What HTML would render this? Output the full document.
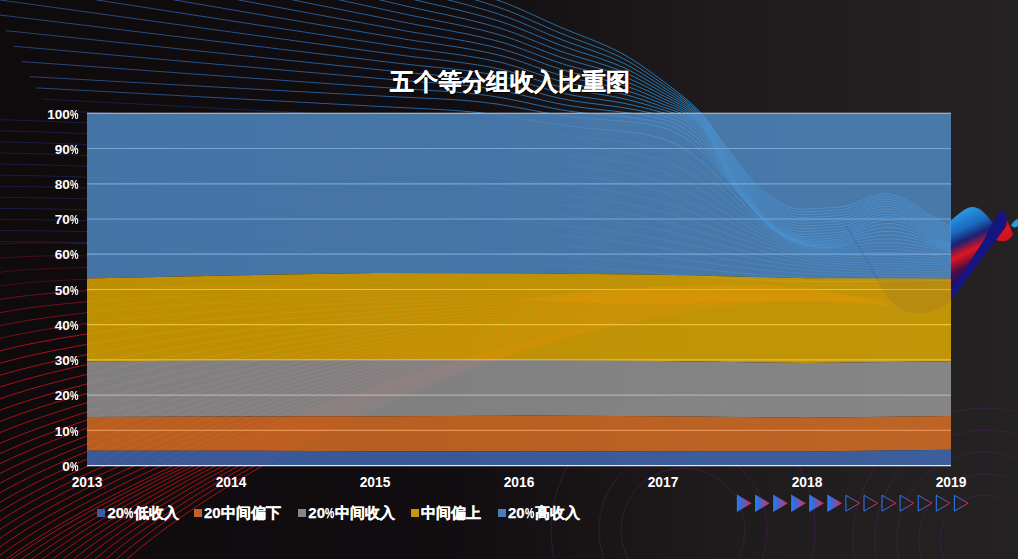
<!DOCTYPE html>
<html><head><meta charset="utf-8"><style>
html,body{margin:0;padding:0;}
body{width:1018px;height:559px;overflow:hidden;position:relative;background:#110c0f;font-family:"Liberation Sans",sans-serif;color:#fff;}
.t{position:absolute;white-space:nowrap;font-weight:bold;}
.title{left:1px;width:1018px;text-align:center;top:65px;font-size:23.7px;line-height:34px;text-shadow:1px 1px 1px #000;-webkit-text-stroke:0.15px #fff;}
.yl{position:absolute;right:939.5px;font-size:13.6px;line-height:16px;font-weight:bold;text-align:right;}
.xl{position:absolute;width:60px;margin-left:-30px;text-align:center;font-size:13.8px;line-height:16px;font-weight:bold;}
.pc{display:inline-block;transform:scaleX(0.7);transform-origin:left center;margin-right:-3.5px;}
.lg{position:absolute;top:503px;font-size:15px;line-height:20px;font-weight:bold;-webkit-text-stroke:0.25px #fff;}
.sq{position:absolute;width:8px;height:8px;top:509px;}
</style></head><body>
<svg width="1018" height="559" viewBox="0 0 1018 559" style="position:absolute;left:0;top:0">
<defs>
<linearGradient id="bg" gradientUnits="userSpaceOnUse" x1="0" y1="0" x2="1018" y2="0">
<stop offset="0" stop-color="#0f0a0c"/><stop offset="0.45" stop-color="#120d10"/><stop offset="0.7" stop-color="#1f1b1c"/><stop offset="1" stop-color="#252223"/></linearGradient>
<linearGradient id="bluegrad" gradientUnits="userSpaceOnUse" x1="0" y1="0" x2="700" y2="0"><stop offset="0" stop-color="#2d4f8c"/><stop offset="0.45" stop-color="#2b6cb0"/><stop offset="1" stop-color="#2a90d8"/></linearGradient>
<linearGradient id="tri" x1="0" y1="0" x2="1" y2="0">
<stop offset="0" stop-color="#2a7cf2"/><stop offset="0.3" stop-color="#3a6ad8"/><stop offset="0.65" stop-color="#904c98"/><stop offset="1" stop-color="#f41c30"/></linearGradient>
<linearGradient id="rib" x1="0" y1="0" x2="1" y2="1">
<stop offset="0" stop-color="#1a90e0"/><stop offset="0.4" stop-color="#101a70"/><stop offset="0.6" stop-color="#e01828"/><stop offset="1" stop-color="#1a0a60"/></linearGradient>
</defs>
<rect width="1018" height="559" fill="url(#bg)"/>
<circle cx="683" cy="530" r="62" fill="none" stroke="#4a1f5a" stroke-width="1" opacity="0.55"/>
<circle cx="683" cy="530" r="84" fill="none" stroke="#4a1f5a" stroke-width="1" opacity="0.55"/>
<circle cx="683" cy="530" r="132" fill="none" stroke="#4a1f5a" stroke-width="1" opacity="0.55"/>
<circle cx="985" cy="540" r="45" fill="none" stroke="#4a1f5a" stroke-width="1" opacity="0.55"/>
<circle cx="985" cy="540" r="66" fill="none" stroke="#4a1f5a" stroke-width="1" opacity="0.55"/>
<circle cx="985" cy="540" r="88" fill="none" stroke="#4a1f5a" stroke-width="1" opacity="0.55"/>
<circle cx="985" cy="540" r="110" fill="none" stroke="#4a1f5a" stroke-width="1" opacity="0.55"/>
<circle cx="985" cy="540" r="132" fill="none" stroke="#4a1f5a" stroke-width="1" opacity="0.55"/>
<g id="bglines">
<defs><linearGradient id="bdim" gradientUnits="userSpaceOnUse" x1="87" y1="0" x2="951" y2="0"><stop offset="0" stop-color="#666"/><stop offset="0.5" stop-color="#777"/><stop offset="0.7" stop-color="#fff"/><stop offset="1" stop-color="#fff"/></linearGradient><mask id="bmask" maskUnits="userSpaceOnUse" x="0" y="0" width="1018" height="559"><rect width="1018" height="559" fill="#fff"/><rect x="87" y="113" width="864" height="353" fill="url(#bdim)"/></mask></defs>
<g mask="url(#bmask)">
<defs><linearGradient id="navygrad" gradientUnits="userSpaceOnUse" x1="0" y1="0" x2="951" y2="0"><stop offset="0" stop-color="#1e2a6a"/><stop offset="0.5" stop-color="#24408a"/><stop offset="1" stop-color="#3a8ad8"/></linearGradient></defs>
<path d="M-20.0,-156.1 L-18.0,-155.5 L-16.0,-154.9 L-14.0,-154.3 L-12.0,-153.7 L-10.0,-153.0 L-8.0,-152.4 L-6.0,-151.8 L-4.0,-151.2 L-2.0,-150.6 L0.0,-150.0 L2.0,-149.4 L4.0,-148.8 L6.0,-148.2 L8.0,-147.6 L10.0,-147.0 L12.0,-146.3 L14.0,-145.7 L16.0,-145.1 L18.0,-144.5 L20.0,-143.9 L22.0,-143.3 L24.0,-142.7 L26.0,-142.1 L28.0,-141.5 L30.0,-140.9 L32.0,-140.3 L34.0,-139.7 L36.0,-139.0 L38.0,-138.4 L40.0,-137.8 L42.0,-137.2 L44.0,-136.6 L46.0,-136.0 L48.0,-135.4 L50.0,-134.8 L52.0,-134.2 L54.0,-133.6 L56.0,-133.0 L58.0,-132.4 L60.0,-131.8 L62.0,-131.1 L64.0,-130.5 L66.0,-129.9 L68.0,-129.3 L70.0,-128.7 L72.0,-128.1 L74.0,-127.5 L76.0,-126.9 L78.0,-126.3 L80.0,-125.7 L82.0,-125.1 L84.0,-124.5 L86.0,-123.9 L88.0,-123.2 L90.0,-122.6 L92.0,-122.0 L94.0,-121.4 L96.0,-120.8 L98.0,-120.2 L100.0,-119.6 L102.0,-119.0 L104.0,-118.4 L106.0,-117.8 L108.0,-117.2 L110.0,-116.6 L112.0,-116.0 L114.0,-115.3 L116.0,-114.7 L118.0,-114.1 L120.0,-113.5 L122.0,-112.9 L124.0,-112.3 L126.0,-111.7 L128.0,-111.1 L130.0,-110.5 L132.0,-109.9 L134.0,-109.3 L136.0,-108.7 L138.0,-108.0 L140.0,-107.4 L142.0,-106.8 L144.0,-106.2 L146.0,-105.6 L148.0,-105.0 L150.0,-104.4 L152.0,-103.8 L154.0,-103.2 L156.0,-102.6 L158.0,-102.0 L160.0,-101.4 L162.0,-100.7 L164.0,-100.1 L166.0,-99.5 L168.0,-98.9 L170.0,-98.3 L172.0,-97.7 L174.0,-97.1 L176.0,-96.5 L178.0,-95.9 L180.0,-95.3 L182.0,-94.7 L184.0,-94.1 L186.0,-93.5 L188.0,-92.8 L190.0,-92.2 L192.0,-91.6 L194.0,-91.0 L196.0,-90.4 L198.0,-89.8 L200.0,-89.2 L202.0,-88.6 L204.0,-88.0 L206.0,-87.4 L208.0,-86.8 L210.0,-86.2 L212.0,-85.6 L214.0,-84.9 L216.0,-84.3 L218.0,-83.7 L220.0,-83.1 L222.0,-82.5 L224.0,-81.9 L226.0,-81.3 L228.0,-80.7 L230.0,-80.1 L232.0,-79.5 L234.0,-78.9 L236.0,-78.3 L238.0,-77.6 L240.0,-77.0 L242.0,-76.4 L244.0,-75.8 L246.0,-75.2 L248.0,-74.6 L250.0,-74.0 L252.0,-73.4 L254.0,-72.8 L256.0,-72.2 L258.0,-71.6 L260.0,-70.9 L262.0,-70.3 L264.0,-69.7 L266.0,-69.1 L268.0,-68.5 L270.0,-67.9 L272.0,-67.3 L274.0,-66.7 L276.0,-66.1 L278.0,-65.5 L280.0,-64.9 L282.0,-64.3 L284.0,-63.7 L286.0,-63.1 L288.0,-62.5 L290.0,-61.8 L292.0,-61.2 L294.0,-60.6 L296.0,-60.0 L298.0,-59.4 L300.0,-58.8 L302.0,-58.2 L304.0,-57.6 L306.0,-57.0 L308.0,-56.4 L310.0,-55.8 L312.0,-55.2 L314.0,-54.6 L316.0,-54.0 L318.0,-53.4 L320.0,-52.8 L322.0,-52.2 L324.0,-51.6 L326.0,-51.0 L328.0,-50.4 L330.0,-49.8 L332.0,-49.2 L334.0,-48.6 L336.0,-48.0 L338.0,-47.4 L340.0,-46.8 L342.0,-46.2 L344.0,-45.6 L346.0,-45.0 L348.0,-44.4 L350.0,-43.9 L352.0,-43.3 L354.0,-42.7 L356.0,-42.1 L358.0,-41.5 L360.0,-40.9 L362.0,-40.3 L364.0,-39.7 L366.0,-39.1 L368.0,-38.5 L370.0,-37.9 L372.0,-37.3 L374.0,-36.7 L376.0,-36.1 L378.0,-35.5 L380.0,-35.0 L382.0,-34.4 L384.0,-33.8 L386.0,-33.2 L388.0,-32.6 L390.0,-32.0 L392.0,-31.4 L394.0,-30.8 L396.0,-30.2 L398.0,-29.6 L400.0,-29.0 L402.0,-28.4 L404.0,-27.8 L406.0,-27.2 L408.0,-26.6 L410.0,-26.1 L412.0,-25.5 L414.0,-24.9 L416.0,-24.3 L418.0,-23.8 L420.0,-23.2 L422.0,-22.6 L424.0,-22.1 L426.0,-21.5 L428.0,-21.0 L430.0,-20.4 L432.0,-19.8 L434.0,-19.3 L436.0,-18.7 L438.0,-18.2 L440.0,-17.6 L442.0,-17.0 L444.0,-16.5 L446.0,-15.9 L448.0,-15.3 L450.0,-14.8 L452.0,-14.2 L454.0,-13.6 L456.0,-13.0 L458.0,-12.5 L460.0,-11.9 L462.0,-11.3 L464.0,-10.7 L466.0,-10.1 L468.0,-9.5 L470.0,-8.9 L472.0,-8.3 L474.0,-7.7 L476.0,-7.0 L478.0,-6.4 L480.0,-5.8 L482.0,-5.1 L484.0,-4.5 L486.0,-3.8 L488.0,-3.2 L490.0,-2.5 L492.0,-1.8 L494.0,-1.1 L496.0,-0.4 L498.0,0.3 L500.0,1.0 L502.0,1.7 L504.0,2.5 L506.0,3.2 L508.0,4.0 L510.0,4.8 L512.0,5.6 L514.0,6.5 L516.0,7.3 L518.0,8.2 L520.0,9.0 L522.0,9.9 L524.0,10.8 L526.0,11.7 L528.0,12.6 L530.0,13.5 L532.0,14.4 L534.0,15.3 L536.0,16.2 L538.0,17.1 L540.0,18.0 L542.0,19.0 L544.0,19.9 L546.0,20.8 L548.0,21.7 L550.0,22.6 L552.0,23.5 L554.0,24.4 L556.0,25.3 L558.0,26.1 L560.0,27.0 L562.0,27.9 L564.0,28.7 L566.0,29.5 L568.0,30.3 L570.0,31.1 L572.0,31.9 L574.0,32.7 L576.0,33.5 L578.0,34.3 L580.0,35.1 L582.0,35.9 L584.0,36.7 L586.0,37.5 L588.0,38.3 L590.0,39.0 L592.0,39.8 L594.0,40.7 L596.0,41.5 L598.0,42.3 L600.0,43.1 L602.0,44.0 L604.0,44.9 L606.0,45.7 L608.0,46.6 L610.0,47.6 L612.0,48.5 L614.0,49.5 L616.0,50.4 L618.0,51.4 L620.0,52.5 L622.0,53.5 L624.0,54.6 L626.0,55.8 L628.0,56.9 L630.0,58.2 L632.0,59.4 L634.0,60.7 L636.0,62.0 L638.0,63.3 L640.0,64.6 L642.0,66.0 L644.0,67.4 L646.0,68.8 L648.0,70.2 L650.0,71.7 L652.0,73.1 L654.0,74.6 L656.0,76.1 L658.0,77.5 L660.0,79.0 L662.0,80.5 L664.0,81.9 L666.0,83.4 L668.0,84.9 L670.0,86.4 L672.0,87.9 L674.0,89.4 L676.0,90.9 L678.0,92.5 L680.0,94.0 L682.0,95.6 L684.0,97.3 L686.0,99.0 L688.0,100.7 L690.0,102.4 L692.0,104.2 L694.0,106.1 L696.0,108.0 L698.0,110.0 L700.0,112.0 L702.0,114.2 L704.0,116.5 L706.0,118.9 L708.0,121.5 L710.0,124.2 L712.0,127.0 L714.0,129.8 L716.0,132.7 L718.0,135.6 L720.0,138.5 L722.0,141.3 L724.0,144.1 L726.0,146.8 L728.0,149.5 L730.0,152.0 L732.0,154.5 L734.0,157.0 L736.0,159.6 L738.0,162.2 L740.0,164.8 L742.0,167.4 L744.0,170.0 L746.0,172.6 L748.0,175.1 L750.0,177.5 L752.0,179.9 L754.0,182.2 L756.0,184.4 L758.0,186.5 L760.0,188.4 L762.0,190.2 L764.0,191.9 L766.0,193.3 L768.0,194.6 L770.0,195.9 L772.0,197.2 L774.0,198.5 L776.0,199.8 L778.0,201.0 L780.0,202.2 L782.0,203.4 L784.0,204.4 L786.0,205.4 L788.0,206.3 L790.0,207.1 L792.0,207.7 L794.0,208.3 L796.0,208.7 L798.0,208.9 L800.0,209.0 L802.0,209.0 L804.0,209.0 L806.0,208.9 L808.0,208.9 L810.0,208.8 L812.0,208.8 L814.0,208.7 L816.0,208.6 L818.0,208.5 L820.0,208.4 L822.0,208.3 L824.0,208.2 L826.0,208.1 L828.0,207.9 L830.0,207.8 L832.0,207.6 L834.0,207.5 L836.0,207.3 L838.0,207.2 L840.0,207.0 L842.0,206.8 L844.0,206.4 L846.0,206.0 L848.0,205.5 L850.0,204.9 L852.0,204.2 L854.0,203.4 L856.0,202.7 L858.0,201.9 L860.0,201.1 L862.0,200.2 L864.0,199.4 L866.0,198.6 L868.0,197.8 L870.0,197.1 L872.0,196.4 L874.0,195.8 L876.0,195.2 L878.0,194.8 L880.0,194.4 L882.0,194.1 L884.0,194.0 L886.0,194.0 L888.0,194.1 L890.0,194.4 L892.0,194.8 L894.0,195.2 L896.0,195.8 L898.0,196.5 L900.0,197.3 L902.0,198.1 L904.0,199.0 L906.0,200.0 L908.0,201.1 L910.0,202.2 L912.0,203.4 L914.0,204.6 L916.0,205.8 L918.0,207.1 L920.0,208.4 L922.0,209.7 L924.0,211.0 L926.0,212.3 L928.0,213.6 L930.0,214.9 L932.0,216.2 L934.0,217.4 L936.0,218.6 L938.0,219.8 L940.0,220.9 L942.0,222.0 L944.0,223.0 L946.0,224.0 L948.0,224.8 L950.0,225.6" fill="none" stroke="url(#bluegrad)" stroke-width="0.9" opacity="0.90"/>
<path d="M-20.0,-140.8 L-18.0,-140.2 L-16.0,-139.6 L-14.0,-139.0 L-12.0,-138.5 L-10.0,-137.9 L-8.0,-137.3 L-6.0,-136.7 L-4.0,-136.2 L-2.0,-135.6 L0.0,-135.0 L2.0,-134.4 L4.0,-133.8 L6.0,-133.3 L8.0,-132.7 L10.0,-132.1 L12.0,-131.5 L14.0,-131.0 L16.0,-130.4 L18.0,-129.8 L20.0,-129.2 L22.0,-128.7 L24.0,-128.1 L26.0,-127.5 L28.0,-126.9 L30.0,-126.4 L32.0,-125.8 L34.0,-125.2 L36.0,-124.6 L38.0,-124.1 L40.0,-123.5 L42.0,-122.9 L44.0,-122.3 L46.0,-121.8 L48.0,-121.2 L50.0,-120.6 L52.0,-120.0 L54.0,-119.5 L56.0,-118.9 L58.0,-118.3 L60.0,-117.8 L62.0,-117.2 L64.0,-116.6 L66.0,-116.0 L68.0,-115.5 L70.0,-114.9 L72.0,-114.3 L74.0,-113.7 L76.0,-113.2 L78.0,-112.6 L80.0,-112.0 L82.0,-111.4 L84.0,-110.9 L86.0,-110.3 L88.0,-109.7 L90.0,-109.1 L92.0,-108.6 L94.0,-108.0 L96.0,-107.4 L98.0,-106.8 L100.0,-106.3 L102.0,-105.7 L104.0,-105.1 L106.0,-104.5 L108.0,-104.0 L110.0,-103.4 L112.0,-102.8 L114.0,-102.2 L116.0,-101.7 L118.0,-101.1 L120.0,-100.5 L122.0,-99.9 L124.0,-99.4 L126.0,-98.8 L128.0,-98.2 L130.0,-97.6 L132.0,-97.1 L134.0,-96.5 L136.0,-95.9 L138.0,-95.3 L140.0,-94.8 L142.0,-94.2 L144.0,-93.6 L146.0,-93.0 L148.0,-92.5 L150.0,-91.9 L152.0,-91.3 L154.0,-90.7 L156.0,-90.2 L158.0,-89.6 L160.0,-89.0 L162.0,-88.4 L164.0,-87.9 L166.0,-87.3 L168.0,-86.7 L170.0,-86.1 L172.0,-85.6 L174.0,-85.0 L176.0,-84.4 L178.0,-83.8 L180.0,-83.3 L182.0,-82.7 L184.0,-82.1 L186.0,-81.5 L188.0,-81.0 L190.0,-80.4 L192.0,-79.8 L194.0,-79.2 L196.0,-78.7 L198.0,-78.1 L200.0,-77.5 L202.0,-76.9 L204.0,-76.4 L206.0,-75.8 L208.0,-75.2 L210.0,-74.6 L212.0,-74.1 L214.0,-73.5 L216.0,-72.9 L218.0,-72.3 L220.0,-71.8 L222.0,-71.2 L224.0,-70.6 L226.0,-70.0 L228.0,-69.5 L230.0,-68.9 L232.0,-68.3 L234.0,-67.7 L236.0,-67.2 L238.0,-66.6 L240.0,-66.0 L242.0,-65.4 L244.0,-64.9 L246.0,-64.3 L248.0,-63.7 L250.0,-63.1 L252.0,-62.6 L254.0,-62.0 L256.0,-61.4 L258.0,-60.8 L260.0,-60.3 L262.0,-59.7 L264.0,-59.1 L266.0,-58.5 L268.0,-58.0 L270.0,-57.4 L272.0,-56.8 L274.0,-56.2 L276.0,-55.7 L278.0,-55.1 L280.0,-54.5 L282.0,-53.9 L284.0,-53.4 L286.0,-52.8 L288.0,-52.2 L290.0,-51.7 L292.0,-51.1 L294.0,-50.5 L296.0,-49.9 L298.0,-49.4 L300.0,-48.8 L302.0,-48.2 L304.0,-47.7 L306.0,-47.1 L308.0,-46.5 L310.0,-45.9 L312.0,-45.4 L314.0,-44.8 L316.0,-44.2 L318.0,-43.7 L320.0,-43.1 L322.0,-42.5 L324.0,-42.0 L326.0,-41.4 L328.0,-40.8 L330.0,-40.3 L332.0,-39.7 L334.0,-39.1 L336.0,-38.6 L338.0,-38.0 L340.0,-37.4 L342.0,-36.9 L344.0,-36.3 L346.0,-35.8 L348.0,-35.2 L350.0,-34.6 L352.0,-34.1 L354.0,-33.5 L356.0,-33.0 L358.0,-32.4 L360.0,-31.8 L362.0,-31.3 L364.0,-30.7 L366.0,-30.1 L368.0,-29.6 L370.0,-29.0 L372.0,-28.5 L374.0,-27.9 L376.0,-27.3 L378.0,-26.8 L380.0,-26.2 L382.0,-25.7 L384.0,-25.1 L386.0,-24.5 L388.0,-24.0 L390.0,-23.4 L392.0,-22.8 L394.0,-22.3 L396.0,-21.7 L398.0,-21.2 L400.0,-20.6 L402.0,-20.0 L404.0,-19.5 L406.0,-18.9 L408.0,-18.4 L410.0,-17.8 L412.0,-17.3 L414.0,-16.7 L416.0,-16.2 L418.0,-15.7 L420.0,-15.1 L422.0,-14.6 L424.0,-14.1 L426.0,-13.5 L428.0,-13.0 L430.0,-12.5 L432.0,-12.0 L434.0,-11.4 L436.0,-10.9 L438.0,-10.4 L440.0,-9.8 L442.0,-9.3 L444.0,-8.8 L446.0,-8.3 L448.0,-7.7 L450.0,-7.2 L452.0,-6.6 L454.0,-6.1 L456.0,-5.6 L458.0,-5.0 L460.0,-4.5 L462.0,-3.9 L464.0,-3.3 L466.0,-2.8 L468.0,-2.2 L470.0,-1.6 L472.0,-1.1 L474.0,-0.5 L476.0,0.1 L478.0,0.7 L480.0,1.3 L482.0,1.9 L484.0,2.6 L486.0,3.2 L488.0,3.8 L490.0,4.5 L492.0,5.1 L494.0,5.8 L496.0,6.4 L498.0,7.1 L500.0,7.8 L502.0,8.5 L504.0,9.2 L506.0,10.0 L508.0,10.7 L510.0,11.5 L512.0,12.3 L514.0,13.1 L516.0,13.9 L518.0,14.7 L520.0,15.6 L522.0,16.4 L524.0,17.3 L526.0,18.1 L528.0,19.0 L530.0,19.9 L532.0,20.8 L534.0,21.7 L536.0,22.6 L538.0,23.4 L540.0,24.3 L542.0,25.2 L544.0,26.1 L546.0,27.0 L548.0,27.9 L550.0,28.7 L552.0,29.6 L554.0,30.5 L556.0,31.3 L558.0,32.2 L560.0,33.0 L562.0,33.8 L564.0,34.6 L566.0,35.4 L568.0,36.2 L570.0,37.0 L572.0,37.7 L574.0,38.5 L576.0,39.2 L578.0,40.0 L580.0,40.7 L582.0,41.4 L584.0,42.2 L586.0,42.9 L588.0,43.7 L590.0,44.4 L592.0,45.2 L594.0,45.9 L596.0,46.7 L598.0,47.5 L600.0,48.2 L602.0,49.0 L604.0,49.9 L606.0,50.7 L608.0,51.5 L610.0,52.4 L612.0,53.3 L614.0,54.2 L616.0,55.1 L618.0,56.0 L620.0,57.0 L622.0,58.0 L624.0,59.0 L626.0,60.1 L628.0,61.2 L630.0,62.3 L632.0,63.5 L634.0,64.7 L636.0,65.9 L638.0,67.2 L640.0,68.4 L642.0,69.7 L644.0,71.1 L646.0,72.4 L648.0,73.7 L650.0,75.1 L652.0,76.4 L654.0,77.8 L656.0,79.2 L658.0,80.6 L660.0,82.0 L662.0,83.4 L664.0,84.8 L666.0,86.2 L668.0,87.5 L670.0,88.9 L672.0,90.3 L674.0,91.7 L676.0,93.2 L678.0,94.6 L680.0,96.1 L682.0,97.6 L684.0,99.2 L686.0,100.8 L688.0,102.4 L690.0,104.1 L692.0,105.8 L694.0,107.7 L696.0,109.5 L698.0,111.5 L700.0,113.5 L702.0,115.7 L704.0,118.0 L706.0,120.5 L708.0,123.1 L710.0,125.9 L712.0,128.7 L714.0,131.6 L716.0,134.5 L718.0,137.5 L720.0,140.4 L722.0,143.3 L724.0,146.2 L726.0,149.0 L728.0,151.6 L730.0,154.2 L732.0,156.7 L734.0,159.3 L736.0,161.9 L738.0,164.5 L740.0,167.2 L742.0,169.8 L744.0,172.4 L746.0,175.0 L748.0,177.5 L750.0,180.0 L752.0,182.4 L754.0,184.7 L756.0,186.9 L758.0,189.0 L760.0,191.0 L762.0,192.8 L764.0,194.4 L766.0,195.9 L768.0,197.3 L770.0,198.6 L772.0,199.9 L774.0,201.2 L776.0,202.5 L778.0,203.7 L780.0,204.9 L782.0,206.1 L784.0,207.1 L786.0,208.1 L788.0,209.0 L790.0,209.8 L792.0,210.5 L794.0,211.1 L796.0,211.5 L798.0,211.7 L800.0,211.8 L802.0,211.8 L804.0,211.8 L806.0,211.7 L808.0,211.7 L810.0,211.6 L812.0,211.6 L814.0,211.5 L816.0,211.4 L818.0,211.3 L820.0,211.2 L822.0,211.1 L824.0,211.0 L826.0,210.9 L828.0,210.7 L830.0,210.6 L832.0,210.4 L834.0,210.3 L836.0,210.1 L838.0,210.0 L840.0,209.8 L842.0,209.6 L844.0,209.2 L846.0,208.8 L848.0,208.2 L850.0,207.6 L852.0,206.9 L854.0,206.2 L856.0,205.4 L858.0,204.6 L860.0,203.8 L862.0,202.9 L864.0,202.1 L866.0,201.3 L868.0,200.5 L870.0,199.7 L872.0,199.0 L874.0,198.4 L876.0,197.8 L878.0,197.3 L880.0,196.9 L882.0,196.7 L884.0,196.5 L886.0,196.5 L888.0,196.6 L890.0,196.9 L892.0,197.2 L894.0,197.7 L896.0,198.2 L898.0,198.9 L900.0,199.6 L902.0,200.5 L904.0,201.4 L906.0,202.4 L908.0,203.4 L910.0,204.5 L912.0,205.6 L914.0,206.8 L916.0,208.0 L918.0,209.3 L920.0,210.5 L922.0,211.8 L924.0,213.1 L926.0,214.4 L928.0,215.7 L930.0,217.0 L932.0,218.2 L934.0,219.5 L936.0,220.7 L938.0,221.8 L940.0,222.9 L942.0,224.0 L944.0,225.0 L946.0,226.0 L948.0,226.8 L950.0,227.6" fill="none" stroke="url(#bluegrad)" stroke-width="0.9" opacity="0.90"/>
<path d="M-20.0,-125.4 L-18.0,-124.9 L-16.0,-124.3 L-14.0,-123.8 L-12.0,-123.3 L-10.0,-122.7 L-8.0,-122.2 L-6.0,-121.6 L-4.0,-121.1 L-2.0,-120.5 L0.0,-120.0 L2.0,-119.5 L4.0,-118.9 L6.0,-118.4 L8.0,-117.8 L10.0,-117.3 L12.0,-116.7 L14.0,-116.2 L16.0,-115.7 L18.0,-115.1 L20.0,-114.6 L22.0,-114.0 L24.0,-113.5 L26.0,-112.9 L28.0,-112.4 L30.0,-111.9 L32.0,-111.3 L34.0,-110.8 L36.0,-110.2 L38.0,-109.7 L40.0,-109.2 L42.0,-108.6 L44.0,-108.1 L46.0,-107.5 L48.0,-107.0 L50.0,-106.5 L52.0,-105.9 L54.0,-105.4 L56.0,-104.8 L58.0,-104.3 L60.0,-103.7 L62.0,-103.2 L64.0,-102.7 L66.0,-102.1 L68.0,-101.6 L70.0,-101.0 L72.0,-100.5 L74.0,-100.0 L76.0,-99.4 L78.0,-98.9 L80.0,-98.3 L82.0,-97.8 L84.0,-97.3 L86.0,-96.7 L88.0,-96.2 L90.0,-95.6 L92.0,-95.1 L94.0,-94.5 L96.0,-94.0 L98.0,-93.5 L100.0,-92.9 L102.0,-92.4 L104.0,-91.8 L106.0,-91.3 L108.0,-90.8 L110.0,-90.2 L112.0,-89.7 L114.0,-89.1 L116.0,-88.6 L118.0,-88.0 L120.0,-87.5 L122.0,-87.0 L124.0,-86.4 L126.0,-85.9 L128.0,-85.3 L130.0,-84.8 L132.0,-84.2 L134.0,-83.7 L136.0,-83.2 L138.0,-82.6 L140.0,-82.1 L142.0,-81.5 L144.0,-81.0 L146.0,-80.5 L148.0,-79.9 L150.0,-79.4 L152.0,-78.8 L154.0,-78.3 L156.0,-77.7 L158.0,-77.2 L160.0,-76.7 L162.0,-76.1 L164.0,-75.6 L166.0,-75.0 L168.0,-74.5 L170.0,-73.9 L172.0,-73.4 L174.0,-72.9 L176.0,-72.3 L178.0,-71.8 L180.0,-71.2 L182.0,-70.7 L184.0,-70.2 L186.0,-69.6 L188.0,-69.1 L190.0,-68.5 L192.0,-68.0 L194.0,-67.4 L196.0,-66.9 L198.0,-66.4 L200.0,-65.8 L202.0,-65.3 L204.0,-64.7 L206.0,-64.2 L208.0,-63.7 L210.0,-63.1 L212.0,-62.6 L214.0,-62.0 L216.0,-61.5 L218.0,-60.9 L220.0,-60.4 L222.0,-59.9 L224.0,-59.3 L226.0,-58.8 L228.0,-58.2 L230.0,-57.7 L232.0,-57.2 L234.0,-56.6 L236.0,-56.1 L238.0,-55.5 L240.0,-55.0 L242.0,-54.4 L244.0,-53.9 L246.0,-53.4 L248.0,-52.8 L250.0,-52.3 L252.0,-51.7 L254.0,-51.2 L256.0,-50.6 L258.0,-50.1 L260.0,-49.6 L262.0,-49.0 L264.0,-48.5 L266.0,-47.9 L268.0,-47.4 L270.0,-46.9 L272.0,-46.3 L274.0,-45.8 L276.0,-45.2 L278.0,-44.7 L280.0,-44.2 L282.0,-43.6 L284.0,-43.1 L286.0,-42.5 L288.0,-42.0 L290.0,-41.5 L292.0,-40.9 L294.0,-40.4 L296.0,-39.8 L298.0,-39.3 L300.0,-38.8 L302.0,-38.2 L304.0,-37.7 L306.0,-37.2 L308.0,-36.6 L310.0,-36.1 L312.0,-35.5 L314.0,-35.0 L316.0,-34.5 L318.0,-33.9 L320.0,-33.4 L322.0,-32.9 L324.0,-32.3 L326.0,-31.8 L328.0,-31.3 L330.0,-30.7 L332.0,-30.2 L334.0,-29.7 L336.0,-29.1 L338.0,-28.6 L340.0,-28.1 L342.0,-27.5 L344.0,-27.0 L346.0,-26.5 L348.0,-26.0 L350.0,-25.4 L352.0,-24.9 L354.0,-24.4 L356.0,-23.8 L358.0,-23.3 L360.0,-22.8 L362.0,-22.3 L364.0,-21.7 L366.0,-21.2 L368.0,-20.7 L370.0,-20.1 L372.0,-19.6 L374.0,-19.1 L376.0,-18.5 L378.0,-18.0 L380.0,-17.5 L382.0,-17.0 L384.0,-16.4 L386.0,-15.9 L388.0,-15.4 L390.0,-14.8 L392.0,-14.3 L394.0,-13.8 L396.0,-13.2 L398.0,-12.7 L400.0,-12.2 L402.0,-11.6 L404.0,-11.1 L406.0,-10.6 L408.0,-10.1 L410.0,-9.6 L412.0,-9.1 L414.0,-8.6 L416.0,-8.0 L418.0,-7.5 L420.0,-7.0 L422.0,-6.5 L424.0,-6.0 L426.0,-5.6 L428.0,-5.1 L430.0,-4.6 L432.0,-4.1 L434.0,-3.6 L436.0,-3.1 L438.0,-2.6 L440.0,-2.1 L442.0,-1.6 L444.0,-1.1 L446.0,-0.6 L448.0,-0.1 L450.0,0.4 L452.0,0.9 L454.0,1.4 L456.0,1.9 L458.0,2.4 L460.0,3.0 L462.0,3.5 L464.0,4.0 L466.0,4.5 L468.0,5.1 L470.0,5.6 L472.0,6.2 L474.0,6.7 L476.0,7.3 L478.0,7.9 L480.0,8.4 L482.0,9.0 L484.0,9.6 L486.0,10.2 L488.0,10.8 L490.0,11.4 L492.0,12.0 L494.0,12.7 L496.0,13.3 L498.0,13.9 L500.0,14.6 L502.0,15.3 L504.0,16.0 L506.0,16.7 L508.0,17.4 L510.0,18.2 L512.0,18.9 L514.0,19.7 L516.0,20.5 L518.0,21.3 L520.0,22.1 L522.0,22.9 L524.0,23.8 L526.0,24.6 L528.0,25.5 L530.0,26.3 L532.0,27.2 L534.0,28.0 L536.0,28.9 L538.0,29.8 L540.0,30.6 L542.0,31.5 L544.0,32.4 L546.0,33.2 L548.0,34.1 L550.0,34.9 L552.0,35.7 L554.0,36.6 L556.0,37.4 L558.0,38.2 L560.0,39.0 L562.0,39.8 L564.0,40.5 L566.0,41.3 L568.0,42.0 L570.0,42.8 L572.0,43.5 L574.0,44.2 L576.0,44.9 L578.0,45.6 L580.0,46.3 L582.0,47.0 L584.0,47.7 L586.0,48.4 L588.0,49.1 L590.0,49.8 L592.0,50.5 L594.0,51.2 L596.0,51.9 L598.0,52.6 L600.0,53.4 L602.0,54.1 L604.0,54.9 L606.0,55.6 L608.0,56.4 L610.0,57.2 L612.0,58.0 L614.0,58.9 L616.0,59.7 L618.0,60.6 L620.0,61.5 L622.0,62.5 L624.0,63.4 L626.0,64.4 L628.0,65.5 L630.0,66.5 L632.0,67.6 L634.0,68.8 L636.0,69.9 L638.0,71.1 L640.0,72.3 L642.0,73.5 L644.0,74.7 L646.0,75.9 L648.0,77.2 L650.0,78.5 L652.0,79.8 L654.0,81.1 L656.0,82.4 L658.0,83.7 L660.0,85.0 L662.0,86.3 L664.0,87.6 L666.0,88.9 L668.0,90.2 L670.0,91.5 L672.0,92.8 L674.0,94.1 L676.0,95.4 L678.0,96.8 L680.0,98.2 L682.0,99.6 L684.0,101.0 L686.0,102.6 L688.0,104.1 L690.0,105.8 L692.0,107.4 L694.0,109.2 L696.0,111.1 L698.0,113.0 L700.0,115.0 L702.0,117.2 L704.0,119.5 L706.0,122.1 L708.0,124.7 L710.0,127.5 L712.0,130.4 L714.0,133.3 L716.0,136.3 L718.0,139.4 L720.0,142.4 L722.0,145.3 L724.0,148.2 L726.0,151.1 L728.0,153.8 L730.0,156.4 L732.0,158.9 L734.0,161.5 L736.0,164.2 L738.0,166.8 L740.0,169.5 L742.0,172.2 L744.0,174.8 L746.0,177.4 L748.0,179.9 L750.0,182.4 L752.0,184.9 L754.0,187.2 L756.0,189.4 L758.0,191.5 L760.0,193.5 L762.0,195.3 L764.0,197.0 L766.0,198.5 L768.0,199.9 L770.0,201.2 L772.0,202.5 L774.0,203.8 L776.0,205.2 L778.0,206.4 L780.0,207.6 L782.0,208.8 L784.0,209.9 L786.0,210.9 L788.0,211.8 L790.0,212.6 L792.0,213.3 L794.0,213.8 L796.0,214.3 L798.0,214.5 L800.0,214.6 L802.0,214.6 L804.0,214.6 L806.0,214.5 L808.0,214.5 L810.0,214.4 L812.0,214.4 L814.0,214.3 L816.0,214.2 L818.0,214.1 L820.0,214.0 L822.0,213.9 L824.0,213.8 L826.0,213.7 L828.0,213.5 L830.0,213.4 L832.0,213.2 L834.0,213.1 L836.0,212.9 L838.0,212.8 L840.0,212.6 L842.0,212.4 L844.0,212.0 L846.0,211.6 L848.0,211.0 L850.0,210.4 L852.0,209.7 L854.0,209.0 L856.0,208.2 L858.0,207.3 L860.0,206.5 L862.0,205.6 L864.0,204.8 L866.0,203.9 L868.0,203.1 L870.0,202.3 L872.0,201.6 L874.0,201.0 L876.0,200.4 L878.0,199.9 L880.0,199.5 L882.0,199.2 L884.0,199.0 L886.0,199.0 L888.0,199.1 L890.0,199.3 L892.0,199.7 L894.0,200.1 L896.0,200.6 L898.0,201.3 L900.0,202.0 L902.0,202.8 L904.0,203.7 L906.0,204.7 L908.0,205.7 L910.0,206.7 L912.0,207.9 L914.0,209.0 L916.0,210.2 L918.0,211.5 L920.0,212.7 L922.0,214.0 L924.0,215.2 L926.0,216.5 L928.0,217.8 L930.0,219.1 L932.0,220.3 L934.0,221.5 L936.0,222.7 L938.0,223.9 L940.0,225.0 L942.0,226.0 L944.0,227.0 L946.0,228.0 L948.0,228.8 L950.0,229.6" fill="none" stroke="url(#bluegrad)" stroke-width="0.9" opacity="0.90"/>
<path d="M-20.0,-110.1 L-18.0,-109.6 L-16.0,-109.1 L-14.0,-108.6 L-12.0,-108.1 L-10.0,-107.6 L-8.0,-107.0 L-6.0,-106.5 L-4.0,-106.0 L-2.0,-105.5 L0.0,-105.0 L2.0,-104.5 L4.0,-104.0 L6.0,-103.5 L8.0,-103.0 L10.0,-102.5 L12.0,-101.9 L14.0,-101.4 L16.0,-100.9 L18.0,-100.4 L20.0,-99.9 L22.0,-99.4 L24.0,-98.9 L26.0,-98.4 L28.0,-97.9 L30.0,-97.4 L32.0,-96.9 L34.0,-96.3 L36.0,-95.8 L38.0,-95.3 L40.0,-94.8 L42.0,-94.3 L44.0,-93.8 L46.0,-93.3 L48.0,-92.8 L50.0,-92.3 L52.0,-91.8 L54.0,-91.3 L56.0,-90.8 L58.0,-90.3 L60.0,-89.7 L62.0,-89.2 L64.0,-88.7 L66.0,-88.2 L68.0,-87.7 L70.0,-87.2 L72.0,-86.7 L74.0,-86.2 L76.0,-85.7 L78.0,-85.2 L80.0,-84.7 L82.0,-84.2 L84.0,-83.6 L86.0,-83.1 L88.0,-82.6 L90.0,-82.1 L92.0,-81.6 L94.0,-81.1 L96.0,-80.6 L98.0,-80.1 L100.0,-79.6 L102.0,-79.1 L104.0,-78.6 L106.0,-78.1 L108.0,-77.5 L110.0,-77.0 L112.0,-76.5 L114.0,-76.0 L116.0,-75.5 L118.0,-75.0 L120.0,-74.5 L122.0,-74.0 L124.0,-73.5 L126.0,-73.0 L128.0,-72.5 L130.0,-71.9 L132.0,-71.4 L134.0,-70.9 L136.0,-70.4 L138.0,-69.9 L140.0,-69.4 L142.0,-68.9 L144.0,-68.4 L146.0,-67.9 L148.0,-67.4 L150.0,-66.9 L152.0,-66.3 L154.0,-65.8 L156.0,-65.3 L158.0,-64.8 L160.0,-64.3 L162.0,-63.8 L164.0,-63.3 L166.0,-62.8 L168.0,-62.3 L170.0,-61.8 L172.0,-61.3 L174.0,-60.7 L176.0,-60.2 L178.0,-59.7 L180.0,-59.2 L182.0,-58.7 L184.0,-58.2 L186.0,-57.7 L188.0,-57.2 L190.0,-56.7 L192.0,-56.2 L194.0,-55.7 L196.0,-55.1 L198.0,-54.6 L200.0,-54.1 L202.0,-53.6 L204.0,-53.1 L206.0,-52.6 L208.0,-52.1 L210.0,-51.6 L212.0,-51.1 L214.0,-50.6 L216.0,-50.1 L218.0,-49.6 L220.0,-49.0 L222.0,-48.5 L224.0,-48.0 L226.0,-47.5 L228.0,-47.0 L230.0,-46.5 L232.0,-46.0 L234.0,-45.5 L236.0,-45.0 L238.0,-44.5 L240.0,-44.0 L242.0,-43.4 L244.0,-42.9 L246.0,-42.4 L248.0,-41.9 L250.0,-41.4 L252.0,-40.9 L254.0,-40.4 L256.0,-39.9 L258.0,-39.4 L260.0,-38.9 L262.0,-38.4 L264.0,-37.9 L266.0,-37.3 L268.0,-36.8 L270.0,-36.3 L272.0,-35.8 L274.0,-35.3 L276.0,-34.8 L278.0,-34.3 L280.0,-33.8 L282.0,-33.3 L284.0,-32.8 L286.0,-32.3 L288.0,-31.8 L290.0,-31.3 L292.0,-30.8 L294.0,-30.3 L296.0,-29.7 L298.0,-29.2 L300.0,-28.7 L302.0,-28.2 L304.0,-27.7 L306.0,-27.2 L308.0,-26.7 L310.0,-26.2 L312.0,-25.7 L314.0,-25.2 L316.0,-24.7 L318.0,-24.2 L320.0,-23.7 L322.0,-23.2 L324.0,-22.7 L326.0,-22.2 L328.0,-21.7 L330.0,-21.2 L332.0,-20.7 L334.0,-20.2 L336.0,-19.7 L338.0,-19.2 L340.0,-18.7 L342.0,-18.2 L344.0,-17.7 L346.0,-17.2 L348.0,-16.7 L350.0,-16.2 L352.0,-15.7 L354.0,-15.2 L356.0,-14.7 L358.0,-14.2 L360.0,-13.7 L362.0,-13.2 L364.0,-12.7 L366.0,-12.2 L368.0,-11.7 L370.0,-11.2 L372.0,-10.7 L374.0,-10.3 L376.0,-9.8 L378.0,-9.3 L380.0,-8.8 L382.0,-8.3 L384.0,-7.8 L386.0,-7.3 L388.0,-6.8 L390.0,-6.3 L392.0,-5.8 L394.0,-5.3 L396.0,-4.8 L398.0,-4.3 L400.0,-3.8 L402.0,-3.3 L404.0,-2.8 L406.0,-2.3 L408.0,-1.8 L410.0,-1.3 L412.0,-0.8 L414.0,-0.4 L416.0,0.1 L418.0,0.6 L420.0,1.0 L422.0,1.5 L424.0,2.0 L426.0,2.4 L428.0,2.9 L430.0,3.4 L432.0,3.8 L434.0,4.3 L436.0,4.7 L438.0,5.2 L440.0,5.7 L442.0,6.1 L444.0,6.6 L446.0,7.0 L448.0,7.5 L450.0,8.0 L452.0,8.5 L454.0,8.9 L456.0,9.4 L458.0,9.9 L460.0,10.4 L462.0,10.9 L464.0,11.4 L466.0,11.9 L468.0,12.4 L470.0,12.9 L472.0,13.4 L474.0,13.9 L476.0,14.5 L478.0,15.0 L480.0,15.5 L482.0,16.1 L484.0,16.6 L486.0,17.2 L488.0,17.8 L490.0,18.4 L492.0,18.9 L494.0,19.5 L496.0,20.2 L498.0,20.8 L500.0,21.4 L502.0,22.0 L504.0,22.7 L506.0,23.4 L508.0,24.1 L510.0,24.8 L512.0,25.6 L514.0,26.3 L516.0,27.1 L518.0,27.9 L520.0,28.7 L522.0,29.5 L524.0,30.3 L526.0,31.1 L528.0,31.9 L530.0,32.7 L532.0,33.6 L534.0,34.4 L536.0,35.3 L538.0,36.1 L540.0,36.9 L542.0,37.8 L544.0,38.6 L546.0,39.4 L548.0,40.3 L550.0,41.1 L552.0,41.9 L554.0,42.7 L556.0,43.5 L558.0,44.2 L560.0,45.0 L562.0,45.7 L564.0,46.5 L566.0,47.2 L568.0,47.9 L570.0,48.6 L572.0,49.3 L574.0,49.9 L576.0,50.6 L578.0,51.3 L580.0,51.9 L582.0,52.6 L584.0,53.2 L586.0,53.8 L588.0,54.5 L590.0,55.1 L592.0,55.8 L594.0,56.4 L596.0,57.1 L598.0,57.8 L600.0,58.5 L602.0,59.1 L604.0,59.8 L606.0,60.6 L608.0,61.3 L610.0,62.0 L612.0,62.8 L614.0,63.6 L616.0,64.4 L618.0,65.2 L620.0,66.1 L622.0,66.9 L624.0,67.8 L626.0,68.8 L628.0,69.7 L630.0,70.7 L632.0,71.8 L634.0,72.8 L636.0,73.9 L638.0,75.0 L640.0,76.1 L642.0,77.2 L644.0,78.3 L646.0,79.5 L648.0,80.7 L650.0,81.9 L652.0,83.1 L654.0,84.3 L656.0,85.5 L658.0,86.8 L660.0,88.0 L662.0,89.2 L664.0,90.4 L666.0,91.6 L668.0,92.8 L670.0,94.0 L672.0,95.2 L674.0,96.4 L676.0,97.7 L678.0,98.9 L680.0,100.2 L682.0,101.5 L684.0,102.9 L686.0,104.4 L688.0,105.9 L690.0,107.4 L692.0,109.1 L694.0,110.8 L696.0,112.6 L698.0,114.5 L700.0,116.5 L702.0,118.7 L704.0,121.1 L706.0,123.6 L708.0,126.3 L710.0,129.2 L712.0,132.1 L714.0,135.1 L716.0,138.2 L718.0,141.2 L720.0,144.3 L722.0,147.3 L724.0,150.3 L726.0,153.2 L728.0,156.0 L730.0,158.6 L732.0,161.2 L734.0,163.8 L736.0,166.5 L738.0,169.1 L740.0,171.8 L742.0,174.5 L744.0,177.2 L746.0,179.8 L748.0,182.4 L750.0,184.9 L752.0,187.3 L754.0,189.7 L756.0,191.9 L758.0,194.0 L760.0,196.0 L762.0,197.9 L764.0,199.6 L766.0,201.1 L768.0,202.5 L770.0,203.8 L772.0,205.2 L774.0,206.5 L776.0,207.8 L778.0,209.1 L780.0,210.3 L782.0,211.5 L784.0,212.6 L786.0,213.6 L788.0,214.6 L790.0,215.4 L792.0,216.1 L794.0,216.6 L796.0,217.1 L798.0,217.3 L800.0,217.4 L802.0,217.4 L804.0,217.4 L806.0,217.3 L808.0,217.3 L810.0,217.2 L812.0,217.2 L814.0,217.1 L816.0,217.0 L818.0,216.9 L820.0,216.8 L822.0,216.7 L824.0,216.6 L826.0,216.5 L828.0,216.3 L830.0,216.2 L832.0,216.0 L834.0,215.9 L836.0,215.7 L838.0,215.6 L840.0,215.4 L842.0,215.2 L844.0,214.8 L846.0,214.4 L848.0,213.8 L850.0,213.2 L852.0,212.5 L854.0,211.7 L856.0,210.9 L858.0,210.1 L860.0,209.2 L862.0,208.3 L864.0,207.4 L866.0,206.6 L868.0,205.8 L870.0,205.0 L872.0,204.2 L874.0,203.5 L876.0,202.9 L878.0,202.4 L880.0,202.0 L882.0,201.7 L884.0,201.5 L886.0,201.5 L888.0,201.6 L890.0,201.8 L892.0,202.1 L894.0,202.5 L896.0,203.1 L898.0,203.7 L900.0,204.4 L902.0,205.2 L904.0,206.0 L906.0,207.0 L908.0,208.0 L910.0,209.0 L912.0,210.1 L914.0,211.3 L916.0,212.4 L918.0,213.6 L920.0,214.9 L922.0,216.1 L924.0,217.4 L926.0,218.6 L928.0,219.9 L930.0,221.1 L932.0,222.4 L934.0,223.6 L936.0,224.8 L938.0,225.9 L940.0,227.0 L942.0,228.0 L944.0,229.0 L946.0,230.0 L948.0,230.8 L950.0,231.6" fill="none" stroke="url(#bluegrad)" stroke-width="0.9" opacity="0.90"/>
<path d="M-20.0,-94.8 L-18.0,-94.3 L-16.0,-93.8 L-14.0,-93.3 L-12.0,-92.9 L-10.0,-92.4 L-8.0,-91.9 L-6.0,-91.4 L-4.0,-91.0 L-2.0,-90.5 L0.0,-90.0 L2.0,-89.5 L4.0,-89.0 L6.0,-88.6 L8.0,-88.1 L10.0,-87.6 L12.0,-87.1 L14.0,-86.7 L16.0,-86.2 L18.0,-85.7 L20.0,-85.2 L22.0,-84.8 L24.0,-84.3 L26.0,-83.8 L28.0,-83.3 L30.0,-82.9 L32.0,-82.4 L34.0,-81.9 L36.0,-81.4 L38.0,-81.0 L40.0,-80.5 L42.0,-80.0 L44.0,-79.5 L46.0,-79.1 L48.0,-78.6 L50.0,-78.1 L52.0,-77.6 L54.0,-77.2 L56.0,-76.7 L58.0,-76.2 L60.0,-75.7 L62.0,-75.3 L64.0,-74.8 L66.0,-74.3 L68.0,-73.8 L70.0,-73.4 L72.0,-72.9 L74.0,-72.4 L76.0,-71.9 L78.0,-71.5 L80.0,-71.0 L82.0,-70.5 L84.0,-70.0 L86.0,-69.6 L88.0,-69.1 L90.0,-68.6 L92.0,-68.1 L94.0,-67.7 L96.0,-67.2 L98.0,-66.7 L100.0,-66.2 L102.0,-65.8 L104.0,-65.3 L106.0,-64.8 L108.0,-64.3 L110.0,-63.9 L112.0,-63.4 L114.0,-62.9 L116.0,-62.4 L118.0,-62.0 L120.0,-61.5 L122.0,-61.0 L124.0,-60.5 L126.0,-60.1 L128.0,-59.6 L130.0,-59.1 L132.0,-58.6 L134.0,-58.1 L136.0,-57.7 L138.0,-57.2 L140.0,-56.7 L142.0,-56.2 L144.0,-55.8 L146.0,-55.3 L148.0,-54.8 L150.0,-54.3 L152.0,-53.9 L154.0,-53.4 L156.0,-52.9 L158.0,-52.4 L160.0,-52.0 L162.0,-51.5 L164.0,-51.0 L166.0,-50.5 L168.0,-50.1 L170.0,-49.6 L172.0,-49.1 L174.0,-48.6 L176.0,-48.1 L178.0,-47.7 L180.0,-47.2 L182.0,-46.7 L184.0,-46.2 L186.0,-45.8 L188.0,-45.3 L190.0,-44.8 L192.0,-44.3 L194.0,-43.9 L196.0,-43.4 L198.0,-42.9 L200.0,-42.4 L202.0,-42.0 L204.0,-41.5 L206.0,-41.0 L208.0,-40.5 L210.0,-40.1 L212.0,-39.6 L214.0,-39.1 L216.0,-38.6 L218.0,-38.2 L220.0,-37.7 L222.0,-37.2 L224.0,-36.7 L226.0,-36.3 L228.0,-35.8 L230.0,-35.3 L232.0,-34.8 L234.0,-34.4 L236.0,-33.9 L238.0,-33.4 L240.0,-32.9 L242.0,-32.5 L244.0,-32.0 L246.0,-31.5 L248.0,-31.0 L250.0,-30.6 L252.0,-30.1 L254.0,-29.6 L256.0,-29.1 L258.0,-28.7 L260.0,-28.2 L262.0,-27.7 L264.0,-27.2 L266.0,-26.8 L268.0,-26.3 L270.0,-25.8 L272.0,-25.3 L274.0,-24.9 L276.0,-24.4 L278.0,-23.9 L280.0,-23.4 L282.0,-23.0 L284.0,-22.5 L286.0,-22.0 L288.0,-21.5 L290.0,-21.1 L292.0,-20.6 L294.0,-20.1 L296.0,-19.7 L298.0,-19.2 L300.0,-18.7 L302.0,-18.2 L304.0,-17.8 L306.0,-17.3 L308.0,-16.8 L310.0,-16.4 L312.0,-15.9 L314.0,-15.4 L316.0,-14.9 L318.0,-14.5 L320.0,-14.0 L322.0,-13.5 L324.0,-13.1 L326.0,-12.6 L328.0,-12.1 L330.0,-11.7 L332.0,-11.2 L334.0,-10.7 L336.0,-10.3 L338.0,-9.8 L340.0,-9.3 L342.0,-8.9 L344.0,-8.4 L346.0,-7.9 L348.0,-7.5 L350.0,-7.0 L352.0,-6.5 L354.0,-6.1 L356.0,-5.6 L358.0,-5.1 L360.0,-4.7 L362.0,-4.2 L364.0,-3.7 L366.0,-3.3 L368.0,-2.8 L370.0,-2.4 L372.0,-1.9 L374.0,-1.4 L376.0,-1.0 L378.0,-0.5 L380.0,-0.0 L382.0,0.4 L384.0,0.9 L386.0,1.4 L388.0,1.8 L390.0,2.3 L392.0,2.8 L394.0,3.2 L396.0,3.7 L398.0,4.2 L400.0,4.6 L402.0,5.1 L404.0,5.6 L406.0,6.0 L408.0,6.5 L410.0,6.9 L412.0,7.4 L414.0,7.8 L416.0,8.3 L418.0,8.7 L420.0,9.1 L422.0,9.6 L424.0,10.0 L426.0,10.4 L428.0,10.8 L430.0,11.3 L432.0,11.7 L434.0,12.1 L436.0,12.6 L438.0,13.0 L440.0,13.4 L442.0,13.8 L444.0,14.3 L446.0,14.7 L448.0,15.1 L450.0,15.6 L452.0,16.0 L454.0,16.5 L456.0,16.9 L458.0,17.4 L460.0,17.8 L462.0,18.3 L464.0,18.7 L466.0,19.2 L468.0,19.7 L470.0,20.1 L472.0,20.6 L474.0,21.1 L476.0,21.6 L478.0,22.1 L480.0,22.6 L482.0,23.2 L484.0,23.7 L486.0,24.2 L488.0,24.8 L490.0,25.3 L492.0,25.9 L494.0,26.4 L496.0,27.0 L498.0,27.6 L500.0,28.2 L502.0,28.8 L504.0,29.5 L506.0,30.1 L508.0,30.8 L510.0,31.5 L512.0,32.2 L514.0,32.9 L516.0,33.7 L518.0,34.4 L520.0,35.2 L522.0,36.0 L524.0,36.8 L526.0,37.6 L528.0,38.4 L530.0,39.2 L532.0,40.0 L534.0,40.8 L536.0,41.6 L538.0,42.4 L540.0,43.2 L542.0,44.0 L544.0,44.8 L546.0,45.6 L548.0,46.4 L550.0,47.2 L552.0,48.0 L554.0,48.8 L556.0,49.5 L558.0,50.3 L560.0,51.0 L562.0,51.7 L564.0,52.4 L566.0,53.1 L568.0,53.7 L570.0,54.4 L572.0,55.0 L574.0,55.7 L576.0,56.3 L578.0,56.9 L580.0,57.5 L582.0,58.1 L584.0,58.7 L586.0,59.3 L588.0,59.9 L590.0,60.5 L592.0,61.1 L594.0,61.7 L596.0,62.3 L598.0,62.9 L600.0,63.6 L602.0,64.2 L604.0,64.8 L606.0,65.5 L608.0,66.2 L610.0,66.9 L612.0,67.6 L614.0,68.3 L616.0,69.0 L618.0,69.8 L620.0,70.6 L622.0,71.4 L624.0,72.3 L626.0,73.1 L628.0,74.0 L630.0,74.9 L632.0,75.9 L634.0,76.8 L636.0,77.8 L638.0,78.8 L640.0,79.9 L642.0,80.9 L644.0,82.0 L646.0,83.1 L648.0,84.2 L650.0,85.3 L652.0,86.4 L654.0,87.5 L656.0,88.7 L658.0,89.8 L660.0,91.0 L662.0,92.2 L664.0,93.3 L666.0,94.4 L668.0,95.5 L670.0,96.6 L672.0,97.7 L674.0,98.8 L676.0,99.9 L678.0,101.1 L680.0,102.3 L682.0,103.5 L684.0,104.8 L686.0,106.2 L688.0,107.6 L690.0,109.1 L692.0,110.7 L694.0,112.3 L696.0,114.1 L698.0,116.0 L700.0,118.0 L702.0,120.2 L704.0,122.6 L706.0,125.2 L708.0,127.9 L710.0,130.8 L712.0,133.8 L714.0,136.9 L716.0,140.0 L718.0,143.1 L720.0,146.3 L722.0,149.4 L724.0,152.4 L726.0,155.3 L728.0,158.1 L730.0,160.8 L732.0,163.4 L734.0,166.1 L736.0,168.7 L738.0,171.5 L740.0,174.2 L742.0,176.9 L744.0,179.6 L746.0,182.2 L748.0,184.8 L750.0,187.3 L752.0,189.8 L754.0,192.2 L756.0,194.4 L758.0,196.6 L760.0,198.6 L762.0,200.5 L764.0,202.2 L766.0,203.7 L768.0,205.1 L770.0,206.4 L772.0,207.8 L774.0,209.2 L776.0,210.5 L778.0,211.8 L780.0,213.0 L782.0,214.2 L784.0,215.4 L786.0,216.4 L788.0,217.3 L790.0,218.2 L792.0,218.9 L794.0,219.4 L796.0,219.8 L798.0,220.1 L800.0,220.2 L802.0,220.2 L804.0,220.2 L806.0,220.1 L808.0,220.1 L810.0,220.0 L812.0,220.0 L814.0,219.9 L816.0,219.8 L818.0,219.7 L820.0,219.6 L822.0,219.5 L824.0,219.4 L826.0,219.3 L828.0,219.1 L830.0,219.0 L832.0,218.8 L834.0,218.7 L836.0,218.5 L838.0,218.4 L840.0,218.2 L842.0,218.0 L844.0,217.6 L846.0,217.2 L848.0,216.6 L850.0,215.9 L852.0,215.2 L854.0,214.5 L856.0,213.6 L858.0,212.8 L860.0,211.9 L862.0,211.0 L864.0,210.1 L866.0,209.2 L868.0,208.4 L870.0,207.6 L872.0,206.8 L874.0,206.1 L876.0,205.5 L878.0,205.0 L880.0,204.6 L882.0,204.2 L884.0,204.0 L886.0,204.0 L888.0,204.1 L890.0,204.2 L892.0,204.5 L894.0,205.0 L896.0,205.5 L898.0,206.1 L900.0,206.8 L902.0,207.5 L904.0,208.4 L906.0,209.3 L908.0,210.3 L910.0,211.3 L912.0,212.4 L914.0,213.5 L916.0,214.7 L918.0,215.8 L920.0,217.0 L922.0,218.3 L924.0,219.5 L926.0,220.8 L928.0,222.0 L930.0,223.2 L932.0,224.4 L934.0,225.6 L936.0,226.8 L938.0,227.9 L940.0,229.0 L942.0,230.1 L944.0,231.1 L946.0,232.0 L948.0,232.8 L950.0,233.6" fill="none" stroke="url(#bluegrad)" stroke-width="0.9" opacity="0.90"/>
<path d="M-20.0,-79.4 L-18.0,-79.0 L-16.0,-78.6 L-14.0,-78.1 L-12.0,-77.7 L-10.0,-77.2 L-8.0,-76.8 L-6.0,-76.3 L-4.0,-75.9 L-2.0,-75.4 L0.0,-75.0 L2.0,-74.6 L4.0,-74.1 L6.0,-73.7 L8.0,-73.2 L10.0,-72.8 L12.0,-72.3 L14.0,-71.9 L16.0,-71.5 L18.0,-71.0 L20.0,-70.6 L22.0,-70.1 L24.0,-69.7 L26.0,-69.2 L28.0,-68.8 L30.0,-68.4 L32.0,-67.9 L34.0,-67.5 L36.0,-67.0 L38.0,-66.6 L40.0,-66.2 L42.0,-65.7 L44.0,-65.3 L46.0,-64.8 L48.0,-64.4 L50.0,-63.9 L52.0,-63.5 L54.0,-63.1 L56.0,-62.6 L58.0,-62.2 L60.0,-61.7 L62.0,-61.3 L64.0,-60.9 L66.0,-60.4 L68.0,-60.0 L70.0,-59.5 L72.0,-59.1 L74.0,-58.6 L76.0,-58.2 L78.0,-57.8 L80.0,-57.3 L82.0,-56.9 L84.0,-56.4 L86.0,-56.0 L88.0,-55.6 L90.0,-55.1 L92.0,-54.7 L94.0,-54.2 L96.0,-53.8 L98.0,-53.3 L100.0,-52.9 L102.0,-52.5 L104.0,-52.0 L106.0,-51.6 L108.0,-51.1 L110.0,-50.7 L112.0,-50.2 L114.0,-49.8 L116.0,-49.4 L118.0,-48.9 L120.0,-48.5 L122.0,-48.0 L124.0,-47.6 L126.0,-47.1 L128.0,-46.7 L130.0,-46.3 L132.0,-45.8 L134.0,-45.4 L136.0,-44.9 L138.0,-44.5 L140.0,-44.0 L142.0,-43.6 L144.0,-43.2 L146.0,-42.7 L148.0,-42.3 L150.0,-41.8 L152.0,-41.4 L154.0,-40.9 L156.0,-40.5 L158.0,-40.0 L160.0,-39.6 L162.0,-39.2 L164.0,-38.7 L166.0,-38.3 L168.0,-37.8 L170.0,-37.4 L172.0,-36.9 L174.0,-36.5 L176.0,-36.1 L178.0,-35.6 L180.0,-35.2 L182.0,-34.7 L184.0,-34.3 L186.0,-33.8 L188.0,-33.4 L190.0,-33.0 L192.0,-32.5 L194.0,-32.1 L196.0,-31.6 L198.0,-31.2 L200.0,-30.8 L202.0,-30.3 L204.0,-29.9 L206.0,-29.4 L208.0,-29.0 L210.0,-28.5 L212.0,-28.1 L214.0,-27.7 L216.0,-27.2 L218.0,-26.8 L220.0,-26.3 L222.0,-25.9 L224.0,-25.4 L226.0,-25.0 L228.0,-24.6 L230.0,-24.1 L232.0,-23.7 L234.0,-23.2 L236.0,-22.8 L238.0,-22.3 L240.0,-21.9 L242.0,-21.5 L244.0,-21.0 L246.0,-20.6 L248.0,-20.1 L250.0,-19.7 L252.0,-19.3 L254.0,-18.8 L256.0,-18.4 L258.0,-17.9 L260.0,-17.5 L262.0,-17.0 L264.0,-16.6 L266.0,-16.2 L268.0,-15.7 L270.0,-15.3 L272.0,-14.8 L274.0,-14.4 L276.0,-14.0 L278.0,-13.5 L280.0,-13.1 L282.0,-12.6 L284.0,-12.2 L286.0,-11.8 L288.0,-11.3 L290.0,-10.9 L292.0,-10.4 L294.0,-10.0 L296.0,-9.6 L298.0,-9.1 L300.0,-8.7 L302.0,-8.2 L304.0,-7.8 L306.0,-7.4 L308.0,-6.9 L310.0,-6.5 L312.0,-6.0 L314.0,-5.6 L316.0,-5.2 L318.0,-4.7 L320.0,-4.3 L322.0,-3.9 L324.0,-3.4 L326.0,-3.0 L328.0,-2.6 L330.0,-2.1 L332.0,-1.7 L334.0,-1.3 L336.0,-0.8 L338.0,-0.4 L340.0,0.1 L342.0,0.5 L344.0,0.9 L346.0,1.4 L348.0,1.8 L350.0,2.2 L352.0,2.6 L354.0,3.1 L356.0,3.5 L358.0,3.9 L360.0,4.4 L362.0,4.8 L364.0,5.2 L366.0,5.7 L368.0,6.1 L370.0,6.5 L372.0,7.0 L374.0,7.4 L376.0,7.8 L378.0,8.3 L380.0,8.7 L382.0,9.1 L384.0,9.6 L386.0,10.0 L388.0,10.4 L390.0,10.9 L392.0,11.3 L394.0,11.7 L396.0,12.2 L398.0,12.6 L400.0,13.0 L402.0,13.5 L404.0,13.9 L406.0,14.3 L408.0,14.8 L410.0,15.2 L412.0,15.6 L414.0,16.0 L416.0,16.4 L418.0,16.8 L420.0,17.2 L422.0,17.6 L424.0,18.0 L426.0,18.4 L428.0,18.8 L430.0,19.2 L432.0,19.6 L434.0,20.0 L436.0,20.4 L438.0,20.8 L440.0,21.2 L442.0,21.6 L444.0,22.0 L446.0,22.4 L448.0,22.8 L450.0,23.2 L452.0,23.6 L454.0,24.0 L456.0,24.4 L458.0,24.8 L460.0,25.2 L462.0,25.7 L464.0,26.1 L466.0,26.5 L468.0,27.0 L470.0,27.4 L472.0,27.9 L474.0,28.3 L476.0,28.8 L478.0,29.3 L480.0,29.7 L482.0,30.2 L484.0,30.7 L486.0,31.2 L488.0,31.7 L490.0,32.3 L492.0,32.8 L494.0,33.3 L496.0,33.9 L498.0,34.4 L500.0,35.0 L502.0,35.6 L504.0,36.2 L506.0,36.8 L508.0,37.5 L510.0,38.2 L512.0,38.8 L514.0,39.5 L516.0,40.3 L518.0,41.0 L520.0,41.7 L522.0,42.5 L524.0,43.3 L526.0,44.0 L528.0,44.8 L530.0,45.6 L532.0,46.4 L534.0,47.2 L536.0,47.9 L538.0,48.7 L540.0,49.5 L542.0,50.3 L544.0,51.1 L546.0,51.9 L548.0,52.6 L550.0,53.4 L552.0,54.1 L554.0,54.9 L556.0,55.6 L558.0,56.3 L560.0,57.0 L562.0,57.7 L564.0,58.3 L566.0,59.0 L568.0,59.6 L570.0,60.2 L572.0,60.8 L574.0,61.4 L576.0,62.0 L578.0,62.5 L580.0,63.1 L582.0,63.7 L584.0,64.2 L586.0,64.8 L588.0,65.3 L590.0,65.9 L592.0,66.4 L594.0,67.0 L596.0,67.5 L598.0,68.1 L600.0,68.7 L602.0,69.2 L604.0,69.8 L606.0,70.4 L608.0,71.1 L610.0,71.7 L612.0,72.3 L614.0,73.0 L616.0,73.7 L618.0,74.4 L620.0,75.1 L622.0,75.9 L624.0,76.7 L626.0,77.5 L628.0,78.3 L630.0,79.1 L632.0,80.0 L634.0,80.9 L636.0,81.8 L638.0,82.7 L640.0,83.7 L642.0,84.6 L644.0,85.6 L646.0,86.6 L648.0,87.6 L650.0,88.7 L652.0,89.7 L654.0,90.8 L656.0,91.8 L658.0,92.9 L660.0,94.0 L662.0,95.1 L664.0,96.1 L666.0,97.1 L668.0,98.1 L670.0,99.1 L672.0,100.1 L674.0,101.1 L676.0,102.2 L678.0,103.2 L680.0,104.3 L682.0,105.5 L684.0,106.7 L686.0,108.0 L688.0,109.3 L690.0,110.7 L692.0,112.3 L694.0,113.9 L696.0,115.6 L698.0,117.5 L700.0,119.5 L702.0,121.7 L704.0,124.1 L706.0,126.7 L708.0,129.5 L710.0,132.5 L712.0,135.5 L714.0,138.6 L716.0,141.8 L718.0,145.0 L720.0,148.2 L722.0,151.4 L724.0,154.5 L726.0,157.4 L728.0,160.3 L730.0,163.0 L732.0,165.6 L734.0,168.3 L736.0,171.0 L738.0,173.8 L740.0,176.5 L742.0,179.2 L744.0,181.9 L746.0,184.6 L748.0,187.2 L750.0,189.8 L752.0,192.3 L754.0,194.7 L756.0,196.9 L758.0,199.1 L760.0,201.1 L762.0,203.0 L764.0,204.7 L766.0,206.3 L768.0,207.7 L770.0,209.1 L772.0,210.4 L774.0,211.8 L776.0,213.2 L778.0,214.5 L780.0,215.8 L782.0,217.0 L784.0,218.1 L786.0,219.1 L788.0,220.1 L790.0,220.9 L792.0,221.6 L794.0,222.2 L796.0,222.6 L798.0,222.9 L800.0,223.0 L802.0,223.0 L804.0,223.0 L806.0,222.9 L808.0,222.9 L810.0,222.8 L812.0,222.8 L814.0,222.7 L816.0,222.6 L818.0,222.5 L820.0,222.4 L822.0,222.3 L824.0,222.2 L826.0,222.1 L828.0,221.9 L830.0,221.8 L832.0,221.6 L834.0,221.5 L836.0,221.3 L838.0,221.2 L840.0,221.0 L842.0,220.8 L844.0,220.4 L846.0,219.9 L848.0,219.4 L850.0,218.7 L852.0,218.0 L854.0,217.2 L856.0,216.4 L858.0,215.5 L860.0,214.6 L862.0,213.7 L864.0,212.8 L866.0,211.9 L868.0,211.0 L870.0,210.2 L872.0,209.4 L874.0,208.7 L876.0,208.1 L878.0,207.5 L880.0,207.1 L882.0,206.8 L884.0,206.6 L886.0,206.5 L888.0,206.5 L890.0,206.7 L892.0,207.0 L894.0,207.4 L896.0,207.9 L898.0,208.5 L900.0,209.1 L902.0,209.9 L904.0,210.7 L906.0,211.6 L908.0,212.6 L910.0,213.6 L912.0,214.6 L914.0,215.7 L916.0,216.9 L918.0,218.0 L920.0,219.2 L922.0,220.4 L924.0,221.7 L926.0,222.9 L928.0,224.1 L930.0,225.3 L932.0,226.5 L934.0,227.7 L936.0,228.8 L938.0,230.0 L940.0,231.0 L942.0,232.1 L944.0,233.1 L946.0,234.0 L948.0,234.8 L950.0,235.6" fill="none" stroke="url(#bluegrad)" stroke-width="0.9" opacity="0.90"/>
<path d="M-20.0,-64.1 L-18.0,-63.7 L-16.0,-63.3 L-14.0,-62.9 L-12.0,-62.5 L-10.0,-62.1 L-8.0,-61.6 L-6.0,-61.2 L-4.0,-60.8 L-2.0,-60.4 L0.0,-60.0 L2.0,-59.6 L4.0,-59.2 L6.0,-58.8 L8.0,-58.4 L10.0,-57.9 L12.0,-57.5 L14.0,-57.1 L16.0,-56.7 L18.0,-56.3 L20.0,-55.9 L22.0,-55.5 L24.0,-55.1 L26.0,-54.7 L28.0,-54.3 L30.0,-53.9 L32.0,-53.4 L34.0,-53.0 L36.0,-52.6 L38.0,-52.2 L40.0,-51.8 L42.0,-51.4 L44.0,-51.0 L46.0,-50.6 L48.0,-50.2 L50.0,-49.8 L52.0,-49.4 L54.0,-49.0 L56.0,-48.5 L58.0,-48.1 L60.0,-47.7 L62.0,-47.3 L64.0,-46.9 L66.0,-46.5 L68.0,-46.1 L70.0,-45.7 L72.0,-45.3 L74.0,-44.9 L76.0,-44.5 L78.0,-44.1 L80.0,-43.6 L82.0,-43.2 L84.0,-42.8 L86.0,-42.4 L88.0,-42.0 L90.0,-41.6 L92.0,-41.2 L94.0,-40.8 L96.0,-40.4 L98.0,-40.0 L100.0,-39.6 L102.0,-39.2 L104.0,-38.7 L106.0,-38.3 L108.0,-37.9 L110.0,-37.5 L112.0,-37.1 L114.0,-36.7 L116.0,-36.3 L118.0,-35.9 L120.0,-35.5 L122.0,-35.1 L124.0,-34.6 L126.0,-34.2 L128.0,-33.8 L130.0,-33.4 L132.0,-33.0 L134.0,-32.6 L136.0,-32.2 L138.0,-31.8 L140.0,-31.4 L142.0,-30.9 L144.0,-30.5 L146.0,-30.1 L148.0,-29.7 L150.0,-29.3 L152.0,-28.9 L154.0,-28.5 L156.0,-28.1 L158.0,-27.7 L160.0,-27.3 L162.0,-26.8 L164.0,-26.4 L166.0,-26.0 L168.0,-25.6 L170.0,-25.2 L172.0,-24.8 L174.0,-24.4 L176.0,-24.0 L178.0,-23.6 L180.0,-23.2 L182.0,-22.7 L184.0,-22.3 L186.0,-21.9 L188.0,-21.5 L190.0,-21.1 L192.0,-20.7 L194.0,-20.3 L196.0,-19.9 L198.0,-19.5 L200.0,-19.1 L202.0,-18.7 L204.0,-18.2 L206.0,-17.8 L208.0,-17.4 L210.0,-17.0 L212.0,-16.6 L214.0,-16.2 L216.0,-15.8 L218.0,-15.4 L220.0,-15.0 L222.0,-14.6 L224.0,-14.2 L226.0,-13.7 L228.0,-13.3 L230.0,-12.9 L232.0,-12.5 L234.0,-12.1 L236.0,-11.7 L238.0,-11.3 L240.0,-10.9 L242.0,-10.5 L244.0,-10.1 L246.0,-9.7 L248.0,-9.2 L250.0,-8.8 L252.0,-8.4 L254.0,-8.0 L256.0,-7.6 L258.0,-7.2 L260.0,-6.8 L262.0,-6.4 L264.0,-6.0 L266.0,-5.6 L268.0,-5.2 L270.0,-4.8 L272.0,-4.3 L274.0,-3.9 L276.0,-3.5 L278.0,-3.1 L280.0,-2.7 L282.0,-2.3 L284.0,-1.9 L286.0,-1.5 L288.0,-1.1 L290.0,-0.7 L292.0,-0.3 L294.0,0.1 L296.0,0.5 L298.0,0.9 L300.0,1.3 L302.0,1.8 L304.0,2.2 L306.0,2.6 L308.0,3.0 L310.0,3.4 L312.0,3.8 L314.0,4.2 L316.0,4.6 L318.0,5.0 L320.0,5.4 L322.0,5.8 L324.0,6.2 L326.0,6.6 L328.0,7.0 L330.0,7.4 L332.0,7.8 L334.0,8.2 L336.0,8.6 L338.0,9.0 L340.0,9.4 L342.0,9.8 L344.0,10.2 L346.0,10.6 L348.0,11.0 L350.0,11.4 L352.0,11.8 L354.0,12.2 L356.0,12.6 L358.0,13.0 L360.0,13.4 L362.0,13.8 L364.0,14.2 L366.0,14.6 L368.0,15.0 L370.0,15.4 L372.0,15.8 L374.0,16.2 L376.0,16.6 L378.0,17.0 L380.0,17.4 L382.0,17.8 L384.0,18.2 L386.0,18.6 L388.0,19.0 L390.0,19.4 L392.0,19.8 L394.0,20.2 L396.0,20.7 L398.0,21.1 L400.0,21.5 L402.0,21.9 L404.0,22.3 L406.0,22.6 L408.0,23.0 L410.0,23.4 L412.0,23.8 L414.0,24.2 L416.0,24.5 L418.0,24.9 L420.0,25.3 L422.0,25.7 L424.0,26.0 L426.0,26.4 L428.0,26.7 L430.0,27.1 L432.0,27.5 L434.0,27.8 L436.0,28.2 L438.0,28.5 L440.0,28.9 L442.0,29.3 L444.0,29.6 L446.0,30.0 L448.0,30.4 L450.0,30.7 L452.0,31.1 L454.0,31.5 L456.0,31.9 L458.0,32.3 L460.0,32.6 L462.0,33.0 L464.0,33.4 L466.0,33.8 L468.0,34.2 L470.0,34.7 L472.0,35.1 L474.0,35.5 L476.0,35.9 L478.0,36.4 L480.0,36.8 L482.0,37.3 L484.0,37.8 L486.0,38.2 L488.0,38.7 L490.0,39.2 L492.0,39.7 L494.0,40.2 L496.0,40.7 L498.0,41.3 L500.0,41.8 L502.0,42.4 L504.0,42.9 L506.0,43.5 L508.0,44.2 L510.0,44.8 L512.0,45.5 L514.0,46.2 L516.0,46.8 L518.0,47.6 L520.0,48.3 L522.0,49.0 L524.0,49.7 L526.0,50.5 L528.0,51.2 L530.0,52.0 L532.0,52.8 L534.0,53.5 L536.0,54.3 L538.0,55.1 L540.0,55.8 L542.0,56.6 L544.0,57.3 L546.0,58.1 L548.0,58.8 L550.0,59.5 L552.0,60.3 L554.0,61.0 L556.0,61.7 L558.0,62.3 L560.0,63.0 L562.0,63.6 L564.0,64.3 L566.0,64.9 L568.0,65.5 L570.0,66.0 L572.0,66.6 L574.0,67.1 L576.0,67.7 L578.0,68.2 L580.0,68.7 L582.0,69.2 L584.0,69.7 L586.0,70.2 L588.0,70.7 L590.0,71.2 L592.0,71.7 L594.0,72.2 L596.0,72.7 L598.0,73.2 L600.0,73.8 L602.0,74.3 L604.0,74.8 L606.0,75.4 L608.0,75.9 L610.0,76.5 L612.0,77.1 L614.0,77.7 L616.0,78.3 L618.0,79.0 L620.0,79.7 L622.0,80.3 L624.0,81.1 L626.0,81.8 L628.0,82.6 L630.0,83.3 L632.0,84.1 L634.0,84.9 L636.0,85.8 L638.0,86.6 L640.0,87.5 L642.0,88.4 L644.0,89.3 L646.0,90.2 L648.0,91.1 L650.0,92.1 L652.0,93.0 L654.0,94.0 L656.0,95.0 L658.0,96.0 L660.0,97.0 L662.0,98.0 L664.0,99.0 L666.0,99.9 L668.0,100.8 L670.0,101.7 L672.0,102.6 L674.0,103.5 L676.0,104.4 L678.0,105.4 L680.0,106.4 L682.0,107.4 L684.0,108.6 L686.0,109.8 L688.0,111.0 L690.0,112.4 L692.0,113.9 L694.0,115.5 L696.0,117.2 L698.0,119.0 L700.0,121.0 L702.0,123.2 L704.0,125.6 L706.0,128.3 L708.0,131.1 L710.0,134.1 L712.0,137.2 L714.0,140.4 L716.0,143.6 L718.0,146.9 L720.0,150.2 L722.0,153.4 L724.0,156.5 L726.0,159.6 L728.0,162.5 L730.0,165.2 L732.0,167.9 L734.0,170.6 L736.0,173.3 L738.0,176.1 L740.0,178.8 L742.0,181.6 L744.0,184.3 L746.0,187.0 L748.0,189.7 L750.0,192.2 L752.0,194.7 L754.0,197.1 L756.0,199.4 L758.0,201.6 L760.0,203.7 L762.0,205.6 L764.0,207.3 L766.0,208.9 L768.0,210.3 L770.0,211.7 L772.0,213.1 L774.0,214.5 L776.0,215.8 L778.0,217.2 L780.0,218.5 L782.0,219.7 L784.0,220.8 L786.0,221.9 L788.0,222.8 L790.0,223.7 L792.0,224.4 L794.0,225.0 L796.0,225.4 L798.0,225.7 L800.0,225.8 L802.0,225.8 L804.0,225.8 L806.0,225.7 L808.0,225.7 L810.0,225.6 L812.0,225.6 L814.0,225.5 L816.0,225.4 L818.0,225.3 L820.0,225.2 L822.0,225.1 L824.0,225.0 L826.0,224.9 L828.0,224.7 L830.0,224.6 L832.0,224.4 L834.0,224.3 L836.0,224.1 L838.0,224.0 L840.0,223.8 L842.0,223.6 L844.0,223.2 L846.0,222.7 L848.0,222.2 L850.0,221.5 L852.0,220.8 L854.0,220.0 L856.0,219.1 L858.0,218.2 L860.0,217.3 L862.0,216.4 L864.0,215.5 L866.0,214.6 L868.0,213.7 L870.0,212.8 L872.0,212.0 L874.0,211.3 L876.0,210.7 L878.0,210.1 L880.0,209.6 L882.0,209.3 L884.0,209.1 L886.0,209.0 L888.0,209.0 L890.0,209.2 L892.0,209.4 L894.0,209.8 L896.0,210.3 L898.0,210.8 L900.0,211.5 L902.0,212.2 L904.0,213.0 L906.0,213.9 L908.0,214.8 L910.0,215.8 L912.0,216.9 L914.0,218.0 L916.0,219.1 L918.0,220.2 L920.0,221.4 L922.0,222.6 L924.0,223.8 L926.0,225.0 L928.0,226.2 L930.0,227.4 L932.0,228.6 L934.0,229.8 L936.0,230.9 L938.0,232.0 L940.0,233.1 L942.0,234.1 L944.0,235.1 L946.0,236.0 L948.0,236.8 L950.0,237.6" fill="none" stroke="url(#bluegrad)" stroke-width="0.9" opacity="0.90"/>
<path d="M-20.0,-48.8 L-18.0,-48.4 L-16.0,-48.0 L-14.0,-47.6 L-12.0,-47.3 L-10.0,-46.9 L-8.0,-46.5 L-6.0,-46.1 L-4.0,-45.8 L-2.0,-45.4 L0.0,-45.0 L2.0,-44.6 L4.0,-44.2 L6.0,-43.9 L8.0,-43.5 L10.0,-43.1 L12.0,-42.7 L14.0,-42.4 L16.0,-42.0 L18.0,-41.6 L20.0,-41.2 L22.0,-40.9 L24.0,-40.5 L26.0,-40.1 L28.0,-39.7 L30.0,-39.4 L32.0,-39.0 L34.0,-38.6 L36.0,-38.2 L38.0,-37.9 L40.0,-37.5 L42.0,-37.1 L44.0,-36.7 L46.0,-36.4 L48.0,-36.0 L50.0,-35.6 L52.0,-35.2 L54.0,-34.9 L56.0,-34.5 L58.0,-34.1 L60.0,-33.7 L62.0,-33.4 L64.0,-33.0 L66.0,-32.6 L68.0,-32.2 L70.0,-31.9 L72.0,-31.5 L74.0,-31.1 L76.0,-30.7 L78.0,-30.4 L80.0,-30.0 L82.0,-29.6 L84.0,-29.2 L86.0,-28.9 L88.0,-28.5 L90.0,-28.1 L92.0,-27.7 L94.0,-27.3 L96.0,-27.0 L98.0,-26.6 L100.0,-26.2 L102.0,-25.8 L104.0,-25.5 L106.0,-25.1 L108.0,-24.7 L110.0,-24.3 L112.0,-24.0 L114.0,-23.6 L116.0,-23.2 L118.0,-22.8 L120.0,-22.5 L122.0,-22.1 L124.0,-21.7 L126.0,-21.3 L128.0,-20.9 L130.0,-20.6 L132.0,-20.2 L134.0,-19.8 L136.0,-19.4 L138.0,-19.1 L140.0,-18.7 L142.0,-18.3 L144.0,-17.9 L146.0,-17.5 L148.0,-17.2 L150.0,-16.8 L152.0,-16.4 L154.0,-16.0 L156.0,-15.7 L158.0,-15.3 L160.0,-14.9 L162.0,-14.5 L164.0,-14.1 L166.0,-13.8 L168.0,-13.4 L170.0,-13.0 L172.0,-12.6 L174.0,-12.3 L176.0,-11.9 L178.0,-11.5 L180.0,-11.1 L182.0,-10.8 L184.0,-10.4 L186.0,-10.0 L188.0,-9.6 L190.0,-9.3 L192.0,-8.9 L194.0,-8.5 L196.0,-8.1 L198.0,-7.7 L200.0,-7.4 L202.0,-7.0 L204.0,-6.6 L206.0,-6.2 L208.0,-5.9 L210.0,-5.5 L212.0,-5.1 L214.0,-4.7 L216.0,-4.4 L218.0,-4.0 L220.0,-3.6 L222.0,-3.2 L224.0,-2.9 L226.0,-2.5 L228.0,-2.1 L230.0,-1.7 L232.0,-1.4 L234.0,-1.0 L236.0,-0.6 L238.0,-0.2 L240.0,0.1 L242.0,0.5 L244.0,0.9 L246.0,1.3 L248.0,1.6 L250.0,2.0 L252.0,2.4 L254.0,2.8 L256.0,3.1 L258.0,3.5 L260.0,3.9 L262.0,4.3 L264.0,4.6 L266.0,5.0 L268.0,5.4 L270.0,5.8 L272.0,6.1 L274.0,6.5 L276.0,6.9 L278.0,7.3 L280.0,7.6 L282.0,8.0 L284.0,8.4 L286.0,8.8 L288.0,9.1 L290.0,9.5 L292.0,9.9 L294.0,10.3 L296.0,10.6 L298.0,11.0 L300.0,11.4 L302.0,11.7 L304.0,12.1 L306.0,12.5 L308.0,12.9 L310.0,13.2 L312.0,13.6 L314.0,14.0 L316.0,14.4 L318.0,14.7 L320.0,15.1 L322.0,15.5 L324.0,15.8 L326.0,16.2 L328.0,16.6 L330.0,17.0 L332.0,17.3 L334.0,17.7 L336.0,18.1 L338.0,18.4 L340.0,18.8 L342.0,19.2 L344.0,19.5 L346.0,19.9 L348.0,20.3 L350.0,20.6 L352.0,21.0 L354.0,21.4 L356.0,21.7 L358.0,22.1 L360.0,22.5 L362.0,22.9 L364.0,23.2 L366.0,23.6 L368.0,24.0 L370.0,24.3 L372.0,24.7 L374.0,25.1 L376.0,25.4 L378.0,25.8 L380.0,26.2 L382.0,26.5 L384.0,26.9 L386.0,27.3 L388.0,27.6 L390.0,28.0 L392.0,28.4 L394.0,28.8 L396.0,29.1 L398.0,29.5 L400.0,29.9 L402.0,30.2 L404.0,30.6 L406.0,31.0 L408.0,31.3 L410.0,31.7 L412.0,32.0 L414.0,32.4 L416.0,32.7 L418.0,33.0 L420.0,33.4 L422.0,33.7 L424.0,34.0 L426.0,34.4 L428.0,34.7 L430.0,35.0 L432.0,35.3 L434.0,35.7 L436.0,36.0 L438.0,36.3 L440.0,36.7 L442.0,37.0 L444.0,37.3 L446.0,37.7 L448.0,38.0 L450.0,38.3 L452.0,38.7 L454.0,39.0 L456.0,39.4 L458.0,39.7 L460.0,40.1 L462.0,40.4 L464.0,40.8 L466.0,41.2 L468.0,41.5 L470.0,41.9 L472.0,42.3 L474.0,42.7 L476.0,43.1 L478.0,43.5 L480.0,43.9 L482.0,44.4 L484.0,44.8 L486.0,45.2 L488.0,45.7 L490.0,46.1 L492.0,46.6 L494.0,47.1 L496.0,47.6 L498.0,48.1 L500.0,48.6 L502.0,49.1 L504.0,49.7 L506.0,50.3 L508.0,50.9 L510.0,51.5 L512.0,52.1 L514.0,52.8 L516.0,53.4 L518.0,54.1 L520.0,54.8 L522.0,55.5 L524.0,56.2 L526.0,57.0 L528.0,57.7 L530.0,58.4 L532.0,59.2 L534.0,59.9 L536.0,60.6 L538.0,61.4 L540.0,62.1 L542.0,62.8 L544.0,63.6 L546.0,64.3 L548.0,65.0 L550.0,65.7 L552.0,66.4 L554.0,67.1 L556.0,67.7 L558.0,68.4 L560.0,69.0 L562.0,69.6 L564.0,70.2 L566.0,70.8 L568.0,71.3 L570.0,71.8 L572.0,72.4 L574.0,72.9 L576.0,73.4 L578.0,73.8 L580.0,74.3 L582.0,74.8 L584.0,75.2 L586.0,75.7 L588.0,76.1 L590.0,76.6 L592.0,77.0 L594.0,77.5 L596.0,77.9 L598.0,78.4 L600.0,78.9 L602.0,79.3 L604.0,79.8 L606.0,80.3 L608.0,80.8 L610.0,81.3 L612.0,81.9 L614.0,82.4 L616.0,83.0 L618.0,83.6 L620.0,84.2 L622.0,84.8 L624.0,85.5 L626.0,86.1 L628.0,86.8 L630.0,87.5 L632.0,88.2 L634.0,89.0 L636.0,89.7 L638.0,90.5 L640.0,91.3 L642.0,92.1 L644.0,92.9 L646.0,93.7 L648.0,94.6 L650.0,95.5 L652.0,96.3 L654.0,97.2 L656.0,98.1 L658.0,99.1 L660.0,100.0 L662.0,100.9 L664.0,101.8 L666.0,102.6 L668.0,103.4 L670.0,104.2 L672.0,105.0 L674.0,105.8 L676.0,106.7 L678.0,107.5 L680.0,108.5 L682.0,109.4 L684.0,110.5 L686.0,111.6 L688.0,112.8 L690.0,114.1 L692.0,115.5 L694.0,117.0 L696.0,118.7 L698.0,120.5 L700.0,122.5 L702.0,124.7 L704.0,127.2 L706.0,129.8 L708.0,132.7 L710.0,135.8 L712.0,138.9 L714.0,142.2 L716.0,145.5 L718.0,148.8 L720.0,152.1 L722.0,155.4 L724.0,158.6 L726.0,161.7 L728.0,164.6 L730.0,167.4 L732.0,170.1 L734.0,172.8 L736.0,175.6 L738.0,178.4 L740.0,181.2 L742.0,184.0 L744.0,186.7 L746.0,189.4 L748.0,192.1 L750.0,194.7 L752.0,197.2 L754.0,199.6 L756.0,202.0 L758.0,204.2 L760.0,206.2 L762.0,208.1 L764.0,209.9 L766.0,211.5 L768.0,212.9 L770.0,214.3 L772.0,215.7 L774.0,217.1 L776.0,218.5 L778.0,219.9 L780.0,221.2 L782.0,222.4 L784.0,223.6 L786.0,224.6 L788.0,225.6 L790.0,226.5 L792.0,227.2 L794.0,227.8 L796.0,228.2 L798.0,228.5 L800.0,228.6 L802.0,228.6 L804.0,228.6 L806.0,228.5 L808.0,228.5 L810.0,228.4 L812.0,228.4 L814.0,228.3 L816.0,228.2 L818.0,228.1 L820.0,228.0 L822.0,227.9 L824.0,227.8 L826.0,227.7 L828.0,227.5 L830.0,227.4 L832.0,227.2 L834.0,227.1 L836.0,226.9 L838.0,226.8 L840.0,226.6 L842.0,226.4 L844.0,226.0 L846.0,225.5 L848.0,224.9 L850.0,224.3 L852.0,223.5 L854.0,222.7 L856.0,221.9 L858.0,221.0 L860.0,220.0 L862.0,219.1 L864.0,218.2 L866.0,217.2 L868.0,216.3 L870.0,215.5 L872.0,214.7 L874.0,213.9 L876.0,213.2 L878.0,212.7 L880.0,212.2 L882.0,211.8 L884.0,211.6 L886.0,211.5 L888.0,211.5 L890.0,211.6 L892.0,211.9 L894.0,212.2 L896.0,212.7 L898.0,213.2 L900.0,213.9 L902.0,214.6 L904.0,215.4 L906.0,216.2 L908.0,217.1 L910.0,218.1 L912.0,219.1 L914.0,220.2 L916.0,221.3 L918.0,222.4 L920.0,223.6 L922.0,224.7 L924.0,225.9 L926.0,227.1 L928.0,228.3 L930.0,229.5 L932.0,230.7 L934.0,231.8 L936.0,232.9 L938.0,234.0 L940.0,235.1 L942.0,236.1 L944.0,237.1 L946.0,238.0 L948.0,238.9 L950.0,239.6" fill="none" stroke="url(#bluegrad)" stroke-width="0.9" opacity="0.90"/>
<path d="M-20.0,-33.5 L-18.0,-33.1 L-16.0,-32.8 L-14.0,-32.4 L-12.0,-32.1 L-10.0,-31.7 L-8.0,-31.4 L-6.0,-31.0 L-4.0,-30.7 L-2.0,-30.3 L0.0,-30.0 L2.0,-29.7 L4.0,-29.3 L6.0,-29.0 L8.0,-28.6 L10.0,-28.3 L12.0,-27.9 L14.0,-27.6 L16.0,-27.3 L18.0,-26.9 L20.0,-26.6 L22.0,-26.2 L24.0,-25.9 L26.0,-25.5 L28.0,-25.2 L30.0,-24.9 L32.0,-24.5 L34.0,-24.2 L36.0,-23.8 L38.0,-23.5 L40.0,-23.1 L42.0,-22.8 L44.0,-22.5 L46.0,-22.1 L48.0,-21.8 L50.0,-21.4 L52.0,-21.1 L54.0,-20.7 L56.0,-20.4 L58.0,-20.1 L60.0,-19.7 L62.0,-19.4 L64.0,-19.0 L66.0,-18.7 L68.0,-18.4 L70.0,-18.0 L72.0,-17.7 L74.0,-17.3 L76.0,-17.0 L78.0,-16.6 L80.0,-16.3 L82.0,-16.0 L84.0,-15.6 L86.0,-15.3 L88.0,-14.9 L90.0,-14.6 L92.0,-14.3 L94.0,-13.9 L96.0,-13.6 L98.0,-13.2 L100.0,-12.9 L102.0,-12.5 L104.0,-12.2 L106.0,-11.8 L108.0,-11.5 L110.0,-11.2 L112.0,-10.8 L114.0,-10.5 L116.0,-10.1 L118.0,-9.8 L120.0,-9.4 L122.0,-9.1 L124.0,-8.8 L126.0,-8.4 L128.0,-8.1 L130.0,-7.7 L132.0,-7.4 L134.0,-7.0 L136.0,-6.7 L138.0,-6.3 L140.0,-6.0 L142.0,-5.7 L144.0,-5.3 L146.0,-5.0 L148.0,-4.6 L150.0,-4.3 L152.0,-3.9 L154.0,-3.6 L156.0,-3.2 L158.0,-2.9 L160.0,-2.6 L162.0,-2.2 L164.0,-1.9 L166.0,-1.5 L168.0,-1.2 L170.0,-0.8 L172.0,-0.5 L174.0,-0.1 L176.0,0.2 L178.0,0.5 L180.0,0.9 L182.0,1.2 L184.0,1.6 L186.0,1.9 L188.0,2.3 L190.0,2.6 L192.0,2.9 L194.0,3.3 L196.0,3.6 L198.0,4.0 L200.0,4.3 L202.0,4.7 L204.0,5.0 L206.0,5.3 L208.0,5.7 L210.0,6.0 L212.0,6.4 L214.0,6.7 L216.0,7.1 L218.0,7.4 L220.0,7.7 L222.0,8.1 L224.0,8.4 L226.0,8.8 L228.0,9.1 L230.0,9.5 L232.0,9.8 L234.0,10.1 L236.0,10.5 L238.0,10.8 L240.0,11.2 L242.0,11.5 L244.0,11.9 L246.0,12.2 L248.0,12.5 L250.0,12.9 L252.0,13.2 L254.0,13.6 L256.0,13.9 L258.0,14.2 L260.0,14.6 L262.0,14.9 L264.0,15.3 L266.0,15.6 L268.0,16.0 L270.0,16.3 L272.0,16.6 L274.0,17.0 L276.0,17.3 L278.0,17.7 L280.0,18.0 L282.0,18.3 L284.0,18.7 L286.0,19.0 L288.0,19.4 L290.0,19.7 L292.0,20.0 L294.0,20.4 L296.0,20.7 L298.0,21.1 L300.0,21.4 L302.0,21.7 L304.0,22.1 L306.0,22.4 L308.0,22.8 L310.0,23.1 L312.0,23.4 L314.0,23.8 L316.0,24.1 L318.0,24.5 L320.0,24.8 L322.0,25.1 L324.0,25.5 L326.0,25.8 L328.0,26.2 L330.0,26.5 L332.0,26.8 L334.0,27.2 L336.0,27.5 L338.0,27.8 L340.0,28.2 L342.0,28.5 L344.0,28.8 L346.0,29.2 L348.0,29.5 L350.0,29.9 L352.0,30.2 L354.0,30.5 L356.0,30.9 L358.0,31.2 L360.0,31.5 L362.0,31.9 L364.0,32.2 L366.0,32.5 L368.0,32.9 L370.0,33.2 L372.0,33.6 L374.0,33.9 L376.0,34.2 L378.0,34.6 L380.0,34.9 L382.0,35.2 L384.0,35.6 L386.0,35.9 L388.0,36.2 L390.0,36.6 L392.0,36.9 L394.0,37.3 L396.0,37.6 L398.0,37.9 L400.0,38.3 L402.0,38.6 L404.0,38.9 L406.0,39.3 L408.0,39.6 L410.0,39.9 L412.0,40.2 L414.0,40.5 L416.0,40.8 L418.0,41.2 L420.0,41.5 L422.0,41.8 L424.0,42.0 L426.0,42.3 L428.0,42.6 L430.0,42.9 L432.0,43.2 L434.0,43.5 L436.0,43.8 L438.0,44.1 L440.0,44.4 L442.0,44.7 L444.0,45.0 L446.0,45.3 L448.0,45.6 L450.0,45.9 L452.0,46.2 L454.0,46.5 L456.0,46.8 L458.0,47.2 L460.0,47.5 L462.0,47.8 L464.0,48.1 L466.0,48.5 L468.0,48.8 L470.0,49.2 L472.0,49.5 L474.0,49.9 L476.0,50.3 L478.0,50.7 L480.0,51.0 L482.0,51.4 L484.0,51.8 L486.0,52.2 L488.0,52.7 L490.0,53.1 L492.0,53.5 L494.0,54.0 L496.0,54.4 L498.0,54.9 L500.0,55.4 L502.0,55.9 L504.0,56.4 L506.0,57.0 L508.0,57.6 L510.0,58.1 L512.0,58.8 L514.0,59.4 L516.0,60.0 L518.0,60.7 L520.0,61.4 L522.0,62.0 L524.0,62.7 L526.0,63.4 L528.0,64.1 L530.0,64.8 L532.0,65.6 L534.0,66.3 L536.0,67.0 L538.0,67.7 L540.0,68.4 L542.0,69.1 L544.0,69.8 L546.0,70.5 L548.0,71.2 L550.0,71.9 L552.0,72.5 L554.0,73.2 L556.0,73.8 L558.0,74.4 L560.0,75.0 L562.0,75.6 L564.0,76.1 L566.0,76.7 L568.0,77.2 L570.0,77.7 L572.0,78.1 L574.0,78.6 L576.0,79.0 L578.0,79.5 L580.0,79.9 L582.0,80.3 L584.0,80.7 L586.0,81.1 L588.0,81.6 L590.0,82.0 L592.0,82.4 L594.0,82.8 L596.0,83.2 L598.0,83.6 L600.0,84.0 L602.0,84.4 L604.0,84.8 L606.0,85.3 L608.0,85.7 L610.0,86.2 L612.0,86.6 L614.0,87.1 L616.0,87.6 L618.0,88.2 L620.0,88.7 L622.0,89.3 L624.0,89.9 L626.0,90.5 L628.0,91.1 L630.0,91.7 L632.0,92.4 L634.0,93.0 L636.0,93.7 L638.0,94.4 L640.0,95.1 L642.0,95.8 L644.0,96.6 L646.0,97.3 L648.0,98.1 L650.0,98.9 L652.0,99.7 L654.0,100.5 L656.0,101.3 L658.0,102.1 L660.0,103.0 L662.0,103.8 L664.0,104.6 L666.0,105.4 L668.0,106.1 L670.0,106.8 L672.0,107.5 L674.0,108.2 L676.0,108.9 L678.0,109.7 L680.0,110.5 L682.0,111.4 L684.0,112.3 L686.0,113.4 L688.0,114.5 L690.0,115.7 L692.0,117.1 L694.0,118.6 L696.0,120.2 L698.0,122.0 L700.0,124.0 L702.0,126.2 L704.0,128.7 L706.0,131.4 L708.0,134.3 L710.0,137.4 L712.0,140.6 L714.0,143.9 L716.0,147.3 L718.0,150.7 L720.0,154.1 L722.0,157.4 L724.0,160.7 L726.0,163.8 L728.0,166.8 L730.0,169.6 L732.0,172.3 L734.0,175.1 L736.0,177.9 L738.0,180.7 L740.0,183.5 L742.0,186.3 L744.0,189.1 L746.0,191.8 L748.0,194.5 L750.0,197.1 L752.0,199.7 L754.0,202.1 L756.0,204.5 L758.0,206.7 L760.0,208.8 L762.0,210.7 L764.0,212.5 L766.0,214.1 L768.0,215.5 L770.0,216.9 L772.0,218.4 L774.0,219.8 L776.0,221.2 L778.0,222.6 L780.0,223.9 L782.0,225.1 L784.0,226.3 L786.0,227.4 L788.0,228.4 L790.0,229.2 L792.0,230.0 L794.0,230.6 L796.0,231.0 L798.0,231.3 L800.0,231.4 L802.0,231.4 L804.0,231.4 L806.0,231.3 L808.0,231.3 L810.0,231.2 L812.0,231.2 L814.0,231.1 L816.0,231.0 L818.0,230.9 L820.0,230.8 L822.0,230.7 L824.0,230.6 L826.0,230.5 L828.0,230.3 L830.0,230.2 L832.0,230.0 L834.0,229.9 L836.0,229.7 L838.0,229.6 L840.0,229.4 L842.0,229.2 L844.0,228.8 L846.0,228.3 L848.0,227.7 L850.0,227.0 L852.0,226.3 L854.0,225.5 L856.0,224.6 L858.0,223.7 L860.0,222.7 L862.0,221.8 L864.0,220.8 L866.0,219.9 L868.0,219.0 L870.0,218.1 L872.0,217.3 L874.0,216.5 L876.0,215.8 L878.0,215.2 L880.0,214.7 L882.0,214.3 L884.0,214.1 L886.0,214.0 L888.0,214.0 L890.0,214.1 L892.0,214.3 L894.0,214.7 L896.0,215.1 L898.0,215.6 L900.0,216.2 L902.0,216.9 L904.0,217.7 L906.0,218.5 L908.0,219.4 L910.0,220.4 L912.0,221.4 L914.0,222.4 L916.0,223.5 L918.0,224.6 L920.0,225.7 L922.0,226.9 L924.0,228.1 L926.0,229.2 L928.0,230.4 L930.0,231.6 L932.0,232.7 L934.0,233.9 L936.0,235.0 L938.0,236.1 L940.0,237.1 L942.0,238.1 L944.0,239.1 L946.0,240.0 L948.0,240.9 L950.0,241.6" fill="none" stroke="url(#bluegrad)" stroke-width="0.9" opacity="0.90"/>
<path d="M-20.0,-17.9 L-18.0,-17.7 L-16.0,-17.4 L-14.0,-17.2 L-12.0,-16.9 L-10.0,-16.6 L-8.0,-16.2 L-6.0,-15.9 L-4.0,-15.6 L-2.0,-15.3 L0.0,-15.0 L2.0,-14.7 L4.0,-14.4 L6.0,-14.1 L8.0,-13.8 L10.0,-13.4 L12.0,-13.1 L14.0,-12.8 L16.0,-12.5 L18.0,-12.2 L20.0,-11.9 L22.0,-11.6 L24.0,-11.3 L26.0,-11.0 L28.0,-10.7 L30.0,-10.3 L32.0,-10.0 L34.0,-9.7 L36.0,-9.4 L38.0,-9.1 L40.0,-8.8 L42.0,-8.5 L44.0,-8.2 L46.0,-7.9 L48.0,-7.6 L50.0,-7.3 L52.0,-7.0 L54.0,-6.6 L56.0,-6.3 L58.0,-6.0 L60.0,-5.7 L62.0,-5.4 L64.0,-5.1 L66.0,-4.8 L68.0,-4.5 L70.0,-4.2 L72.0,-3.9 L74.0,-3.6 L76.0,-3.3 L78.0,-2.9 L80.0,-2.6 L82.0,-2.3 L84.0,-2.0 L86.0,-1.7 L88.0,-1.4 L90.0,-1.1 L92.0,-0.8 L94.0,-0.5 L96.0,-0.2 L98.0,0.2 L100.0,0.5 L102.0,0.8 L104.0,1.1 L106.0,1.4 L108.0,1.7 L110.0,2.0 L112.0,2.3 L114.0,2.6 L116.0,2.9 L118.0,3.3 L120.0,3.6 L122.0,3.9 L124.0,4.2 L126.0,4.5 L128.0,4.8 L130.0,5.1 L132.0,5.4 L134.0,5.7 L136.0,6.1 L138.0,6.4 L140.0,6.7 L142.0,7.0 L144.0,7.3 L146.0,7.6 L148.0,7.9 L150.0,8.2 L152.0,8.5 L154.0,8.9 L156.0,9.2 L158.0,9.5 L160.0,9.8 L162.0,10.1 L164.0,10.4 L166.0,10.7 L168.0,11.0 L170.0,11.4 L172.0,11.7 L174.0,12.0 L176.0,12.3 L178.0,12.6 L180.0,12.9 L182.0,13.2 L184.0,13.5 L186.0,13.8 L188.0,14.1 L190.0,14.5 L192.0,14.8 L194.0,15.1 L196.0,15.4 L198.0,15.7 L200.0,16.0 L202.0,16.3 L204.0,16.6 L206.0,16.9 L208.0,17.2 L210.0,17.6 L212.0,17.9 L214.0,18.2 L216.0,18.5 L218.0,18.8 L220.0,19.1 L222.0,19.4 L224.0,19.7 L226.0,20.0 L228.0,20.3 L230.0,20.6 L232.0,21.0 L234.0,21.3 L236.0,21.6 L238.0,21.9 L240.0,22.2 L242.0,22.5 L244.0,22.8 L246.0,23.1 L248.0,23.4 L250.0,23.7 L252.0,24.0 L254.0,24.4 L256.0,24.7 L258.0,25.0 L260.0,25.3 L262.0,25.6 L264.0,25.9 L266.0,26.2 L268.0,26.5 L270.0,26.8 L272.0,27.1 L274.0,27.4 L276.0,27.7 L278.0,28.1 L280.0,28.4 L282.0,28.7 L284.0,29.0 L286.0,29.3 L288.0,29.6 L290.0,29.9 L292.0,30.2 L294.0,30.5 L296.0,30.8 L298.0,31.1 L300.0,31.4 L302.0,31.7 L304.0,32.0 L306.0,32.4 L308.0,32.7 L310.0,33.0 L312.0,33.3 L314.0,33.6 L316.0,33.9 L318.0,34.2 L320.0,34.5 L322.0,34.8 L324.0,35.1 L326.0,35.4 L328.0,35.7 L330.0,36.0 L332.0,36.3 L334.0,36.6 L336.0,36.9 L338.0,37.2 L340.0,37.6 L342.0,37.9 L344.0,38.2 L346.0,38.5 L348.0,38.8 L350.0,39.1 L352.0,39.4 L354.0,39.7 L356.0,40.0 L358.0,40.3 L360.0,40.6 L362.0,40.9 L364.0,41.2 L366.0,41.5 L368.0,41.8 L370.0,42.1 L372.0,42.4 L374.0,42.7 L376.0,43.0 L378.0,43.3 L380.0,43.6 L382.0,43.9 L384.0,44.2 L386.0,44.5 L388.0,44.9 L390.0,45.2 L392.0,45.5 L394.0,45.8 L396.0,46.1 L398.0,46.4 L400.0,46.7 L402.0,47.0 L404.0,47.3 L406.0,47.6 L408.0,47.9 L410.0,48.2 L412.0,48.4 L414.0,48.7 L416.0,49.0 L418.0,49.3 L420.0,49.5 L422.0,49.8 L424.0,50.1 L426.0,50.3 L428.0,50.6 L430.0,50.9 L432.0,51.1 L434.0,51.4 L436.0,51.6 L438.0,51.9 L440.0,52.2 L442.0,52.4 L444.0,52.7 L446.0,53.0 L448.0,53.2 L450.0,53.5 L452.0,53.8 L454.0,54.1 L456.0,54.3 L458.0,54.6 L460.0,54.9 L462.0,55.2 L464.0,55.5 L466.0,55.8 L468.0,56.1 L470.0,56.5 L472.0,56.8 L474.0,57.1 L476.0,57.5 L478.0,57.8 L480.0,58.2 L482.0,58.5 L484.0,58.9 L486.0,59.3 L488.0,59.7 L490.0,60.1 L492.0,60.5 L494.0,60.9 L496.0,61.3 L498.0,61.8 L500.0,62.2 L502.0,62.7 L504.0,63.2 L506.0,63.7 L508.0,64.3 L510.0,64.9 L512.0,65.4 L514.0,66.0 L516.0,66.7 L518.0,67.3 L520.0,67.9 L522.0,68.6 L524.0,69.2 L526.0,69.9 L528.0,70.6 L530.0,71.3 L532.0,72.0 L534.0,72.6 L536.0,73.3 L538.0,74.0 L540.0,74.7 L542.0,75.4 L544.0,76.0 L546.0,76.7 L548.0,77.4 L550.0,78.0 L552.0,78.6 L554.0,79.2 L556.0,79.8 L558.0,80.4 L560.0,80.9 L562.0,81.5 L564.0,82.0 L566.0,82.5 L568.0,83.0 L570.0,83.4 L572.0,83.9 L574.0,84.3 L576.0,84.7 L578.0,85.1 L580.0,85.5 L582.0,85.9 L584.0,86.2 L586.0,86.6 L588.0,87.0 L590.0,87.3 L592.0,87.7 L594.0,88.0 L596.0,88.4 L598.0,88.7 L600.0,89.1 L602.0,89.5 L604.0,89.8 L606.0,90.2 L608.0,90.6 L610.0,91.0 L612.0,91.4 L614.0,91.9 L616.0,92.3 L618.0,92.8 L620.0,93.3 L622.0,93.8 L624.0,94.3 L626.0,94.8 L628.0,95.4 L630.0,95.9 L632.0,96.5 L634.0,97.1 L636.0,97.7 L638.0,98.3 L640.0,98.9 L642.0,99.6 L644.0,100.2 L646.0,100.9 L648.0,101.6 L650.0,102.3 L652.0,103.0 L654.0,103.7 L656.0,104.5 L658.0,105.2 L660.0,106.0 L662.0,106.7 L664.0,107.4 L666.0,108.0 L668.0,108.7 L670.0,109.3 L672.0,110.0 L674.0,110.6 L676.0,111.3 L678.0,112.0 L680.0,112.7 L682.0,113.5 L684.0,114.4 L686.0,115.4 L688.0,116.5 L690.0,117.7 L692.0,119.1 L694.0,120.5 L696.0,122.2 L698.0,124.0 L700.0,126.1 L702.0,128.3 L704.0,130.8 L706.0,133.5 L708.0,136.3 L710.0,139.4 L712.0,142.6 L714.0,145.8 L716.0,149.2 L718.0,152.6 L720.0,155.9 L722.0,159.2 L724.0,162.5 L726.0,165.6 L728.0,168.7 L730.0,171.6 L732.0,174.5 L734.0,177.4 L736.0,180.2 L738.0,183.0 L740.0,185.8 L742.0,188.6 L744.0,191.4 L746.0,194.1 L748.0,196.8 L750.0,199.4 L752.0,201.9 L754.0,204.3 L756.0,206.7 L758.0,208.9 L760.0,211.0 L762.0,212.9 L764.0,214.7 L766.0,216.4 L768.0,218.0 L770.0,219.5 L772.0,221.0 L774.0,222.4 L776.0,223.8 L778.0,225.1 L780.0,226.4 L782.0,227.7 L784.0,228.8 L786.0,229.9 L788.0,230.9 L790.0,231.7 L792.0,232.4 L794.0,233.0 L796.0,233.5 L798.0,233.8 L800.0,234.0 L802.0,234.1 L804.0,234.1 L806.0,234.1 L808.0,234.1 L810.0,234.0 L812.0,234.0 L814.0,233.9 L816.0,233.8 L818.0,233.7 L820.0,233.6 L822.0,233.5 L824.0,233.4 L826.0,233.2 L828.0,233.1 L830.0,233.0 L832.0,232.8 L834.0,232.7 L836.0,232.5 L838.0,232.3 L840.0,232.0 L842.0,231.7 L844.0,231.3 L846.0,230.9 L848.0,230.3 L850.0,229.6 L852.0,228.9 L854.0,228.1 L856.0,227.2 L858.0,226.3 L860.0,225.4 L862.0,224.5 L864.0,223.5 L866.0,222.6 L868.0,221.7 L870.0,220.8 L872.0,220.0 L874.0,219.3 L876.0,218.6 L878.0,218.0 L880.0,217.5 L882.0,217.1 L884.0,216.9 L886.0,216.7 L888.0,216.7 L890.0,216.8 L892.0,217.0 L894.0,217.3 L896.0,217.7 L898.0,218.2 L900.0,218.8 L902.0,219.5 L904.0,220.2 L906.0,221.0 L908.0,221.9 L910.0,222.8 L912.0,223.7 L914.0,224.7 L916.0,225.8 L918.0,226.9 L920.0,228.0 L922.0,229.1 L924.0,230.2 L926.0,231.4 L928.0,232.5 L930.0,233.6 L932.0,234.8 L934.0,235.9 L936.0,237.0 L938.0,238.0 L940.0,239.1 L942.0,240.0 L944.0,240.9 L946.0,241.7 L948.0,242.4 L950.0,242.9" fill="none" stroke="url(#bluegrad)" stroke-width="0.9" opacity="0.90"/>
<path d="M-20.0,-2.3 L-18.0,-2.2 L-16.0,-2.0 L-14.0,-1.8 L-12.0,-1.6 L-10.0,-1.3 L-8.0,-1.1 L-6.0,-0.8 L-4.0,-0.5 L-2.0,-0.3 L0.0,0.0 L2.0,0.3 L4.0,0.6 L6.0,0.8 L8.0,1.1 L10.0,1.4 L12.0,1.7 L14.0,1.9 L16.0,2.2 L18.0,2.5 L20.0,2.8 L22.0,3.0 L24.0,3.3 L26.0,3.6 L28.0,3.9 L30.0,4.2 L32.0,4.4 L34.0,4.7 L36.0,5.0 L38.0,5.3 L40.0,5.5 L42.0,5.8 L44.0,6.1 L46.0,6.4 L48.0,6.6 L50.0,6.9 L52.0,7.2 L54.0,7.5 L56.0,7.7 L58.0,8.0 L60.0,8.3 L62.0,8.6 L64.0,8.8 L66.0,9.1 L68.0,9.4 L70.0,9.7 L72.0,9.9 L74.0,10.2 L76.0,10.5 L78.0,10.8 L80.0,11.0 L82.0,11.3 L84.0,11.6 L86.0,11.9 L88.0,12.1 L90.0,12.4 L92.0,12.7 L94.0,13.0 L96.0,13.2 L98.0,13.5 L100.0,13.8 L102.0,14.1 L104.0,14.4 L106.0,14.6 L108.0,14.9 L110.0,15.2 L112.0,15.5 L114.0,15.7 L116.0,16.0 L118.0,16.3 L120.0,16.6 L122.0,16.9 L124.0,17.1 L126.0,17.4 L128.0,17.7 L130.0,18.0 L132.0,18.2 L134.0,18.5 L136.0,18.8 L138.0,19.1 L140.0,19.4 L142.0,19.6 L144.0,19.9 L146.0,20.2 L148.0,20.5 L150.0,20.8 L152.0,21.0 L154.0,21.3 L156.0,21.6 L158.0,21.9 L160.0,22.1 L162.0,22.4 L164.0,22.7 L166.0,23.0 L168.0,23.3 L170.0,23.5 L172.0,23.8 L174.0,24.1 L176.0,24.4 L178.0,24.6 L180.0,24.9 L182.0,25.2 L184.0,25.5 L186.0,25.8 L188.0,26.0 L190.0,26.3 L192.0,26.6 L194.0,26.9 L196.0,27.1 L198.0,27.4 L200.0,27.7 L202.0,28.0 L204.0,28.3 L206.0,28.5 L208.0,28.8 L210.0,29.1 L212.0,29.4 L214.0,29.6 L216.0,29.9 L218.0,30.2 L220.0,30.5 L222.0,30.7 L224.0,31.0 L226.0,31.3 L228.0,31.6 L230.0,31.8 L232.0,32.1 L234.0,32.4 L236.0,32.7 L238.0,32.9 L240.0,33.2 L242.0,33.5 L244.0,33.8 L246.0,34.0 L248.0,34.3 L250.0,34.6 L252.0,34.9 L254.0,35.1 L256.0,35.4 L258.0,35.7 L260.0,36.0 L262.0,36.2 L264.0,36.5 L266.0,36.8 L268.0,37.1 L270.0,37.3 L272.0,37.6 L274.0,37.9 L276.0,38.2 L278.0,38.4 L280.0,38.7 L282.0,39.0 L284.0,39.3 L286.0,39.5 L288.0,39.8 L290.0,40.1 L292.0,40.4 L294.0,40.6 L296.0,40.9 L298.0,41.2 L300.0,41.5 L302.0,41.7 L304.0,42.0 L306.0,42.3 L308.0,42.6 L310.0,42.8 L312.0,43.1 L314.0,43.4 L316.0,43.7 L318.0,43.9 L320.0,44.2 L322.0,44.5 L324.0,44.7 L326.0,45.0 L328.0,45.3 L330.0,45.6 L332.0,45.8 L334.0,46.1 L336.0,46.4 L338.0,46.7 L340.0,46.9 L342.0,47.2 L344.0,47.5 L346.0,47.7 L348.0,48.0 L350.0,48.3 L352.0,48.6 L354.0,48.8 L356.0,49.1 L358.0,49.4 L360.0,49.6 L362.0,49.9 L364.0,50.2 L366.0,50.5 L368.0,50.7 L370.0,51.0 L372.0,51.3 L374.0,51.5 L376.0,51.8 L378.0,52.1 L380.0,52.4 L382.0,52.6 L384.0,52.9 L386.0,53.2 L388.0,53.5 L390.0,53.7 L392.0,54.0 L394.0,54.3 L396.0,54.5 L398.0,54.8 L400.0,55.1 L402.0,55.3 L404.0,55.6 L406.0,55.9 L408.0,56.1 L410.0,56.4 L412.0,56.6 L414.0,56.9 L416.0,57.1 L418.0,57.4 L420.0,57.6 L422.0,57.8 L424.0,58.1 L426.0,58.3 L428.0,58.5 L430.0,58.8 L432.0,59.0 L434.0,59.2 L436.0,59.5 L438.0,59.7 L440.0,59.9 L442.0,60.2 L444.0,60.4 L446.0,60.6 L448.0,60.9 L450.0,61.1 L452.0,61.4 L454.0,61.6 L456.0,61.9 L458.0,62.1 L460.0,62.4 L462.0,62.6 L464.0,62.9 L466.0,63.2 L468.0,63.5 L470.0,63.8 L472.0,64.1 L474.0,64.4 L476.0,64.7 L478.0,65.0 L480.0,65.3 L482.0,65.7 L484.0,66.0 L486.0,66.4 L488.0,66.7 L490.0,67.1 L492.0,67.5 L494.0,67.9 L496.0,68.3 L498.0,68.7 L500.0,69.2 L502.0,69.6 L504.0,70.1 L506.0,70.6 L508.0,71.1 L510.0,71.7 L512.0,72.2 L514.0,72.8 L516.0,73.3 L518.0,73.9 L520.0,74.5 L522.0,75.2 L524.0,75.8 L526.0,76.4 L528.0,77.1 L530.0,77.7 L532.0,78.4 L534.0,79.0 L536.0,79.7 L538.0,80.3 L540.0,81.0 L542.0,81.6 L544.0,82.2 L546.0,82.8 L548.0,83.4 L550.0,84.0 L552.0,84.6 L554.0,85.2 L556.0,85.7 L558.0,86.3 L560.0,86.8 L562.0,87.3 L564.0,87.8 L566.0,88.2 L568.0,88.7 L570.0,89.1 L572.0,89.5 L574.0,89.9 L576.0,90.3 L578.0,90.7 L580.0,91.0 L582.0,91.4 L584.0,91.7 L586.0,92.0 L588.0,92.3 L590.0,92.7 L592.0,93.0 L594.0,93.3 L596.0,93.6 L598.0,93.9 L600.0,94.2 L602.0,94.6 L604.0,94.9 L606.0,95.2 L608.0,95.6 L610.0,95.9 L612.0,96.3 L614.0,96.7 L616.0,97.1 L618.0,97.5 L620.0,97.9 L622.0,98.4 L624.0,98.8 L626.0,99.3 L628.0,99.7 L630.0,100.2 L632.0,100.7 L634.0,101.2 L636.0,101.8 L638.0,102.3 L640.0,102.8 L642.0,103.4 L644.0,104.0 L646.0,104.6 L648.0,105.2 L650.0,105.8 L652.0,106.4 L654.0,107.0 L656.0,107.6 L658.0,108.2 L660.0,108.9 L662.0,109.5 L664.0,110.1 L666.0,110.7 L668.0,111.3 L670.0,111.9 L672.0,112.5 L674.0,113.1 L676.0,113.8 L678.0,114.5 L680.0,115.3 L682.0,116.1 L684.0,117.0 L686.0,118.1 L688.0,119.2 L690.0,120.4 L692.0,121.8 L694.0,123.4 L696.0,125.1 L698.0,127.0 L700.0,129.1 L702.0,131.3 L704.0,133.7 L706.0,136.3 L708.0,139.1 L710.0,142.0 L712.0,145.0 L714.0,148.1 L716.0,151.2 L718.0,154.5 L720.0,157.7 L722.0,160.9 L724.0,164.1 L726.0,167.2 L728.0,170.3 L730.0,173.4 L732.0,176.4 L734.0,179.3 L736.0,182.2 L738.0,185.1 L740.0,187.9 L742.0,190.7 L744.0,193.4 L746.0,196.1 L748.0,198.7 L750.0,201.3 L752.0,203.7 L754.0,206.1 L756.0,208.4 L758.0,210.6 L760.0,212.7 L762.0,214.6 L764.0,216.5 L766.0,218.3 L768.0,220.0 L770.0,221.6 L772.0,223.2 L774.0,224.6 L776.0,226.0 L778.0,227.4 L780.0,228.6 L782.0,229.8 L784.0,230.9 L786.0,231.9 L788.0,232.8 L790.0,233.6 L792.0,234.3 L794.0,234.9 L796.0,235.4 L798.0,235.8 L800.0,236.1 L802.0,236.4 L804.0,236.5 L806.0,236.6 L808.0,236.6 L810.0,236.7 L812.0,236.6 L814.0,236.6 L816.0,236.5 L818.0,236.4 L820.0,236.3 L822.0,236.2 L824.0,236.1 L826.0,236.0 L828.0,235.8 L830.0,235.7 L832.0,235.5 L834.0,235.3 L836.0,235.0 L838.0,234.7 L840.0,234.4 L842.0,234.0 L844.0,233.6 L846.0,233.1 L848.0,232.5 L850.0,231.9 L852.0,231.2 L854.0,230.5 L856.0,229.7 L858.0,228.9 L860.0,228.0 L862.0,227.2 L864.0,226.3 L866.0,225.4 L868.0,224.6 L870.0,223.8 L872.0,223.1 L874.0,222.4 L876.0,221.8 L878.0,221.2 L880.0,220.8 L882.0,220.4 L884.0,220.2 L886.0,220.0 L888.0,220.0 L890.0,220.0 L892.0,220.2 L894.0,220.4 L896.0,220.8 L898.0,221.2 L900.0,221.7 L902.0,222.3 L904.0,223.0 L906.0,223.7 L908.0,224.5 L910.0,225.4 L912.0,226.3 L914.0,227.2 L916.0,228.2 L918.0,229.2 L920.0,230.3 L922.0,231.3 L924.0,232.4 L926.0,233.5 L928.0,234.6 L930.0,235.6 L932.0,236.7 L934.0,237.8 L936.0,238.8 L938.0,239.7 L940.0,240.6 L942.0,241.5 L944.0,242.3 L946.0,243.0 L948.0,243.6 L950.0,244.1" fill="none" stroke="url(#bluegrad)" stroke-width="0.9" opacity="0.90"/>
<path d="M-20.0,13.2 L-18.0,13.3 L-16.0,13.5 L-14.0,13.6 L-12.0,13.8 L-10.0,14.0 L-8.0,14.2 L-6.0,14.4 L-4.0,14.6 L-2.0,14.8 L0.0,15.0 L2.0,15.3 L4.0,15.5 L6.0,15.7 L8.0,16.0 L10.0,16.2 L12.0,16.5 L14.0,16.7 L16.0,17.0 L18.0,17.2 L20.0,17.4 L22.0,17.7 L24.0,17.9 L26.0,18.2 L28.0,18.4 L30.0,18.7 L32.0,18.9 L34.0,19.1 L36.0,19.4 L38.0,19.6 L40.0,19.9 L42.0,20.1 L44.0,20.4 L46.0,20.6 L48.0,20.8 L50.0,21.1 L52.0,21.3 L54.0,21.6 L56.0,21.8 L58.0,22.0 L60.0,22.3 L62.0,22.5 L64.0,22.8 L66.0,23.0 L68.0,23.3 L70.0,23.5 L72.0,23.7 L74.0,24.0 L76.0,24.2 L78.0,24.5 L80.0,24.7 L82.0,25.0 L84.0,25.2 L86.0,25.4 L88.0,25.7 L90.0,25.9 L92.0,26.2 L94.0,26.4 L96.0,26.7 L98.0,26.9 L100.0,27.1 L102.0,27.4 L104.0,27.6 L106.0,27.9 L108.0,28.1 L110.0,28.4 L112.0,28.6 L114.0,28.9 L116.0,29.1 L118.0,29.3 L120.0,29.6 L122.0,29.8 L124.0,30.1 L126.0,30.3 L128.0,30.6 L130.0,30.8 L132.0,31.1 L134.0,31.3 L136.0,31.5 L138.0,31.8 L140.0,32.0 L142.0,32.3 L144.0,32.5 L146.0,32.8 L148.0,33.0 L150.0,33.3 L152.0,33.5 L154.0,33.8 L156.0,34.0 L158.0,34.2 L160.0,34.5 L162.0,34.7 L164.0,35.0 L166.0,35.2 L168.0,35.5 L170.0,35.7 L172.0,36.0 L174.0,36.2 L176.0,36.5 L178.0,36.7 L180.0,36.9 L182.0,37.2 L184.0,37.4 L186.0,37.7 L188.0,37.9 L190.0,38.2 L192.0,38.4 L194.0,38.7 L196.0,38.9 L198.0,39.1 L200.0,39.4 L202.0,39.6 L204.0,39.9 L206.0,40.1 L208.0,40.4 L210.0,40.6 L212.0,40.8 L214.0,41.1 L216.0,41.3 L218.0,41.6 L220.0,41.8 L222.0,42.1 L224.0,42.3 L226.0,42.5 L228.0,42.8 L230.0,43.0 L232.0,43.3 L234.0,43.5 L236.0,43.8 L238.0,44.0 L240.0,44.2 L242.0,44.5 L244.0,44.7 L246.0,45.0 L248.0,45.2 L250.0,45.5 L252.0,45.7 L254.0,45.9 L256.0,46.2 L258.0,46.4 L260.0,46.7 L262.0,46.9 L264.0,47.1 L266.0,47.4 L268.0,47.6 L270.0,47.9 L272.0,48.1 L274.0,48.4 L276.0,48.6 L278.0,48.8 L280.0,49.1 L282.0,49.3 L284.0,49.6 L286.0,49.8 L288.0,50.0 L290.0,50.3 L292.0,50.5 L294.0,50.8 L296.0,51.0 L298.0,51.2 L300.0,51.5 L302.0,51.7 L304.0,52.0 L306.0,52.2 L308.0,52.5 L310.0,52.7 L312.0,52.9 L314.0,53.2 L316.0,53.4 L318.0,53.7 L320.0,53.9 L322.0,54.1 L324.0,54.4 L326.0,54.6 L328.0,54.9 L330.0,55.1 L332.0,55.3 L334.0,55.6 L336.0,55.8 L338.0,56.1 L340.0,56.3 L342.0,56.5 L344.0,56.8 L346.0,57.0 L348.0,57.3 L350.0,57.5 L352.0,57.7 L354.0,58.0 L356.0,58.2 L358.0,58.5 L360.0,58.7 L362.0,58.9 L364.0,59.2 L366.0,59.4 L368.0,59.7 L370.0,59.9 L372.0,60.1 L374.0,60.4 L376.0,60.6 L378.0,60.9 L380.0,61.1 L382.0,61.3 L384.0,61.6 L386.0,61.8 L388.0,62.1 L390.0,62.3 L392.0,62.5 L394.0,62.8 L396.0,63.0 L398.0,63.2 L400.0,63.5 L402.0,63.7 L404.0,63.9 L406.0,64.1 L408.0,64.4 L410.0,64.6 L412.0,64.8 L414.0,65.0 L416.0,65.2 L418.0,65.4 L420.0,65.7 L422.0,65.9 L424.0,66.1 L426.0,66.3 L428.0,66.5 L430.0,66.7 L432.0,66.9 L434.0,67.1 L436.0,67.3 L438.0,67.5 L440.0,67.7 L442.0,67.9 L444.0,68.1 L446.0,68.3 L448.0,68.5 L450.0,68.7 L452.0,68.9 L454.0,69.2 L456.0,69.4 L458.0,69.6 L460.0,69.9 L462.0,70.1 L464.0,70.3 L466.0,70.6 L468.0,70.8 L470.0,71.1 L472.0,71.4 L474.0,71.7 L476.0,71.9 L478.0,72.2 L480.0,72.5 L482.0,72.8 L484.0,73.2 L486.0,73.5 L488.0,73.8 L490.0,74.2 L492.0,74.6 L494.0,74.9 L496.0,75.3 L498.0,75.7 L500.0,76.2 L502.0,76.6 L504.0,77.1 L506.0,77.5 L508.0,78.0 L510.0,78.5 L512.0,79.0 L514.0,79.6 L516.0,80.1 L518.0,80.7 L520.0,81.2 L522.0,81.8 L524.0,82.4 L526.0,83.0 L528.0,83.6 L530.0,84.2 L532.0,84.8 L534.0,85.4 L536.0,86.0 L538.0,86.6 L540.0,87.2 L542.0,87.8 L544.0,88.3 L546.0,88.9 L548.0,89.5 L550.0,90.0 L552.0,90.6 L554.0,91.1 L556.0,91.6 L558.0,92.1 L560.0,92.6 L562.0,93.0 L564.0,93.5 L566.0,93.9 L568.0,94.3 L570.0,94.7 L572.0,95.1 L574.0,95.5 L576.0,95.8 L578.0,96.1 L580.0,96.5 L582.0,96.8 L584.0,97.1 L586.0,97.4 L588.0,97.7 L590.0,98.0 L592.0,98.3 L594.0,98.5 L596.0,98.8 L598.0,99.1 L600.0,99.4 L602.0,99.7 L604.0,100.0 L606.0,100.3 L608.0,100.6 L610.0,100.9 L612.0,101.2 L614.0,101.5 L616.0,101.9 L618.0,102.2 L620.0,102.6 L622.0,102.9 L624.0,103.3 L626.0,103.7 L628.0,104.1 L630.0,104.5 L632.0,105.0 L634.0,105.4 L636.0,105.8 L638.0,106.3 L640.0,106.8 L642.0,107.2 L644.0,107.7 L646.0,108.2 L648.0,108.7 L650.0,109.2 L652.0,109.8 L654.0,110.3 L656.0,110.8 L658.0,111.3 L660.0,111.9 L662.0,112.4 L664.0,112.9 L666.0,113.5 L668.0,114.1 L670.0,114.7 L672.0,115.3 L674.0,116.0 L676.0,116.7 L678.0,117.5 L680.0,118.3 L682.0,119.2 L684.0,120.2 L686.0,121.3 L688.0,122.6 L690.0,123.9 L692.0,125.4 L694.0,127.0 L696.0,128.7 L698.0,130.6 L700.0,132.7 L702.0,134.9 L704.0,137.2 L706.0,139.7 L708.0,142.3 L710.0,145.0 L712.0,147.8 L714.0,150.7 L716.0,153.7 L718.0,156.7 L720.0,159.7 L722.0,162.8 L724.0,165.9 L726.0,168.9 L728.0,172.0 L730.0,175.0 L732.0,178.0 L734.0,181.0 L736.0,183.9 L738.0,186.8 L740.0,189.6 L742.0,192.4 L744.0,195.1 L746.0,197.7 L748.0,200.3 L750.0,202.8 L752.0,205.2 L754.0,207.5 L756.0,209.8 L758.0,212.0 L760.0,214.1 L762.0,216.1 L764.0,218.0 L766.0,219.8 L768.0,221.6 L770.0,223.3 L772.0,224.8 L774.0,226.3 L776.0,227.7 L778.0,229.1 L780.0,230.3 L782.0,231.5 L784.0,232.5 L786.0,233.5 L788.0,234.4 L790.0,235.2 L792.0,236.0 L794.0,236.6 L796.0,237.1 L798.0,237.6 L800.0,238.0 L802.0,238.3 L804.0,238.6 L806.0,238.8 L808.0,238.9 L810.0,239.0 L812.0,239.0 L814.0,239.1 L816.0,239.0 L818.0,239.0 L820.0,238.9 L822.0,238.8 L824.0,238.7 L826.0,238.5 L828.0,238.4 L830.0,238.1 L832.0,237.9 L834.0,237.6 L836.0,237.3 L838.0,237.0 L840.0,236.6 L842.0,236.2 L844.0,235.7 L846.0,235.2 L848.0,234.7 L850.0,234.1 L852.0,233.4 L854.0,232.8 L856.0,232.1 L858.0,231.3 L860.0,230.6 L862.0,229.8 L864.0,229.1 L866.0,228.4 L868.0,227.7 L870.0,227.0 L872.0,226.3 L874.0,225.8 L876.0,225.2 L878.0,224.8 L880.0,224.4 L882.0,224.1 L884.0,223.8 L886.0,223.7 L888.0,223.6 L890.0,223.6 L892.0,223.7 L894.0,223.9 L896.0,224.2 L898.0,224.6 L900.0,225.0 L902.0,225.6 L904.0,226.1 L906.0,226.8 L908.0,227.5 L910.0,228.3 L912.0,229.1 L914.0,229.9 L916.0,230.8 L918.0,231.7 L920.0,232.7 L922.0,233.7 L924.0,234.6 L926.0,235.6 L928.0,236.6 L930.0,237.6 L932.0,238.5 L934.0,239.4 L936.0,240.3 L938.0,241.2 L940.0,242.0 L942.0,242.7 L944.0,243.4 L946.0,244.1 L948.0,244.7 L950.0,245.2" fill="none" stroke="url(#bluegrad)" stroke-width="0.9" opacity="0.90"/>
<path d="M6.0,30.7 L8.0,30.9 L10.0,31.1 L12.0,31.3 L14.0,31.5 L16.0,31.7 L18.0,31.9 L20.0,32.1 L22.0,32.3 L24.0,32.5 L26.0,32.7 L28.0,32.9 L30.0,33.2 L32.0,33.4 L34.0,33.6 L36.0,33.8 L38.0,34.0 L40.0,34.2 L42.0,34.4 L44.0,34.6 L46.0,34.8 L48.0,35.0 L50.0,35.2 L52.0,35.5 L54.0,35.7 L56.0,35.9 L58.0,36.1 L60.0,36.3 L62.0,36.5 L64.0,36.7 L66.0,36.9 L68.0,37.1 L70.0,37.3 L72.0,37.5 L74.0,37.8 L76.0,38.0 L78.0,38.2 L80.0,38.4 L82.0,38.6 L84.0,38.8 L86.0,39.0 L88.0,39.2 L90.0,39.4 L92.0,39.6 L94.0,39.9 L96.0,40.1 L98.0,40.3 L100.0,40.5 L102.0,40.7 L104.0,40.9 L106.0,41.1 L108.0,41.3 L110.0,41.5 L112.0,41.8 L114.0,42.0 L116.0,42.2 L118.0,42.4 L120.0,42.6 L122.0,42.8 L124.0,43.0 L126.0,43.2 L128.0,43.4 L130.0,43.7 L132.0,43.9 L134.0,44.1 L136.0,44.3 L138.0,44.5 L140.0,44.7 L142.0,44.9 L144.0,45.1 L146.0,45.4 L148.0,45.6 L150.0,45.8 L152.0,46.0 L154.0,46.2 L156.0,46.4 L158.0,46.6 L160.0,46.8 L162.0,47.1 L164.0,47.3 L166.0,47.5 L168.0,47.7 L170.0,47.9 L172.0,48.1 L174.0,48.3 L176.0,48.5 L178.0,48.8 L180.0,49.0 L182.0,49.2 L184.0,49.4 L186.0,49.6 L188.0,49.8 L190.0,50.0 L192.0,50.2 L194.0,50.4 L196.0,50.7 L198.0,50.9 L200.0,51.1 L202.0,51.3 L204.0,51.5 L206.0,51.7 L208.0,51.9 L210.0,52.1 L212.0,52.3 L214.0,52.5 L216.0,52.8 L218.0,53.0 L220.0,53.2 L222.0,53.4 L224.0,53.6 L226.0,53.8 L228.0,54.0 L230.0,54.2 L232.0,54.4 L234.0,54.6 L236.0,54.9 L238.0,55.1 L240.0,55.3 L242.0,55.5 L244.0,55.7 L246.0,55.9 L248.0,56.1 L250.0,56.3 L252.0,56.5 L254.0,56.7 L256.0,56.9 L258.0,57.1 L260.0,57.4 L262.0,57.6 L264.0,57.8 L266.0,58.0 L268.0,58.2 L270.0,58.4 L272.0,58.6 L274.0,58.8 L276.0,59.0 L278.0,59.2 L280.0,59.4 L282.0,59.6 L284.0,59.9 L286.0,60.1 L288.0,60.3 L290.0,60.5 L292.0,60.7 L294.0,60.9 L296.0,61.1 L298.0,61.3 L300.0,61.5 L302.0,61.7 L304.0,61.9 L306.0,62.1 L308.0,62.4 L310.0,62.6 L312.0,62.8 L314.0,63.0 L316.0,63.2 L318.0,63.4 L320.0,63.6 L322.0,63.8 L324.0,64.0 L326.0,64.2 L328.0,64.4 L330.0,64.6 L332.0,64.8 L334.0,65.1 L336.0,65.3 L338.0,65.5 L340.0,65.7 L342.0,65.9 L344.0,66.1 L346.0,66.3 L348.0,66.5 L350.0,66.7 L352.0,66.9 L354.0,67.1 L356.0,67.3 L358.0,67.5 L360.0,67.8 L362.0,68.0 L364.0,68.2 L366.0,68.4 L368.0,68.6 L370.0,68.8 L372.0,69.0 L374.0,69.2 L376.0,69.4 L378.0,69.6 L380.0,69.8 L382.0,70.0 L384.0,70.2 L386.0,70.4 L388.0,70.6 L390.0,70.8 L392.0,71.0 L394.0,71.2 L396.0,71.4 L398.0,71.6 L400.0,71.8 L402.0,72.0 L404.0,72.2 L406.0,72.4 L408.0,72.6 L410.0,72.8 L412.0,73.0 L414.0,73.2 L416.0,73.3 L418.0,73.5 L420.0,73.7 L422.0,73.9 L424.0,74.1 L426.0,74.2 L428.0,74.4 L430.0,74.6 L432.0,74.8 L434.0,74.9 L436.0,75.1 L438.0,75.3 L440.0,75.5 L442.0,75.6 L444.0,75.8 L446.0,76.0 L448.0,76.2 L450.0,76.4 L452.0,76.6 L454.0,76.8 L456.0,77.0 L458.0,77.2 L460.0,77.4 L462.0,77.6 L464.0,77.8 L466.0,78.0 L468.0,78.3 L470.0,78.5 L472.0,78.7 L474.0,79.0 L476.0,79.3 L478.0,79.5 L480.0,79.8 L482.0,80.1 L484.0,80.4 L486.0,80.7 L488.0,81.0 L490.0,81.4 L492.0,81.7 L494.0,82.1 L496.0,82.4 L498.0,82.8 L500.0,83.2 L502.0,83.6 L504.0,84.1 L506.0,84.5 L508.0,85.0 L510.0,85.4 L512.0,85.9 L514.0,86.4 L516.0,86.9 L518.0,87.4 L520.0,87.9 L522.0,88.4 L524.0,89.0 L526.0,89.5 L528.0,90.1 L530.0,90.6 L532.0,91.2 L534.0,91.7 L536.0,92.3 L538.0,92.8 L540.0,93.4 L542.0,93.9 L544.0,94.4 L546.0,94.9 L548.0,95.5 L550.0,96.0 L552.0,96.4 L554.0,96.9 L556.0,97.4 L558.0,97.8 L560.0,98.3 L562.0,98.7 L564.0,99.1 L566.0,99.5 L568.0,99.9 L570.0,100.2 L572.0,100.6 L574.0,100.9 L576.0,101.3 L578.0,101.6 L580.0,101.9 L582.0,102.2 L584.0,102.4 L586.0,102.7 L588.0,103.0 L590.0,103.2 L592.0,103.5 L594.0,103.7 L596.0,104.0 L598.0,104.2 L600.0,104.5 L602.0,104.7 L604.0,105.0 L606.0,105.3 L608.0,105.5 L610.0,105.8 L612.0,106.1 L614.0,106.3 L616.0,106.6 L618.0,106.9 L620.0,107.2 L622.0,107.5 L624.0,107.8 L626.0,108.2 L628.0,108.5 L630.0,108.8 L632.0,109.2 L634.0,109.6 L636.0,109.9 L638.0,110.3 L640.0,110.7 L642.0,111.1 L644.0,111.5 L646.0,111.9 L648.0,112.3 L650.0,112.7 L652.0,113.2 L654.0,113.6 L656.0,114.1 L658.0,114.6 L660.0,115.1 L662.0,115.6 L664.0,116.1 L666.0,116.7 L668.0,117.2 L670.0,117.9 L672.0,118.6 L674.0,119.3 L676.0,120.1 L678.0,120.9 L680.0,121.9 L682.0,122.9 L684.0,124.0 L686.0,125.2 L688.0,126.5 L690.0,127.9 L692.0,129.4 L694.0,131.0 L696.0,132.8 L698.0,134.7 L700.0,136.7 L702.0,138.8 L704.0,141.0 L706.0,143.4 L708.0,145.8 L710.0,148.4 L712.0,151.0 L714.0,153.7 L716.0,156.5 L718.0,159.3 L720.0,162.1 L722.0,165.0 L724.0,168.0 L726.0,170.9 L728.0,173.8 L730.0,176.8 L732.0,179.7 L734.0,182.5 L736.0,185.4 L738.0,188.2 L740.0,191.0 L742.0,193.7 L744.0,196.3 L746.0,198.9 L748.0,201.5 L750.0,204.0 L752.0,206.4 L754.0,208.7 L756.0,210.9 L758.0,213.1 L760.0,215.2 L762.0,217.2 L764.0,219.1 L766.0,221.0 L768.0,222.8 L770.0,224.4 L772.0,226.0 L774.0,227.5 L776.0,229.0 L778.0,230.3 L780.0,231.6 L782.0,232.7 L784.0,233.8 L786.0,234.8 L788.0,235.7 L790.0,236.6 L792.0,237.3 L794.0,238.0 L796.0,238.6 L798.0,239.1 L800.0,239.6 L802.0,240.0 L804.0,240.3 L806.0,240.6 L808.0,240.8 L810.0,241.0 L812.0,241.1 L814.0,241.2 L816.0,241.2 L818.0,241.2 L820.0,241.2 L822.0,241.1 L824.0,241.0 L826.0,240.8 L828.0,240.6 L830.0,240.4 L832.0,240.1 L834.0,239.8 L836.0,239.5 L838.0,239.1 L840.0,238.8 L842.0,238.3 L844.0,237.9 L846.0,237.4 L848.0,236.8 L850.0,236.3 L852.0,235.7 L854.0,235.1 L856.0,234.5 L858.0,233.9 L860.0,233.2 L862.0,232.6 L864.0,232.0 L866.0,231.4 L868.0,230.8 L870.0,230.2 L872.0,229.7 L874.0,229.2 L876.0,228.8 L878.0,228.4 L880.0,228.1 L882.0,227.8 L884.0,227.6 L886.0,227.5 L888.0,227.4 L890.0,227.4 L892.0,227.5 L894.0,227.7 L896.0,227.9 L898.0,228.2 L900.0,228.6 L902.0,229.0 L904.0,229.5 L906.0,230.1 L908.0,230.7 L910.0,231.3 L912.0,232.0 L914.0,232.8 L916.0,233.5 L918.0,234.3 L920.0,235.2 L922.0,236.0 L924.0,236.8 L926.0,237.7 L928.0,238.6 L930.0,239.4 L932.0,240.2 L934.0,241.0 L936.0,241.8 L938.0,242.6 L940.0,243.3 L942.0,244.0 L944.0,244.6 L946.0,245.2 L948.0,245.8 L950.0,246.3" fill="none" stroke="url(#bluegrad)" stroke-width="0.9" opacity="0.90"/>
<path d="M14.0,46.3 L16.0,46.5 L18.0,46.6 L20.0,46.8 L22.0,47.0 L24.0,47.1 L26.0,47.3 L28.0,47.5 L30.0,47.7 L32.0,47.8 L34.0,48.0 L36.0,48.2 L38.0,48.4 L40.0,48.5 L42.0,48.7 L44.0,48.9 L46.0,49.1 L48.0,49.2 L50.0,49.4 L52.0,49.6 L54.0,49.8 L56.0,49.9 L58.0,50.1 L60.0,50.3 L62.0,50.5 L64.0,50.6 L66.0,50.8 L68.0,51.0 L70.0,51.2 L72.0,51.4 L74.0,51.5 L76.0,51.7 L78.0,51.9 L80.0,52.1 L82.0,52.2 L84.0,52.4 L86.0,52.6 L88.0,52.8 L90.0,52.9 L92.0,53.1 L94.0,53.3 L96.0,53.5 L98.0,53.7 L100.0,53.8 L102.0,54.0 L104.0,54.2 L106.0,54.4 L108.0,54.5 L110.0,54.7 L112.0,54.9 L114.0,55.1 L116.0,55.3 L118.0,55.4 L120.0,55.6 L122.0,55.8 L124.0,56.0 L126.0,56.1 L128.0,56.3 L130.0,56.5 L132.0,56.7 L134.0,56.9 L136.0,57.0 L138.0,57.2 L140.0,57.4 L142.0,57.6 L144.0,57.8 L146.0,57.9 L148.0,58.1 L150.0,58.3 L152.0,58.5 L154.0,58.7 L156.0,58.8 L158.0,59.0 L160.0,59.2 L162.0,59.4 L164.0,59.6 L166.0,59.7 L168.0,59.9 L170.0,60.1 L172.0,60.3 L174.0,60.4 L176.0,60.6 L178.0,60.8 L180.0,61.0 L182.0,61.2 L184.0,61.3 L186.0,61.5 L188.0,61.7 L190.0,61.9 L192.0,62.1 L194.0,62.2 L196.0,62.4 L198.0,62.6 L200.0,62.8 L202.0,62.9 L204.0,63.1 L206.0,63.3 L208.0,63.5 L210.0,63.6 L212.0,63.8 L214.0,64.0 L216.0,64.2 L218.0,64.4 L220.0,64.5 L222.0,64.7 L224.0,64.9 L226.0,65.1 L228.0,65.2 L230.0,65.4 L232.0,65.6 L234.0,65.8 L236.0,65.9 L238.0,66.1 L240.0,66.3 L242.0,66.5 L244.0,66.6 L246.0,66.8 L248.0,67.0 L250.0,67.2 L252.0,67.3 L254.0,67.5 L256.0,67.7 L258.0,67.9 L260.0,68.0 L262.0,68.2 L264.0,68.4 L266.0,68.6 L268.0,68.7 L270.0,68.9 L272.0,69.1 L274.0,69.3 L276.0,69.4 L278.0,69.6 L280.0,69.8 L282.0,70.0 L284.0,70.1 L286.0,70.3 L288.0,70.5 L290.0,70.7 L292.0,70.8 L294.0,71.0 L296.0,71.2 L298.0,71.4 L300.0,71.5 L302.0,71.7 L304.0,71.9 L306.0,72.1 L308.0,72.2 L310.0,72.4 L312.0,72.6 L314.0,72.8 L316.0,72.9 L318.0,73.1 L320.0,73.3 L322.0,73.5 L324.0,73.6 L326.0,73.8 L328.0,74.0 L330.0,74.2 L332.0,74.4 L334.0,74.5 L336.0,74.7 L338.0,74.9 L340.0,75.1 L342.0,75.2 L344.0,75.4 L346.0,75.6 L348.0,75.8 L350.0,75.9 L352.0,76.1 L354.0,76.3 L356.0,76.5 L358.0,76.6 L360.0,76.8 L362.0,77.0 L364.0,77.2 L366.0,77.3 L368.0,77.5 L370.0,77.7 L372.0,77.8 L374.0,78.0 L376.0,78.2 L378.0,78.4 L380.0,78.5 L382.0,78.7 L384.0,78.9 L386.0,79.1 L388.0,79.2 L390.0,79.4 L392.0,79.6 L394.0,79.7 L396.0,79.9 L398.0,80.1 L400.0,80.2 L402.0,80.4 L404.0,80.5 L406.0,80.7 L408.0,80.9 L410.0,81.0 L412.0,81.2 L414.0,81.3 L416.0,81.5 L418.0,81.6 L420.0,81.8 L422.0,81.9 L424.0,82.1 L426.0,82.2 L428.0,82.4 L430.0,82.5 L432.0,82.6 L434.0,82.8 L436.0,82.9 L438.0,83.1 L440.0,83.2 L442.0,83.4 L444.0,83.6 L446.0,83.7 L448.0,83.9 L450.0,84.0 L452.0,84.2 L454.0,84.4 L456.0,84.5 L458.0,84.7 L460.0,84.9 L462.0,85.1 L464.0,85.3 L466.0,85.5 L468.0,85.7 L470.0,85.9 L472.0,86.1 L474.0,86.4 L476.0,86.6 L478.0,86.9 L480.0,87.1 L482.0,87.4 L484.0,87.7 L486.0,88.0 L488.0,88.3 L490.0,88.6 L492.0,88.9 L494.0,89.2 L496.0,89.6 L498.0,89.9 L500.0,90.3 L502.0,90.7 L504.0,91.1 L506.0,91.5 L508.0,91.9 L510.0,92.3 L512.0,92.8 L514.0,93.2 L516.0,93.7 L518.0,94.1 L520.0,94.6 L522.0,95.1 L524.0,95.6 L526.0,96.1 L528.0,96.6 L530.0,97.1 L532.0,97.5 L534.0,98.0 L536.0,98.5 L538.0,99.0 L540.0,99.5 L542.0,100.0 L544.0,100.5 L546.0,100.9 L548.0,101.4 L550.0,101.8 L552.0,102.3 L554.0,102.7 L556.0,103.1 L558.0,103.5 L560.0,103.9 L562.0,104.3 L564.0,104.7 L566.0,105.0 L568.0,105.4 L570.0,105.7 L572.0,106.0 L574.0,106.3 L576.0,106.6 L578.0,106.9 L580.0,107.2 L582.0,107.5 L584.0,107.7 L586.0,108.0 L588.0,108.2 L590.0,108.4 L592.0,108.7 L594.0,108.9 L596.0,109.1 L598.0,109.3 L600.0,109.6 L602.0,109.8 L604.0,110.0 L606.0,110.2 L608.0,110.4 L610.0,110.7 L612.0,110.9 L614.0,111.1 L616.0,111.3 L618.0,111.6 L620.0,111.8 L622.0,112.1 L624.0,112.3 L626.0,112.6 L628.0,112.9 L630.0,113.1 L632.0,113.4 L634.0,113.7 L636.0,114.0 L638.0,114.3 L640.0,114.6 L642.0,115.0 L644.0,115.3 L646.0,115.7 L648.0,116.0 L650.0,116.4 L652.0,116.8 L654.0,117.2 L656.0,117.6 L658.0,118.1 L660.0,118.6 L662.0,119.1 L664.0,119.6 L666.0,120.2 L668.0,120.9 L670.0,121.6 L672.0,122.3 L674.0,123.1 L676.0,123.9 L678.0,124.9 L680.0,125.9 L682.0,127.0 L684.0,128.1 L686.0,129.4 L688.0,130.7 L690.0,132.2 L692.0,133.7 L694.0,135.4 L696.0,137.1 L698.0,138.9 L700.0,140.9 L702.0,142.9 L704.0,145.1 L706.0,147.3 L708.0,149.6 L710.0,152.0 L712.0,154.4 L714.0,157.0 L716.0,159.6 L718.0,162.2 L720.0,164.9 L722.0,167.6 L724.0,170.3 L726.0,173.1 L728.0,175.9 L730.0,178.6 L732.0,181.4 L734.0,184.2 L736.0,186.9 L738.0,189.6 L740.0,192.3 L742.0,194.9 L744.0,197.5 L746.0,200.0 L748.0,202.5 L750.0,204.9 L752.0,207.3 L754.0,209.6 L756.0,211.8 L758.0,213.9 L760.0,216.0 L762.0,218.0 L764.0,219.9 L766.0,221.8 L768.0,223.5 L770.0,225.2 L772.0,226.8 L774.0,228.3 L776.0,229.8 L778.0,231.1 L780.0,232.4 L782.0,233.6 L784.0,234.7 L786.0,235.8 L788.0,236.7 L790.0,237.6 L792.0,238.4 L794.0,239.2 L796.0,239.8 L798.0,240.4 L800.0,241.0 L802.0,241.4 L804.0,241.8 L806.0,242.2 L808.0,242.4 L810.0,242.7 L812.0,242.9 L814.0,243.0 L816.0,243.1 L818.0,243.1 L820.0,243.1 L822.0,243.0 L824.0,242.9 L826.0,242.8 L828.0,242.6 L830.0,242.4 L832.0,242.2 L834.0,241.9 L836.0,241.6 L838.0,241.2 L840.0,240.8 L842.0,240.4 L844.0,240.0 L846.0,239.6 L848.0,239.1 L850.0,238.6 L852.0,238.1 L854.0,237.6 L856.0,237.0 L858.0,236.5 L860.0,236.0 L862.0,235.5 L864.0,235.0 L866.0,234.5 L868.0,234.0 L870.0,233.5 L872.0,233.1 L874.0,232.7 L876.0,232.4 L878.0,232.1 L880.0,231.8 L882.0,231.6 L884.0,231.4 L886.0,231.3 L888.0,231.3 L890.0,231.3 L892.0,231.4 L894.0,231.5 L896.0,231.7 L898.0,231.9 L900.0,232.2 L902.0,232.6 L904.0,233.0 L906.0,233.5 L908.0,234.0 L910.0,234.5 L912.0,235.1 L914.0,235.7 L916.0,236.3 L918.0,237.0 L920.0,237.7 L922.0,238.4 L924.0,239.1 L926.0,239.8 L928.0,240.6 L930.0,241.3 L932.0,242.0 L934.0,242.7 L936.0,243.4 L938.0,244.1 L940.0,244.7 L942.0,245.3 L944.0,245.9 L946.0,246.5 L948.0,247.0 L950.0,247.5" fill="none" stroke="url(#bluegrad)" stroke-width="0.9" opacity="0.90"/>
<path d="M22.0,61.6 L24.0,61.8 L26.0,61.9 L28.0,62.0 L30.0,62.2 L32.0,62.3 L34.0,62.5 L36.0,62.6 L38.0,62.7 L40.0,62.9 L42.0,63.0 L44.0,63.2 L46.0,63.3 L48.0,63.4 L50.0,63.6 L52.0,63.7 L54.0,63.9 L56.0,64.0 L58.0,64.2 L60.0,64.3 L62.0,64.4 L64.0,64.6 L66.0,64.7 L68.0,64.9 L70.0,65.0 L72.0,65.2 L74.0,65.3 L76.0,65.4 L78.0,65.6 L80.0,65.7 L82.0,65.9 L84.0,66.0 L86.0,66.2 L88.0,66.3 L90.0,66.5 L92.0,66.6 L94.0,66.7 L96.0,66.9 L98.0,67.0 L100.0,67.2 L102.0,67.3 L104.0,67.5 L106.0,67.6 L108.0,67.8 L110.0,67.9 L112.0,68.0 L114.0,68.2 L116.0,68.3 L118.0,68.5 L120.0,68.6 L122.0,68.8 L124.0,68.9 L126.0,69.1 L128.0,69.2 L130.0,69.4 L132.0,69.5 L134.0,69.6 L136.0,69.8 L138.0,69.9 L140.0,70.1 L142.0,70.2 L144.0,70.4 L146.0,70.5 L148.0,70.7 L150.0,70.8 L152.0,71.0 L154.0,71.1 L156.0,71.3 L158.0,71.4 L160.0,71.5 L162.0,71.7 L164.0,71.8 L166.0,72.0 L168.0,72.1 L170.0,72.3 L172.0,72.4 L174.0,72.6 L176.0,72.7 L178.0,72.9 L180.0,73.0 L182.0,73.1 L184.0,73.3 L186.0,73.4 L188.0,73.6 L190.0,73.7 L192.0,73.9 L194.0,74.0 L196.0,74.2 L198.0,74.3 L200.0,74.4 L202.0,74.6 L204.0,74.7 L206.0,74.9 L208.0,75.0 L210.0,75.2 L212.0,75.3 L214.0,75.5 L216.0,75.6 L218.0,75.7 L220.0,75.9 L222.0,76.0 L224.0,76.2 L226.0,76.3 L228.0,76.5 L230.0,76.6 L232.0,76.7 L234.0,76.9 L236.0,77.0 L238.0,77.2 L240.0,77.3 L242.0,77.5 L244.0,77.6 L246.0,77.7 L248.0,77.9 L250.0,78.0 L252.0,78.2 L254.0,78.3 L256.0,78.5 L258.0,78.6 L260.0,78.7 L262.0,78.9 L264.0,79.0 L266.0,79.2 L268.0,79.3 L270.0,79.4 L272.0,79.6 L274.0,79.7 L276.0,79.9 L278.0,80.0 L280.0,80.2 L282.0,80.3 L284.0,80.4 L286.0,80.6 L288.0,80.7 L290.0,80.9 L292.0,81.0 L294.0,81.2 L296.0,81.3 L298.0,81.4 L300.0,81.6 L302.0,81.7 L304.0,81.9 L306.0,82.0 L308.0,82.1 L310.0,82.3 L312.0,82.4 L314.0,82.6 L316.0,82.7 L318.0,82.9 L320.0,83.0 L322.0,83.1 L324.0,83.3 L326.0,83.4 L328.0,83.6 L330.0,83.7 L332.0,83.9 L334.0,84.0 L336.0,84.1 L338.0,84.3 L340.0,84.4 L342.0,84.6 L344.0,84.7 L346.0,84.9 L348.0,85.0 L350.0,85.1 L352.0,85.3 L354.0,85.4 L356.0,85.6 L358.0,85.7 L360.0,85.9 L362.0,86.0 L364.0,86.1 L366.0,86.3 L368.0,86.4 L370.0,86.6 L372.0,86.7 L374.0,86.8 L376.0,87.0 L378.0,87.1 L380.0,87.3 L382.0,87.4 L384.0,87.5 L386.0,87.7 L388.0,87.8 L390.0,87.9 L392.0,88.1 L394.0,88.2 L396.0,88.3 L398.0,88.5 L400.0,88.6 L402.0,88.7 L404.0,88.8 L406.0,89.0 L408.0,89.1 L410.0,89.2 L412.0,89.3 L414.0,89.5 L416.0,89.6 L418.0,89.7 L420.0,89.8 L422.0,89.9 L424.0,90.1 L426.0,90.2 L428.0,90.3 L430.0,90.4 L432.0,90.6 L434.0,90.7 L436.0,90.8 L438.0,90.9 L440.0,91.0 L442.0,91.2 L444.0,91.3 L446.0,91.4 L448.0,91.6 L450.0,91.7 L452.0,91.9 L454.0,92.0 L456.0,92.2 L458.0,92.3 L460.0,92.5 L462.0,92.7 L464.0,92.8 L466.0,93.0 L468.0,93.2 L470.0,93.4 L472.0,93.6 L474.0,93.8 L476.0,94.0 L478.0,94.3 L480.0,94.5 L482.0,94.8 L484.0,95.0 L486.0,95.3 L488.0,95.6 L490.0,95.8 L492.0,96.1 L494.0,96.4 L496.0,96.8 L498.0,97.1 L500.0,97.4 L502.0,97.8 L504.0,98.1 L506.0,98.5 L508.0,98.9 L510.0,99.3 L512.0,99.7 L514.0,100.1 L516.0,100.5 L518.0,100.9 L520.0,101.3 L522.0,101.7 L524.0,102.2 L526.0,102.6 L528.0,103.0 L530.0,103.5 L532.0,103.9 L534.0,104.4 L536.0,104.8 L538.0,105.2 L540.0,105.6 L542.0,106.1 L544.0,106.5 L546.0,106.9 L548.0,107.3 L550.0,107.7 L552.0,108.1 L554.0,108.5 L556.0,108.9 L558.0,109.2 L560.0,109.6 L562.0,109.9 L564.0,110.2 L566.0,110.6 L568.0,110.9 L570.0,111.2 L572.0,111.4 L574.0,111.7 L576.0,112.0 L578.0,112.2 L580.0,112.5 L582.0,112.7 L584.0,113.0 L586.0,113.2 L588.0,113.4 L590.0,113.6 L592.0,113.8 L594.0,114.0 L596.0,114.2 L598.0,114.4 L600.0,114.6 L602.0,114.7 L604.0,114.9 L606.0,115.1 L608.0,115.3 L610.0,115.5 L612.0,115.6 L614.0,115.8 L616.0,116.0 L618.0,116.2 L620.0,116.4 L622.0,116.6 L624.0,116.8 L626.0,117.0 L628.0,117.2 L630.0,117.4 L632.0,117.7 L634.0,117.9 L636.0,118.2 L638.0,118.4 L640.0,118.7 L642.0,119.0 L644.0,119.3 L646.0,119.6 L648.0,119.9 L650.0,120.3 L652.0,120.7 L654.0,121.1 L656.0,121.5 L658.0,122.0 L660.0,122.5 L662.0,123.0 L664.0,123.6 L666.0,124.3 L668.0,124.9 L670.0,125.7 L672.0,126.5 L674.0,127.3 L676.0,128.2 L678.0,129.2 L680.0,130.3 L682.0,131.4 L684.0,132.6 L686.0,133.9 L688.0,135.3 L690.0,136.7 L692.0,138.2 L694.0,139.9 L696.0,141.6 L698.0,143.4 L700.0,145.2 L702.0,147.2 L704.0,149.2 L706.0,151.3 L708.0,153.5 L710.0,155.8 L712.0,158.1 L714.0,160.4 L716.0,162.8 L718.0,165.3 L720.0,167.8 L722.0,170.4 L724.0,172.9 L726.0,175.5 L728.0,178.1 L730.0,180.7 L732.0,183.3 L734.0,185.9 L736.0,188.5 L738.0,191.1 L740.0,193.6 L742.0,196.1 L744.0,198.6 L746.0,201.0 L748.0,203.4 L750.0,205.7 L752.0,208.0 L754.0,210.3 L756.0,212.4 L758.0,214.5 L760.0,216.6 L762.0,218.5 L764.0,220.5 L766.0,222.3 L768.0,224.0 L770.0,225.7 L772.0,227.3 L774.0,228.9 L776.0,230.3 L778.0,231.7 L780.0,233.0 L782.0,234.2 L784.0,235.4 L786.0,236.4 L788.0,237.5 L790.0,238.4 L792.0,239.2 L794.0,240.0 L796.0,240.8 L798.0,241.4 L800.0,242.0 L802.0,242.5 L804.0,243.0 L806.0,243.4 L808.0,243.7 L810.0,244.0 L812.0,244.2 L814.0,244.4 L816.0,244.6 L818.0,244.6 L820.0,244.7 L822.0,244.7 L824.0,244.6 L826.0,244.5 L828.0,244.4 L830.0,244.2 L832.0,244.0 L834.0,243.8 L836.0,243.5 L838.0,243.2 L840.0,242.9 L842.0,242.6 L844.0,242.2 L846.0,241.8 L848.0,241.4 L850.0,241.0 L852.0,240.6 L854.0,240.1 L856.0,239.7 L858.0,239.3 L860.0,238.8 L862.0,238.4 L864.0,238.0 L866.0,237.6 L868.0,237.2 L870.0,236.9 L872.0,236.5 L874.0,236.2 L876.0,236.0 L878.0,235.7 L880.0,235.5 L882.0,235.4 L884.0,235.2 L886.0,235.2 L888.0,235.1 L890.0,235.1 L892.0,235.2 L894.0,235.3 L896.0,235.5 L898.0,235.7 L900.0,235.9 L902.0,236.2 L904.0,236.5 L906.0,236.9 L908.0,237.3 L910.0,237.7 L912.0,238.2 L914.0,238.7 L916.0,239.2 L918.0,239.8 L920.0,240.3 L922.0,240.9 L924.0,241.5 L926.0,242.1 L928.0,242.7 L930.0,243.3 L932.0,243.9 L934.0,244.5 L936.0,245.1 L938.0,245.7 L940.0,246.2 L942.0,246.8 L944.0,247.3 L946.0,247.8 L948.0,248.3 L950.0,248.8" fill="none" stroke="url(#bluegrad)" stroke-width="0.9" opacity="0.90"/>
<path d="M30.0,76.7 L32.0,76.8 L34.0,76.9 L36.0,77.0 L38.0,77.1 L40.0,77.2 L42.0,77.3 L44.0,77.4 L46.0,77.5 L48.0,77.7 L50.0,77.8 L52.0,77.9 L54.0,78.0 L56.0,78.1 L58.0,78.2 L60.0,78.3 L62.0,78.4 L64.0,78.5 L66.0,78.6 L68.0,78.7 L70.0,78.9 L72.0,79.0 L74.0,79.1 L76.0,79.2 L78.0,79.3 L80.0,79.4 L82.0,79.5 L84.0,79.6 L86.0,79.7 L88.0,79.8 L90.0,80.0 L92.0,80.1 L94.0,80.2 L96.0,80.3 L98.0,80.4 L100.0,80.5 L102.0,80.6 L104.0,80.7 L106.0,80.9 L108.0,81.0 L110.0,81.1 L112.0,81.2 L114.0,81.3 L116.0,81.4 L118.0,81.5 L120.0,81.6 L122.0,81.7 L124.0,81.9 L126.0,82.0 L128.0,82.1 L130.0,82.2 L132.0,82.3 L134.0,82.4 L136.0,82.5 L138.0,82.6 L140.0,82.8 L142.0,82.9 L144.0,83.0 L146.0,83.1 L148.0,83.2 L150.0,83.3 L152.0,83.4 L154.0,83.6 L156.0,83.7 L158.0,83.8 L160.0,83.9 L162.0,84.0 L164.0,84.1 L166.0,84.2 L168.0,84.3 L170.0,84.5 L172.0,84.6 L174.0,84.7 L176.0,84.8 L178.0,84.9 L180.0,85.0 L182.0,85.1 L184.0,85.2 L186.0,85.4 L188.0,85.5 L190.0,85.6 L192.0,85.7 L194.0,85.8 L196.0,85.9 L198.0,86.0 L200.0,86.1 L202.0,86.2 L204.0,86.4 L206.0,86.5 L208.0,86.6 L210.0,86.7 L212.0,86.8 L214.0,86.9 L216.0,87.0 L218.0,87.1 L220.0,87.2 L222.0,87.4 L224.0,87.5 L226.0,87.6 L228.0,87.7 L230.0,87.8 L232.0,87.9 L234.0,88.0 L236.0,88.1 L238.0,88.2 L240.0,88.3 L242.0,88.4 L244.0,88.6 L246.0,88.7 L248.0,88.8 L250.0,88.9 L252.0,89.0 L254.0,89.1 L256.0,89.2 L258.0,89.3 L260.0,89.4 L262.0,89.5 L264.0,89.6 L266.0,89.8 L268.0,89.9 L270.0,90.0 L272.0,90.1 L274.0,90.2 L276.0,90.3 L278.0,90.4 L280.0,90.5 L282.0,90.6 L284.0,90.7 L286.0,90.8 L288.0,91.0 L290.0,91.1 L292.0,91.2 L294.0,91.3 L296.0,91.4 L298.0,91.5 L300.0,91.6 L302.0,91.7 L304.0,91.8 L306.0,91.9 L308.0,92.0 L310.0,92.2 L312.0,92.3 L314.0,92.4 L316.0,92.5 L318.0,92.6 L320.0,92.7 L322.0,92.8 L324.0,92.9 L326.0,93.0 L328.0,93.1 L330.0,93.3 L332.0,93.4 L334.0,93.5 L336.0,93.6 L338.0,93.7 L340.0,93.8 L342.0,93.9 L344.0,94.0 L346.0,94.1 L348.0,94.2 L350.0,94.4 L352.0,94.5 L354.0,94.6 L356.0,94.7 L358.0,94.8 L360.0,94.9 L362.0,95.0 L364.0,95.1 L366.0,95.2 L368.0,95.3 L370.0,95.4 L372.0,95.5 L374.0,95.6 L376.0,95.8 L378.0,95.9 L380.0,96.0 L382.0,96.1 L384.0,96.2 L386.0,96.3 L388.0,96.4 L390.0,96.5 L392.0,96.6 L394.0,96.7 L396.0,96.8 L398.0,96.9 L400.0,97.0 L402.0,97.1 L404.0,97.2 L406.0,97.3 L408.0,97.3 L410.0,97.4 L412.0,97.5 L414.0,97.6 L416.0,97.7 L418.0,97.8 L420.0,97.9 L422.0,98.0 L424.0,98.1 L426.0,98.2 L428.0,98.3 L430.0,98.4 L432.0,98.5 L434.0,98.6 L436.0,98.7 L438.0,98.8 L440.0,98.9 L442.0,99.0 L444.0,99.1 L446.0,99.2 L448.0,99.3 L450.0,99.4 L452.0,99.6 L454.0,99.7 L456.0,99.8 L458.0,100.0 L460.0,100.1 L462.0,100.3 L464.0,100.4 L466.0,100.6 L468.0,100.7 L470.0,100.9 L472.0,101.1 L474.0,101.3 L476.0,101.5 L478.0,101.7 L480.0,101.9 L482.0,102.1 L484.0,102.4 L486.0,102.6 L488.0,102.9 L490.0,103.1 L492.0,103.4 L494.0,103.7 L496.0,103.9 L498.0,104.2 L500.0,104.5 L502.0,104.9 L504.0,105.2 L506.0,105.5 L508.0,105.8 L510.0,106.2 L512.0,106.5 L514.0,106.9 L516.0,107.3 L518.0,107.6 L520.0,108.0 L522.0,108.4 L524.0,108.7 L526.0,109.1 L528.0,109.5 L530.0,109.9 L532.0,110.3 L534.0,110.6 L536.0,111.0 L538.0,111.4 L540.0,111.8 L542.0,112.1 L544.0,112.5 L546.0,112.9 L548.0,113.2 L550.0,113.6 L552.0,113.9 L554.0,114.2 L556.0,114.5 L558.0,114.9 L560.0,115.2 L562.0,115.5 L564.0,115.8 L566.0,116.0 L568.0,116.3 L570.0,116.6 L572.0,116.8 L574.0,117.1 L576.0,117.3 L578.0,117.5 L580.0,117.7 L582.0,117.9 L584.0,118.1 L586.0,118.3 L588.0,118.5 L590.0,118.7 L592.0,118.8 L594.0,119.0 L596.0,119.2 L598.0,119.3 L600.0,119.5 L602.0,119.6 L604.0,119.8 L606.0,119.9 L608.0,120.1 L610.0,120.2 L612.0,120.4 L614.0,120.5 L616.0,120.6 L618.0,120.8 L620.0,120.9 L622.0,121.1 L624.0,121.3 L626.0,121.4 L628.0,121.6 L630.0,121.8 L632.0,122.0 L634.0,122.2 L636.0,122.4 L638.0,122.7 L640.0,122.9 L642.0,123.2 L644.0,123.5 L646.0,123.8 L648.0,124.1 L650.0,124.5 L652.0,124.9 L654.0,125.3 L656.0,125.8 L658.0,126.3 L660.0,126.8 L662.0,127.4 L664.0,128.0 L666.0,128.7 L668.0,129.4 L670.0,130.2 L672.0,131.0 L674.0,131.9 L676.0,132.8 L678.0,133.9 L680.0,134.9 L682.0,136.1 L684.0,137.3 L686.0,138.6 L688.0,140.0 L690.0,141.4 L692.0,142.9 L694.0,144.5 L696.0,146.1 L698.0,147.9 L700.0,149.7 L702.0,151.5 L704.0,153.5 L706.0,155.5 L708.0,157.5 L710.0,159.6 L712.0,161.8 L714.0,164.0 L716.0,166.3 L718.0,168.6 L720.0,170.9 L722.0,173.3 L724.0,175.7 L726.0,178.1 L728.0,180.5 L730.0,182.9 L732.0,185.4 L734.0,187.8 L736.0,190.2 L738.0,192.6 L740.0,195.0 L742.0,197.4 L744.0,199.8 L746.0,202.1 L748.0,204.3 L750.0,206.6 L752.0,208.8 L754.0,210.9 L756.0,213.0 L758.0,215.1 L760.0,217.0 L762.0,219.0 L764.0,220.8 L766.0,222.6 L768.0,224.4 L770.0,226.0 L772.0,227.6 L774.0,229.2 L776.0,230.6 L778.0,232.0 L780.0,233.3 L782.0,234.6 L784.0,235.8 L786.0,236.9 L788.0,237.9 L790.0,238.9 L792.0,239.8 L794.0,240.6 L796.0,241.4 L798.0,242.1 L800.0,242.7 L802.0,243.3 L804.0,243.8 L806.0,244.3 L808.0,244.7 L810.0,245.1 L812.0,245.4 L814.0,245.6 L816.0,245.8 L818.0,245.9 L820.0,246.0 L822.0,246.1 L824.0,246.1 L826.0,246.1 L828.0,246.0 L830.0,245.9 L832.0,245.8 L834.0,245.6 L836.0,245.4 L838.0,245.2 L840.0,244.9 L842.0,244.7 L844.0,244.4 L846.0,244.1 L848.0,243.7 L850.0,243.4 L852.0,243.1 L854.0,242.7 L856.0,242.4 L858.0,242.0 L860.0,241.7 L862.0,241.4 L864.0,241.1 L866.0,240.7 L868.0,240.4 L870.0,240.2 L872.0,239.9 L874.0,239.7 L876.0,239.5 L878.0,239.3 L880.0,239.1 L882.0,239.0 L884.0,238.9 L886.0,238.9 L888.0,238.8 L890.0,238.9 L892.0,238.9 L894.0,239.0 L896.0,239.1 L898.0,239.3 L900.0,239.5 L902.0,239.7 L904.0,240.0 L906.0,240.2 L908.0,240.6 L910.0,240.9 L912.0,241.3 L914.0,241.7 L916.0,242.1 L918.0,242.5 L920.0,243.0 L922.0,243.5 L924.0,244.0 L926.0,244.4 L928.0,244.9 L930.0,245.5 L932.0,246.0 L934.0,246.5 L936.0,247.0 L938.0,247.5 L940.0,247.9 L942.0,248.4 L944.0,248.9 L946.0,249.3 L948.0,249.8 L950.0,250.2" fill="none" stroke="url(#bluegrad)" stroke-width="0.9" opacity="0.90"/>
<path d="M36.0,87.9 L38.0,88.0 L40.0,88.1 L42.0,88.2 L44.0,88.3 L46.0,88.4 L48.0,88.5 L50.0,88.6 L52.0,88.7 L54.0,88.8 L56.0,88.9 L58.0,89.0 L60.0,89.1 L62.0,89.3 L64.0,89.4 L66.0,89.5 L68.0,89.6 L70.0,89.7 L72.0,89.8 L74.0,89.9 L76.0,90.0 L78.0,90.1 L80.0,90.2 L82.0,90.3 L84.0,90.4 L86.0,90.5 L88.0,90.6 L90.0,90.7 L92.0,90.8 L94.0,90.9 L96.0,91.1 L98.0,91.2 L100.0,91.3 L102.0,91.4 L104.0,91.5 L106.0,91.6 L108.0,91.7 L110.0,91.8 L112.0,91.9 L114.0,92.0 L116.0,92.1 L118.0,92.2 L120.0,92.4 L122.0,92.5 L124.0,92.6 L126.0,92.7 L128.0,92.8 L130.0,92.9 L132.0,93.0 L134.0,93.1 L136.0,93.2 L138.0,93.3 L140.0,93.5 L142.0,93.6 L144.0,93.7 L146.0,93.8 L148.0,93.9 L150.0,94.0 L152.0,94.1 L154.0,94.2 L156.0,94.3 L158.0,94.4 L160.0,94.6 L162.0,94.7 L164.0,94.8 L166.0,94.9 L168.0,95.0 L170.0,95.1 L172.0,95.2 L174.0,95.3 L176.0,95.4 L178.0,95.5 L180.0,95.7 L182.0,95.8 L184.0,95.9 L186.0,96.0 L188.0,96.1 L190.0,96.2 L192.0,96.3 L194.0,96.4 L196.0,96.5 L198.0,96.6 L200.0,96.8 L202.0,96.9 L204.0,97.0 L206.0,97.1 L208.0,97.2 L210.0,97.3 L212.0,97.4 L214.0,97.5 L216.0,97.6 L218.0,97.7 L220.0,97.9 L222.0,98.0 L224.0,98.1 L226.0,98.2 L228.0,98.3 L230.0,98.4 L232.0,98.5 L234.0,98.6 L236.0,98.7 L238.0,98.8 L240.0,98.9 L242.0,99.0 L244.0,99.2 L246.0,99.3 L248.0,99.4 L250.0,99.5 L252.0,99.6 L254.0,99.7 L256.0,99.8 L258.0,99.9 L260.0,100.0 L262.0,100.1 L264.0,100.2 L266.0,100.3 L268.0,100.4 L270.0,100.6 L272.0,100.7 L274.0,100.8 L276.0,100.9 L278.0,101.0 L280.0,101.1 L282.0,101.2 L284.0,101.3 L286.0,101.4 L288.0,101.5 L290.0,101.6 L292.0,101.7 L294.0,101.8 L296.0,102.0 L298.0,102.1 L300.0,102.2 L302.0,102.3 L304.0,102.4 L306.0,102.5 L308.0,102.6 L310.0,102.7 L312.0,102.8 L314.0,102.9 L316.0,103.0 L318.0,103.1 L320.0,103.3 L322.0,103.4 L324.0,103.5 L326.0,103.6 L328.0,103.7 L330.0,103.8 L332.0,103.9 L334.0,104.0 L336.0,104.1 L338.0,104.2 L340.0,104.3 L342.0,104.5 L344.0,104.6 L346.0,104.7 L348.0,104.8 L350.0,104.9 L352.0,105.0 L354.0,105.1 L356.0,105.2 L358.0,105.3 L360.0,105.4 L362.0,105.5 L364.0,105.6 L366.0,105.7 L368.0,105.9 L370.0,106.0 L372.0,106.1 L374.0,106.2 L376.0,106.3 L378.0,106.4 L380.0,106.5 L382.0,106.6 L384.0,106.7 L386.0,106.8 L388.0,106.9 L390.0,107.0 L392.0,107.1 L394.0,107.2 L396.0,107.3 L398.0,107.4 L400.0,107.5 L402.0,107.6 L404.0,107.7 L406.0,107.8 L408.0,107.9 L410.0,108.0 L412.0,108.1 L414.0,108.2 L416.0,108.3 L418.0,108.4 L420.0,108.5 L422.0,108.6 L424.0,108.7 L426.0,108.8 L428.0,108.9 L430.0,109.0 L432.0,109.1 L434.0,109.2 L436.0,109.3 L438.0,109.4 L440.0,109.5 L442.0,109.7 L444.0,109.8 L446.0,109.9 L448.0,110.0 L450.0,110.2 L452.0,110.3 L454.0,110.4 L456.0,110.6 L458.0,110.7 L460.0,110.9 L462.0,111.0 L464.0,111.2 L466.0,111.4 L468.0,111.5 L470.0,111.7 L472.0,111.9 L474.0,112.1 L476.0,112.3 L478.0,112.5 L480.0,112.7 L482.0,112.9 L484.0,113.2 L486.0,113.4 L488.0,113.6 L490.0,113.9 L492.0,114.1 L494.0,114.4 L496.0,114.7 L498.0,115.0 L500.0,115.2 L502.0,115.5 L504.0,115.8 L506.0,116.1 L508.0,116.4 L510.0,116.8 L512.0,117.1 L514.0,117.4 L516.0,117.7 L518.0,118.1 L520.0,118.4 L522.0,118.7 L524.0,119.1 L526.0,119.4 L528.0,119.7 L530.0,120.1 L532.0,120.4 L534.0,120.8 L536.0,121.1 L538.0,121.4 L540.0,121.8 L542.0,122.1 L544.0,122.4 L546.0,122.8 L548.0,123.1 L550.0,123.4 L552.0,123.7 L554.0,124.0 L556.0,124.3 L558.0,124.6 L560.0,124.9 L562.0,125.2 L564.0,125.4 L566.0,125.7 L568.0,126.0 L570.0,126.2 L572.0,126.5 L574.0,126.7 L576.0,126.9 L578.0,127.1 L580.0,127.4 L582.0,127.6 L584.0,127.8 L586.0,128.0 L588.0,128.2 L590.0,128.4 L592.0,128.5 L594.0,128.7 L596.0,128.9 L598.0,129.1 L600.0,129.3 L602.0,129.4 L604.0,129.6 L606.0,129.8 L608.0,129.9 L610.0,130.1 L612.0,130.3 L614.0,130.4 L616.0,130.6 L618.0,130.8 L620.0,131.0 L622.0,131.2 L624.0,131.4 L626.0,131.6 L628.0,131.8 L630.0,132.0 L632.0,132.3 L634.0,132.5 L636.0,132.8 L638.0,133.1 L640.0,133.4 L642.0,133.7 L644.0,134.1 L646.0,134.5 L648.0,134.9 L650.0,135.3 L652.0,135.7 L654.0,136.2 L656.0,136.8 L658.0,137.3 L660.0,137.9 L662.0,138.5 L664.0,139.2 L666.0,139.9 L668.0,140.7 L670.0,141.5 L672.0,142.4 L674.0,143.3 L676.0,144.3 L678.0,145.3 L680.0,146.4 L682.0,147.5 L684.0,148.7 L686.0,149.9 L688.0,151.2 L690.0,152.6 L692.0,154.0 L694.0,155.5 L696.0,157.0 L698.0,158.6 L700.0,160.2 L702.0,161.9 L704.0,163.6 L706.0,165.4 L708.0,167.3 L710.0,169.1 L712.0,171.1 L714.0,173.0 L716.0,175.0 L718.0,177.0 L720.0,179.1 L722.0,181.1 L724.0,183.2 L726.0,185.3 L728.0,187.5 L730.0,189.6 L732.0,191.7 L734.0,193.8 L736.0,196.0 L738.0,198.1 L740.0,200.2 L742.0,202.3 L744.0,204.3 L746.0,206.4 L748.0,208.4 L750.0,210.4 L752.0,212.3 L754.0,214.2 L756.0,216.1 L758.0,217.9 L760.0,219.7 L762.0,221.4 L764.0,223.1 L766.0,224.7 L768.0,226.3 L770.0,227.8 L772.0,229.3 L774.0,230.7 L776.0,232.1 L778.0,233.3 L780.0,234.6 L782.0,235.7 L784.0,236.9 L786.0,237.9 L788.0,238.9 L790.0,239.8 L792.0,240.7 L794.0,241.5 L796.0,242.3 L798.0,243.0 L800.0,243.6 L802.0,244.2 L804.0,244.7 L806.0,245.2 L808.0,245.6 L810.0,246.0 L812.0,246.3 L814.0,246.6 L816.0,246.8 L818.0,247.0 L820.0,247.2 L822.0,247.3 L824.0,247.4 L826.0,247.4 L828.0,247.4 L830.0,247.4 L832.0,247.3 L834.0,247.2 L836.0,247.1 L838.0,247.0 L840.0,246.8 L842.0,246.6 L844.0,246.4 L846.0,246.2 L848.0,246.0 L850.0,245.8 L852.0,245.6 L854.0,245.3 L856.0,245.1 L858.0,244.8 L860.0,244.6 L862.0,244.4 L864.0,244.1 L866.0,243.9 L868.0,243.7 L870.0,243.5 L872.0,243.3 L874.0,243.2 L876.0,243.0 L878.0,242.9 L880.0,242.8 L882.0,242.7 L884.0,242.7 L886.0,242.6 L888.0,242.6 L890.0,242.7 L892.0,242.7 L894.0,242.8 L896.0,242.9 L898.0,243.0 L900.0,243.1 L902.0,243.3 L904.0,243.5 L906.0,243.7 L908.0,244.0 L910.0,244.3 L912.0,244.5 L914.0,244.9 L916.0,245.2 L918.0,245.5 L920.0,245.9 L922.0,246.2 L924.0,246.6 L926.0,247.0 L928.0,247.4 L930.0,247.8 L932.0,248.2 L934.0,248.6 L936.0,249.0 L938.0,249.4 L940.0,249.8 L942.0,250.2 L944.0,250.6 L946.0,251.0 L948.0,251.3 L950.0,251.7" fill="none" stroke="url(#bluegrad)" stroke-width="0.9" opacity="0.90"/>
<path d="M42.0,99.1 L44.0,99.2 L46.0,99.3 L48.0,99.4 L50.0,99.5 L52.0,99.6 L54.0,99.7 L56.0,99.8 L58.0,99.9 L60.0,100.0 L62.0,100.1 L64.0,100.2 L66.0,100.3 L68.0,100.4 L70.0,100.5 L72.0,100.6 L74.0,100.7 L76.0,100.8 L78.0,100.9 L80.0,101.0 L82.0,101.1 L84.0,101.2 L86.0,101.3 L88.0,101.4 L90.0,101.5 L92.0,101.6 L94.0,101.7 L96.0,101.8 L98.0,101.9 L100.0,102.0 L102.0,102.1 L104.0,102.2 L106.0,102.3 L108.0,102.4 L110.0,102.6 L112.0,102.7 L114.0,102.8 L116.0,102.9 L118.0,103.0 L120.0,103.1 L122.0,103.2 L124.0,103.3 L126.0,103.4 L128.0,103.5 L130.0,103.6 L132.0,103.7 L134.0,103.8 L136.0,103.9 L138.0,104.0 L140.0,104.1 L142.0,104.3 L144.0,104.4 L146.0,104.5 L148.0,104.6 L150.0,104.7 L152.0,104.8 L154.0,104.9 L156.0,105.0 L158.0,105.1 L160.0,105.2 L162.0,105.3 L164.0,105.4 L166.0,105.5 L168.0,105.7 L170.0,105.8 L172.0,105.9 L174.0,106.0 L176.0,106.1 L178.0,106.2 L180.0,106.3 L182.0,106.4 L184.0,106.5 L186.0,106.6 L188.0,106.7 L190.0,106.8 L192.0,107.0 L194.0,107.1 L196.0,107.2 L198.0,107.3 L200.0,107.4 L202.0,107.5 L204.0,107.6 L206.0,107.7 L208.0,107.8 L210.0,107.9 L212.0,108.0 L214.0,108.1 L216.0,108.2 L218.0,108.4 L220.0,108.5 L222.0,108.6 L224.0,108.7 L226.0,108.8 L228.0,108.9 L230.0,109.0 L232.0,109.1 L234.0,109.2 L236.0,109.3 L238.0,109.4 L240.0,109.5 L242.0,109.6 L244.0,109.7 L246.0,109.9 L248.0,110.0 L250.0,110.1 L252.0,110.2 L254.0,110.3 L256.0,110.4 L258.0,110.5 L260.0,110.6 L262.0,110.7 L264.0,110.8 L266.0,110.9 L268.0,111.0 L270.0,111.1 L272.0,111.2 L274.0,111.3 L276.0,111.5 L278.0,111.6 L280.0,111.7 L282.0,111.8 L284.0,111.9 L286.0,112.0 L288.0,112.1 L290.0,112.2 L292.0,112.3 L294.0,112.4 L296.0,112.5 L298.0,112.6 L300.0,112.7 L302.0,112.8 L304.0,113.0 L306.0,113.1 L308.0,113.2 L310.0,113.3 L312.0,113.4 L314.0,113.5 L316.0,113.6 L318.0,113.7 L320.0,113.8 L322.0,113.9 L324.0,114.0 L326.0,114.1 L328.0,114.2 L330.0,114.3 L332.0,114.5 L334.0,114.6 L336.0,114.7 L338.0,114.8 L340.0,114.9 L342.0,115.0 L344.0,115.1 L346.0,115.2 L348.0,115.3 L350.0,115.4 L352.0,115.5 L354.0,115.6 L356.0,115.7 L358.0,115.8 L360.0,116.0 L362.0,116.1 L364.0,116.2 L366.0,116.3 L368.0,116.4 L370.0,116.5 L372.0,116.6 L374.0,116.7 L376.0,116.8 L378.0,116.9 L380.0,117.0 L382.0,117.1 L384.0,117.2 L386.0,117.3 L388.0,117.4 L390.0,117.5 L392.0,117.6 L394.0,117.7 L396.0,117.8 L398.0,117.9 L400.0,118.0 L402.0,118.1 L404.0,118.2 L406.0,118.3 L408.0,118.4 L410.0,118.5 L412.0,118.6 L414.0,118.7 L416.0,118.9 L418.0,119.0 L420.0,119.1 L422.0,119.2 L424.0,119.3 L426.0,119.4 L428.0,119.5 L430.0,119.6 L432.0,119.7 L434.0,119.8 L436.0,120.0 L438.0,120.1 L440.0,120.2 L442.0,120.3 L444.0,120.5 L446.0,120.6 L448.0,120.7 L450.0,120.9 L452.0,121.0 L454.0,121.2 L456.0,121.3 L458.0,121.5 L460.0,121.6 L462.0,121.8 L464.0,121.9 L466.0,122.1 L468.0,122.3 L470.0,122.5 L472.0,122.7 L474.0,122.9 L476.0,123.1 L478.0,123.3 L480.0,123.5 L482.0,123.7 L484.0,123.9 L486.0,124.1 L488.0,124.4 L490.0,124.6 L492.0,124.9 L494.0,125.1 L496.0,125.4 L498.0,125.6 L500.0,125.9 L502.0,126.2 L504.0,126.4 L506.0,126.7 L508.0,127.0 L510.0,127.3 L512.0,127.6 L514.0,127.9 L516.0,128.2 L518.0,128.5 L520.0,128.8 L522.0,129.1 L524.0,129.4 L526.0,129.7 L528.0,130.0 L530.0,130.3 L532.0,130.6 L534.0,130.9 L536.0,131.2 L538.0,131.5 L540.0,131.8 L542.0,132.1 L544.0,132.4 L546.0,132.7 L548.0,133.0 L550.0,133.3 L552.0,133.6 L554.0,133.8 L556.0,134.1 L558.0,134.4 L560.0,134.7 L562.0,134.9 L564.0,135.2 L566.0,135.4 L568.0,135.7 L570.0,135.9 L572.0,136.2 L574.0,136.4 L576.0,136.6 L578.0,136.9 L580.0,137.1 L582.0,137.3 L584.0,137.5 L586.0,137.7 L588.0,137.9 L590.0,138.1 L592.0,138.3 L594.0,138.5 L596.0,138.7 L598.0,138.9 L600.0,139.1 L602.0,139.3 L604.0,139.5 L606.0,139.7 L608.0,139.9 L610.0,140.1 L612.0,140.3 L614.0,140.5 L616.0,140.7 L618.0,140.9 L620.0,141.1 L622.0,141.4 L624.0,141.6 L626.0,141.8 L628.0,142.1 L630.0,142.4 L632.0,142.7 L634.0,143.0 L636.0,143.3 L638.0,143.6 L640.0,144.0 L642.0,144.4 L644.0,144.8 L646.0,145.2 L648.0,145.7 L650.0,146.1 L652.0,146.6 L654.0,147.2 L656.0,147.7 L658.0,148.3 L660.0,149.0 L662.0,149.6 L664.0,150.4 L666.0,151.1 L668.0,151.9 L670.0,152.7 L672.0,153.6 L674.0,154.5 L676.0,155.4 L678.0,156.4 L680.0,157.5 L682.0,158.5 L684.0,159.7 L686.0,160.9 L688.0,162.1 L690.0,163.3 L692.0,164.7 L694.0,166.0 L696.0,167.4 L698.0,168.9 L700.0,170.3 L702.0,171.9 L704.0,173.4 L706.0,175.0 L708.0,176.7 L710.0,178.3 L712.0,180.0 L714.0,181.7 L716.0,183.5 L718.0,185.3 L720.0,187.1 L722.0,188.9 L724.0,190.7 L726.0,192.5 L728.0,194.4 L730.0,196.2 L732.0,198.1 L734.0,199.9 L736.0,201.8 L738.0,203.6 L740.0,205.5 L742.0,207.3 L744.0,209.1 L746.0,210.9 L748.0,212.6 L750.0,214.4 L752.0,216.1 L754.0,217.8 L756.0,219.4 L758.0,221.0 L760.0,222.6 L762.0,224.2 L764.0,225.7 L766.0,227.1 L768.0,228.5 L770.0,229.9 L772.0,231.2 L774.0,232.5 L776.0,233.7 L778.0,234.9 L780.0,236.1 L782.0,237.1 L784.0,238.2 L786.0,239.1 L788.0,240.1 L790.0,240.9 L792.0,241.8 L794.0,242.5 L796.0,243.3 L798.0,243.9 L800.0,244.6 L802.0,245.2 L804.0,245.7 L806.0,246.2 L808.0,246.6 L810.0,247.0 L812.0,247.4 L814.0,247.7 L816.0,248.0 L818.0,248.2 L820.0,248.4 L822.0,248.6 L824.0,248.7 L826.0,248.8 L828.0,248.9 L830.0,248.9 L832.0,248.9 L834.0,248.9 L836.0,248.9 L838.0,248.8 L840.0,248.7 L842.0,248.7 L844.0,248.6 L846.0,248.4 L848.0,248.3 L850.0,248.2 L852.0,248.0 L854.0,247.9 L856.0,247.7 L858.0,247.6 L860.0,247.4 L862.0,247.3 L864.0,247.1 L866.0,247.0 L868.0,246.8 L870.0,246.7 L872.0,246.6 L874.0,246.5 L876.0,246.4 L878.0,246.3 L880.0,246.3 L882.0,246.2 L884.0,246.2 L886.0,246.2 L888.0,246.2 L890.0,246.2 L892.0,246.2 L894.0,246.3 L896.0,246.4 L898.0,246.5 L900.0,246.6 L902.0,246.7 L904.0,246.9 L906.0,247.1 L908.0,247.3 L910.0,247.5 L912.0,247.7 L914.0,247.9 L916.0,248.2 L918.0,248.4 L920.0,248.7 L922.0,249.0 L924.0,249.3 L926.0,249.6 L928.0,249.9 L930.0,250.2 L932.0,250.5 L934.0,250.8 L936.0,251.1 L938.0,251.5 L940.0,251.8 L942.0,252.1 L944.0,252.4 L946.0,252.7 L948.0,253.0 L950.0,253.3" fill="none" stroke="url(#navygrad)" stroke-width="0.9" opacity="0.65"/>
<path d="M48.0,110.3 L50.0,110.4 L52.0,110.5 L54.0,110.6 L56.0,110.7 L58.0,110.8 L60.0,110.9 L62.0,111.0 L64.0,111.1 L66.0,111.1 L68.0,111.2 L70.0,111.3 L72.0,111.4 L74.0,111.5 L76.0,111.6 L78.0,111.7 L80.0,111.8 L82.0,111.9 L84.0,112.0 L86.0,112.1 L88.0,112.2 L90.0,112.3 L92.0,112.4 L94.0,112.5 L96.0,112.6 L98.0,112.7 L100.0,112.8 L102.0,112.9 L104.0,113.0 L106.0,113.1 L108.0,113.2 L110.0,113.3 L112.0,113.4 L114.0,113.5 L116.0,113.6 L118.0,113.7 L120.0,113.8 L122.0,113.9 L124.0,114.0 L126.0,114.1 L128.0,114.2 L130.0,114.3 L132.0,114.4 L134.0,114.5 L136.0,114.6 L138.0,114.7 L140.0,114.8 L142.0,115.0 L144.0,115.1 L146.0,115.2 L148.0,115.3 L150.0,115.4 L152.0,115.5 L154.0,115.6 L156.0,115.7 L158.0,115.8 L160.0,115.9 L162.0,116.0 L164.0,116.1 L166.0,116.2 L168.0,116.3 L170.0,116.4 L172.0,116.5 L174.0,116.6 L176.0,116.7 L178.0,116.8 L180.0,117.0 L182.0,117.1 L184.0,117.2 L186.0,117.3 L188.0,117.4 L190.0,117.5 L192.0,117.6 L194.0,117.7 L196.0,117.8 L198.0,117.9 L200.0,118.0 L202.0,118.1 L204.0,118.2 L206.0,118.3 L208.0,118.4 L210.0,118.5 L212.0,118.7 L214.0,118.8 L216.0,118.9 L218.0,119.0 L220.0,119.1 L222.0,119.2 L224.0,119.3 L226.0,119.4 L228.0,119.5 L230.0,119.6 L232.0,119.7 L234.0,119.8 L236.0,119.9 L238.0,120.0 L240.0,120.1 L242.0,120.2 L244.0,120.3 L246.0,120.4 L248.0,120.6 L250.0,120.7 L252.0,120.8 L254.0,120.9 L256.0,121.0 L258.0,121.1 L260.0,121.2 L262.0,121.3 L264.0,121.4 L266.0,121.5 L268.0,121.6 L270.0,121.7 L272.0,121.8 L274.0,121.9 L276.0,122.0 L278.0,122.1 L280.0,122.2 L282.0,122.3 L284.0,122.5 L286.0,122.6 L288.0,122.7 L290.0,122.8 L292.0,122.9 L294.0,123.0 L296.0,123.1 L298.0,123.2 L300.0,123.3 L302.0,123.4 L304.0,123.5 L306.0,123.6 L308.0,123.7 L310.0,123.8 L312.0,123.9 L314.0,124.0 L316.0,124.1 L318.0,124.3 L320.0,124.4 L322.0,124.5 L324.0,124.6 L326.0,124.7 L328.0,124.8 L330.0,124.9 L332.0,125.0 L334.0,125.1 L336.0,125.2 L338.0,125.3 L340.0,125.4 L342.0,125.5 L344.0,125.6 L346.0,125.7 L348.0,125.8 L350.0,126.0 L352.0,126.1 L354.0,126.2 L356.0,126.3 L358.0,126.4 L360.0,126.5 L362.0,126.6 L364.0,126.7 L366.0,126.8 L368.0,126.9 L370.0,127.0 L372.0,127.1 L374.0,127.2 L376.0,127.3 L378.0,127.4 L380.0,127.5 L382.0,127.6 L384.0,127.7 L386.0,127.8 L388.0,128.0 L390.0,128.1 L392.0,128.2 L394.0,128.3 L396.0,128.4 L398.0,128.5 L400.0,128.6 L402.0,128.7 L404.0,128.8 L406.0,128.9 L408.0,129.0 L410.0,129.1 L412.0,129.2 L414.0,129.3 L416.0,129.4 L418.0,129.6 L420.0,129.7 L422.0,129.8 L424.0,129.9 L426.0,130.0 L428.0,130.1 L430.0,130.3 L432.0,130.4 L434.0,130.5 L436.0,130.6 L438.0,130.7 L440.0,130.9 L442.0,131.0 L444.0,131.1 L446.0,131.3 L448.0,131.4 L450.0,131.6 L452.0,131.7 L454.0,131.9 L456.0,132.0 L458.0,132.2 L460.0,132.3 L462.0,132.5 L464.0,132.7 L466.0,132.9 L468.0,133.0 L470.0,133.2 L472.0,133.4 L474.0,133.6 L476.0,133.8 L478.0,134.0 L480.0,134.2 L482.0,134.4 L484.0,134.6 L486.0,134.8 L488.0,135.1 L490.0,135.3 L492.0,135.5 L494.0,135.7 L496.0,136.0 L498.0,136.2 L500.0,136.5 L502.0,136.7 L504.0,137.0 L506.0,137.2 L508.0,137.5 L510.0,137.8 L512.0,138.0 L514.0,138.3 L516.0,138.6 L518.0,138.8 L520.0,139.1 L522.0,139.4 L524.0,139.7 L526.0,139.9 L528.0,140.2 L530.0,140.5 L532.0,140.8 L534.0,141.1 L536.0,141.3 L538.0,141.6 L540.0,141.9 L542.0,142.2 L544.0,142.4 L546.0,142.7 L548.0,143.0 L550.0,143.2 L552.0,143.5 L554.0,143.8 L556.0,144.0 L558.0,144.3 L560.0,144.5 L562.0,144.8 L564.0,145.0 L566.0,145.3 L568.0,145.5 L570.0,145.7 L572.0,146.0 L574.0,146.2 L576.0,146.4 L578.0,146.6 L580.0,146.9 L582.0,147.1 L584.0,147.3 L586.0,147.5 L588.0,147.7 L590.0,147.9 L592.0,148.1 L594.0,148.4 L596.0,148.6 L598.0,148.8 L600.0,149.0 L602.0,149.2 L604.0,149.4 L606.0,149.6 L608.0,149.9 L610.0,150.1 L612.0,150.3 L614.0,150.6 L616.0,150.8 L618.0,151.1 L620.0,151.3 L622.0,151.6 L624.0,151.9 L626.0,152.2 L628.0,152.5 L630.0,152.8 L632.0,153.1 L634.0,153.5 L636.0,153.8 L638.0,154.2 L640.0,154.6 L642.0,155.0 L644.0,155.5 L646.0,155.9 L648.0,156.4 L650.0,156.9 L652.0,157.5 L654.0,158.0 L656.0,158.6 L658.0,159.3 L660.0,159.9 L662.0,160.6 L664.0,161.3 L666.0,162.0 L668.0,162.8 L670.0,163.6 L672.0,164.5 L674.0,165.4 L676.0,166.3 L678.0,167.2 L680.0,168.2 L682.0,169.3 L684.0,170.3 L686.0,171.4 L688.0,172.5 L690.0,173.7 L692.0,174.9 L694.0,176.2 L696.0,177.4 L698.0,178.7 L700.0,180.1 L702.0,181.4 L704.0,182.8 L706.0,184.2 L708.0,185.7 L710.0,187.2 L712.0,188.7 L714.0,190.2 L716.0,191.7 L718.0,193.3 L720.0,194.8 L722.0,196.4 L724.0,198.0 L726.0,199.6 L728.0,201.2 L730.0,202.8 L732.0,204.4 L734.0,206.0 L736.0,207.7 L738.0,209.3 L740.0,210.8 L742.0,212.4 L744.0,214.0 L746.0,215.6 L748.0,217.1 L750.0,218.6 L752.0,220.1 L754.0,221.6 L756.0,223.0 L758.0,224.4 L760.0,225.8 L762.0,227.2 L764.0,228.5 L766.0,229.8 L768.0,231.1 L770.0,232.3 L772.0,233.5 L774.0,234.6 L776.0,235.7 L778.0,236.8 L780.0,237.8 L782.0,238.8 L784.0,239.8 L786.0,240.7 L788.0,241.5 L790.0,242.3 L792.0,243.1 L794.0,243.8 L796.0,244.5 L798.0,245.2 L800.0,245.8 L802.0,246.3 L804.0,246.9 L806.0,247.4 L808.0,247.8 L810.0,248.2 L812.0,248.6 L814.0,248.9 L816.0,249.2 L818.0,249.5 L820.0,249.8 L822.0,250.0 L824.0,250.1 L826.0,250.3 L828.0,250.4 L830.0,250.5 L832.0,250.6 L834.0,250.7 L836.0,250.7 L838.0,250.7 L840.0,250.7 L842.0,250.7 L844.0,250.7 L846.0,250.6 L848.0,250.6 L850.0,250.5 L852.0,250.4 L854.0,250.4 L856.0,250.3 L858.0,250.2 L860.0,250.1 L862.0,250.0 L864.0,250.0 L866.0,249.9 L868.0,249.8 L870.0,249.7 L872.0,249.7 L874.0,249.6 L876.0,249.6 L878.0,249.5 L880.0,249.5 L882.0,249.5 L884.0,249.5 L886.0,249.5 L888.0,249.5 L890.0,249.5 L892.0,249.5 L894.0,249.6 L896.0,249.7 L898.0,249.7 L900.0,249.8 L902.0,250.0 L904.0,250.1 L906.0,250.2 L908.0,250.4 L910.0,250.5 L912.0,250.7 L914.0,250.9 L916.0,251.0 L918.0,251.2 L920.0,251.5 L922.0,251.7 L924.0,251.9 L926.0,252.1 L928.0,252.4 L930.0,252.6 L932.0,252.9 L934.0,253.1 L936.0,253.4 L938.0,253.6 L940.0,253.9 L942.0,254.1 L944.0,254.4 L946.0,254.6 L948.0,254.9 L950.0,255.2" fill="none" stroke="url(#navygrad)" stroke-width="0.9" opacity="0.65"/>
<path d="M-20.0,119.3 L-18.0,119.3 L-16.0,119.4 L-14.0,119.4 L-12.0,119.4 L-10.0,119.5 L-8.0,119.5 L-6.0,119.6 L-4.0,119.6 L-2.0,119.7 L0.0,119.7 L2.0,119.8 L4.0,119.8 L6.0,119.9 L8.0,119.9 L10.0,120.0 L12.0,120.0 L14.0,120.1 L16.0,120.1 L18.0,120.2 L20.0,120.3 L22.0,120.3 L24.0,120.4 L26.0,120.5 L28.0,120.5 L30.0,120.6 L32.0,120.7 L34.0,120.7 L36.0,120.8 L38.0,120.9 L40.0,121.0 L42.0,121.0 L44.0,121.1 L46.0,121.2 L48.0,121.3 L50.0,121.3 L52.0,121.4 L54.0,121.5 L56.0,121.6 L58.0,121.7 L60.0,121.8 L62.0,121.8 L64.0,121.9 L66.0,122.0 L68.0,122.1 L70.0,122.2 L72.0,122.3 L74.0,122.4 L76.0,122.5 L78.0,122.5 L80.0,122.6 L82.0,122.7 L84.0,122.8 L86.0,122.9 L88.0,123.0 L90.0,123.1 L92.0,123.2 L94.0,123.3 L96.0,123.4 L98.0,123.5 L100.0,123.6 L102.0,123.7 L104.0,123.8 L106.0,123.9 L108.0,124.0 L110.0,124.1 L112.0,124.2 L114.0,124.3 L116.0,124.3 L118.0,124.4 L120.0,124.5 L122.0,124.6 L124.0,124.7 L126.0,124.8 L128.0,124.9 L130.0,125.0 L132.0,125.1 L134.0,125.2 L136.0,125.3 L138.0,125.4 L140.0,125.5 L142.0,125.7 L144.0,125.8 L146.0,125.9 L148.0,126.0 L150.0,126.1 L152.0,126.2 L154.0,126.3 L156.0,126.4 L158.0,126.5 L160.0,126.6 L162.0,126.7 L164.0,126.8 L166.0,126.9 L168.0,127.0 L170.0,127.1 L172.0,127.2 L174.0,127.3 L176.0,127.4 L178.0,127.5 L180.0,127.6 L182.0,127.7 L184.0,127.8 L186.0,127.9 L188.0,128.0 L190.0,128.1 L192.0,128.2 L194.0,128.3 L196.0,128.4 L198.0,128.5 L200.0,128.6 L202.0,128.7 L204.0,128.9 L206.0,129.0 L208.0,129.1 L210.0,129.2 L212.0,129.3 L214.0,129.4 L216.0,129.5 L218.0,129.6 L220.0,129.7 L222.0,129.8 L224.0,129.9 L226.0,130.0 L228.0,130.1 L230.0,130.2 L232.0,130.3 L234.0,130.4 L236.0,130.5 L238.0,130.6 L240.0,130.7 L242.0,130.8 L244.0,130.9 L246.0,131.0 L248.0,131.1 L250.0,131.3 L252.0,131.4 L254.0,131.5 L256.0,131.6 L258.0,131.7 L260.0,131.8 L262.0,131.9 L264.0,132.0 L266.0,132.1 L268.0,132.2 L270.0,132.3 L272.0,132.4 L274.0,132.5 L276.0,132.6 L278.0,132.7 L280.0,132.8 L282.0,132.9 L284.0,133.0 L286.0,133.1 L288.0,133.2 L290.0,133.3 L292.0,133.4 L294.0,133.6 L296.0,133.7 L298.0,133.8 L300.0,133.9 L302.0,134.0 L304.0,134.1 L306.0,134.2 L308.0,134.3 L310.0,134.4 L312.0,134.5 L314.0,134.6 L316.0,134.7 L318.0,134.8 L320.0,134.9 L322.0,135.0 L324.0,135.1 L326.0,135.2 L328.0,135.3 L330.0,135.4 L332.0,135.5 L334.0,135.7 L336.0,135.8 L338.0,135.9 L340.0,136.0 L342.0,136.1 L344.0,136.2 L346.0,136.3 L348.0,136.4 L350.0,136.5 L352.0,136.6 L354.0,136.7 L356.0,136.8 L358.0,136.9 L360.0,137.0 L362.0,137.1 L364.0,137.2 L366.0,137.3 L368.0,137.4 L370.0,137.6 L372.0,137.7 L374.0,137.8 L376.0,137.9 L378.0,138.0 L380.0,138.1 L382.0,138.2 L384.0,138.3 L386.0,138.4 L388.0,138.5 L390.0,138.6 L392.0,138.7 L394.0,138.8 L396.0,138.9 L398.0,139.0 L400.0,139.2 L402.0,139.3 L404.0,139.4 L406.0,139.5 L408.0,139.6 L410.0,139.7 L412.0,139.8 L414.0,139.9 L416.0,140.0 L418.0,140.2 L420.0,140.3 L422.0,140.4 L424.0,140.5 L426.0,140.6 L428.0,140.8 L430.0,140.9 L432.0,141.0 L434.0,141.1 L436.0,141.3 L438.0,141.4 L440.0,141.5 L442.0,141.7 L444.0,141.8 L446.0,142.0 L448.0,142.1 L450.0,142.3 L452.0,142.4 L454.0,142.6 L456.0,142.7 L458.0,142.9 L460.0,143.0 L462.0,143.2 L464.0,143.4 L466.0,143.6 L468.0,143.7 L470.0,143.9 L472.0,144.1 L474.0,144.3 L476.0,144.5 L478.0,144.7 L480.0,144.9 L482.0,145.1 L484.0,145.3 L486.0,145.5 L488.0,145.7 L490.0,145.9 L492.0,146.1 L494.0,146.3 L496.0,146.6 L498.0,146.8 L500.0,147.0 L502.0,147.3 L504.0,147.5 L506.0,147.7 L508.0,148.0 L510.0,148.2 L512.0,148.5 L514.0,148.7 L516.0,148.9 L518.0,149.2 L520.0,149.4 L522.0,149.7 L524.0,149.9 L526.0,150.2 L528.0,150.5 L530.0,150.7 L532.0,151.0 L534.0,151.2 L536.0,151.5 L538.0,151.7 L540.0,152.0 L542.0,152.2 L544.0,152.5 L546.0,152.7 L548.0,153.0 L550.0,153.2 L552.0,153.5 L554.0,153.7 L556.0,154.0 L558.0,154.2 L560.0,154.4 L562.0,154.7 L564.0,154.9 L566.0,155.1 L568.0,155.4 L570.0,155.6 L572.0,155.8 L574.0,156.1 L576.0,156.3 L578.0,156.5 L580.0,156.7 L582.0,157.0 L584.0,157.2 L586.0,157.4 L588.0,157.6 L590.0,157.9 L592.0,158.1 L594.0,158.3 L596.0,158.5 L598.0,158.8 L600.0,159.0 L602.0,159.2 L604.0,159.5 L606.0,159.7 L608.0,160.0 L610.0,160.2 L612.0,160.5 L614.0,160.7 L616.0,161.0 L618.0,161.3 L620.0,161.6 L622.0,161.9 L624.0,162.2 L626.0,162.5 L628.0,162.9 L630.0,163.2 L632.0,163.6 L634.0,164.0 L636.0,164.4 L638.0,164.8 L640.0,165.2 L642.0,165.7 L644.0,166.1 L646.0,166.6 L648.0,167.1 L650.0,167.6 L652.0,168.2 L654.0,168.8 L656.0,169.4 L658.0,170.0 L660.0,170.6 L662.0,171.3 L664.0,172.0 L666.0,172.8 L668.0,173.5 L670.0,174.3 L672.0,175.1 L674.0,175.9 L676.0,176.8 L678.0,177.7 L680.0,178.6 L682.0,179.6 L684.0,180.6 L686.0,181.6 L688.0,182.6 L690.0,183.7 L692.0,184.8 L694.0,185.9 L696.0,187.0 L698.0,188.2 L700.0,189.4 L702.0,190.6 L704.0,191.9 L706.0,193.1 L708.0,194.4 L710.0,195.7 L712.0,197.0 L714.0,198.3 L716.0,199.7 L718.0,201.0 L720.0,202.4 L722.0,203.8 L724.0,205.2 L726.0,206.6 L728.0,208.0 L730.0,209.4 L732.0,210.7 L734.0,212.1 L736.0,213.5 L738.0,214.9 L740.0,216.3 L742.0,217.7 L744.0,219.0 L746.0,220.4 L748.0,221.7 L750.0,223.0 L752.0,224.3 L754.0,225.6 L756.0,226.9 L758.0,228.1 L760.0,229.3 L762.0,230.5 L764.0,231.7 L766.0,232.8 L768.0,233.9 L770.0,235.0 L772.0,236.1 L774.0,237.1 L776.0,238.1 L778.0,239.0 L780.0,239.9 L782.0,240.8 L784.0,241.7 L786.0,242.5 L788.0,243.3 L790.0,244.0 L792.0,244.7 L794.0,245.4 L796.0,246.1 L798.0,246.7 L800.0,247.3 L802.0,247.8 L804.0,248.3 L806.0,248.8 L808.0,249.2 L810.0,249.6 L812.0,250.0 L814.0,250.4 L816.0,250.7 L818.0,251.0 L820.0,251.3 L822.0,251.5 L824.0,251.7 L826.0,251.9 L828.0,252.1 L830.0,252.3 L832.0,252.4 L834.0,252.5 L836.0,252.6 L838.0,252.7 L840.0,252.7 L842.0,252.8 L844.0,252.8 L846.0,252.8 L848.0,252.8 L850.0,252.8 L852.0,252.8 L854.0,252.8 L856.0,252.8 L858.0,252.8 L860.0,252.7 L862.0,252.7 L864.0,252.7 L866.0,252.6 L868.0,252.6 L870.0,252.6 L872.0,252.6 L874.0,252.5 L876.0,252.5 L878.0,252.5 L880.0,252.5 L882.0,252.5 L884.0,252.5 L886.0,252.5 L888.0,252.6 L890.0,252.6 L892.0,252.6 L894.0,252.7 L896.0,252.8 L898.0,252.8 L900.0,252.9 L902.0,253.0 L904.0,253.1 L906.0,253.2 L908.0,253.3 L910.0,253.4 L912.0,253.6 L914.0,253.7 L916.0,253.8 L918.0,254.0 L920.0,254.2 L922.0,254.3 L924.0,254.5 L926.0,254.7 L928.0,254.9 L930.0,255.1 L932.0,255.2 L934.0,255.4 L936.0,255.6 L938.0,255.8 L940.0,256.0 L942.0,256.2 L944.0,256.5 L946.0,256.7 L948.0,256.9 L950.0,257.1" fill="none" stroke="url(#navygrad)" stroke-width="0.9" opacity="0.65"/>
<path d="M-20.0,130.4 L-18.0,130.5 L-16.0,130.5 L-14.0,130.5 L-12.0,130.6 L-10.0,130.6 L-8.0,130.6 L-6.0,130.7 L-4.0,130.7 L-2.0,130.8 L0.0,130.8 L2.0,130.8 L4.0,130.9 L6.0,130.9 L8.0,131.0 L10.0,131.0 L12.0,131.1 L14.0,131.1 L16.0,131.2 L18.0,131.2 L20.0,131.3 L22.0,131.4 L24.0,131.4 L26.0,131.5 L28.0,131.5 L30.0,131.6 L32.0,131.7 L34.0,131.7 L36.0,131.8 L38.0,131.9 L40.0,131.9 L42.0,132.0 L44.0,132.1 L46.0,132.1 L48.0,132.2 L50.0,132.3 L52.0,132.3 L54.0,132.4 L56.0,132.5 L58.0,132.6 L60.0,132.7 L62.0,132.7 L64.0,132.8 L66.0,132.9 L68.0,133.0 L70.0,133.1 L72.0,133.1 L74.0,133.2 L76.0,133.3 L78.0,133.4 L80.0,133.5 L82.0,133.6 L84.0,133.6 L86.0,133.7 L88.0,133.8 L90.0,133.9 L92.0,134.0 L94.0,134.1 L96.0,134.2 L98.0,134.3 L100.0,134.4 L102.0,134.4 L104.0,134.5 L106.0,134.6 L108.0,134.7 L110.0,134.8 L112.0,134.9 L114.0,135.0 L116.0,135.1 L118.0,135.2 L120.0,135.3 L122.0,135.4 L124.0,135.5 L126.0,135.6 L128.0,135.7 L130.0,135.8 L132.0,135.9 L134.0,136.0 L136.0,136.1 L138.0,136.2 L140.0,136.3 L142.0,136.4 L144.0,136.5 L146.0,136.6 L148.0,136.7 L150.0,136.8 L152.0,136.9 L154.0,137.0 L156.0,137.1 L158.0,137.2 L160.0,137.3 L162.0,137.4 L164.0,137.5 L166.0,137.6 L168.0,137.7 L170.0,137.8 L172.0,137.9 L174.0,138.0 L176.0,138.1 L178.0,138.2 L180.0,138.3 L182.0,138.4 L184.0,138.5 L186.0,138.6 L188.0,138.7 L190.0,138.8 L192.0,138.9 L194.0,139.0 L196.0,139.1 L198.0,139.2 L200.0,139.3 L202.0,139.4 L204.0,139.5 L206.0,139.6 L208.0,139.7 L210.0,139.8 L212.0,139.9 L214.0,140.0 L216.0,140.1 L218.0,140.2 L220.0,140.3 L222.0,140.4 L224.0,140.5 L226.0,140.6 L228.0,140.7 L230.0,140.8 L232.0,140.9 L234.0,141.0 L236.0,141.1 L238.0,141.2 L240.0,141.3 L242.0,141.4 L244.0,141.5 L246.0,141.6 L248.0,141.7 L250.0,141.8 L252.0,142.0 L254.0,142.1 L256.0,142.2 L258.0,142.3 L260.0,142.4 L262.0,142.5 L264.0,142.6 L266.0,142.7 L268.0,142.8 L270.0,142.9 L272.0,143.0 L274.0,143.1 L276.0,143.2 L278.0,143.3 L280.0,143.4 L282.0,143.5 L284.0,143.6 L286.0,143.7 L288.0,143.8 L290.0,143.9 L292.0,144.0 L294.0,144.1 L296.0,144.2 L298.0,144.3 L300.0,144.4 L302.0,144.5 L304.0,144.6 L306.0,144.7 L308.0,144.8 L310.0,145.0 L312.0,145.1 L314.0,145.2 L316.0,145.3 L318.0,145.4 L320.0,145.5 L322.0,145.6 L324.0,145.7 L326.0,145.8 L328.0,145.9 L330.0,146.0 L332.0,146.1 L334.0,146.2 L336.0,146.3 L338.0,146.4 L340.0,146.5 L342.0,146.6 L344.0,146.7 L346.0,146.8 L348.0,146.9 L350.0,147.0 L352.0,147.1 L354.0,147.3 L356.0,147.4 L358.0,147.5 L360.0,147.6 L362.0,147.7 L364.0,147.8 L366.0,147.9 L368.0,148.0 L370.0,148.1 L372.0,148.2 L374.0,148.3 L376.0,148.4 L378.0,148.5 L380.0,148.6 L382.0,148.7 L384.0,148.9 L386.0,149.0 L388.0,149.1 L390.0,149.2 L392.0,149.3 L394.0,149.4 L396.0,149.5 L398.0,149.6 L400.0,149.7 L402.0,149.8 L404.0,150.0 L406.0,150.1 L408.0,150.2 L410.0,150.3 L412.0,150.4 L414.0,150.5 L416.0,150.7 L418.0,150.8 L420.0,150.9 L422.0,151.0 L424.0,151.1 L426.0,151.3 L428.0,151.4 L430.0,151.5 L432.0,151.7 L434.0,151.8 L436.0,151.9 L438.0,152.1 L440.0,152.2 L442.0,152.3 L444.0,152.5 L446.0,152.6 L448.0,152.8 L450.0,152.9 L452.0,153.1 L454.0,153.2 L456.0,153.4 L458.0,153.6 L460.0,153.7 L462.0,153.9 L464.0,154.0 L466.0,154.2 L468.0,154.4 L470.0,154.6 L472.0,154.7 L474.0,154.9 L476.0,155.1 L478.0,155.3 L480.0,155.5 L482.0,155.7 L484.0,155.9 L486.0,156.1 L488.0,156.3 L490.0,156.5 L492.0,156.7 L494.0,156.9 L496.0,157.1 L498.0,157.3 L500.0,157.5 L502.0,157.7 L504.0,158.0 L506.0,158.2 L508.0,158.4 L510.0,158.6 L512.0,158.9 L514.0,159.1 L516.0,159.3 L518.0,159.5 L520.0,159.8 L522.0,160.0 L524.0,160.2 L526.0,160.5 L528.0,160.7 L530.0,160.9 L532.0,161.2 L534.0,161.4 L536.0,161.6 L538.0,161.9 L540.0,162.1 L542.0,162.3 L544.0,162.6 L546.0,162.8 L548.0,163.0 L550.0,163.3 L552.0,163.5 L554.0,163.7 L556.0,164.0 L558.0,164.2 L560.0,164.4 L562.0,164.6 L564.0,164.9 L566.0,165.1 L568.0,165.3 L570.0,165.6 L572.0,165.8 L574.0,166.0 L576.0,166.2 L578.0,166.5 L580.0,166.7 L582.0,166.9 L584.0,167.2 L586.0,167.4 L588.0,167.6 L590.0,167.9 L592.0,168.1 L594.0,168.3 L596.0,168.6 L598.0,168.8 L600.0,169.1 L602.0,169.3 L604.0,169.6 L606.0,169.8 L608.0,170.1 L610.0,170.4 L612.0,170.7 L614.0,171.0 L616.0,171.3 L618.0,171.6 L620.0,171.9 L622.0,172.2 L624.0,172.6 L626.0,172.9 L628.0,173.3 L630.0,173.6 L632.0,174.0 L634.0,174.4 L636.0,174.8 L638.0,175.3 L640.0,175.7 L642.0,176.2 L644.0,176.6 L646.0,177.1 L648.0,177.7 L650.0,178.2 L652.0,178.7 L654.0,179.3 L656.0,179.9 L658.0,180.5 L660.0,181.2 L662.0,181.8 L664.0,182.5 L666.0,183.2 L668.0,183.9 L670.0,184.6 L672.0,185.4 L674.0,186.2 L676.0,187.0 L678.0,187.8 L680.0,188.7 L682.0,189.6 L684.0,190.5 L686.0,191.4 L688.0,192.3 L690.0,193.3 L692.0,194.3 L694.0,195.3 L696.0,196.3 L698.0,197.4 L700.0,198.4 L702.0,199.5 L704.0,200.6 L706.0,201.7 L708.0,202.8 L710.0,204.0 L712.0,205.1 L714.0,206.3 L716.0,207.4 L718.0,208.6 L720.0,209.8 L722.0,211.0 L724.0,212.2 L726.0,213.4 L728.0,214.6 L730.0,215.8 L732.0,217.0 L734.0,218.2 L736.0,219.4 L738.0,220.6 L740.0,221.8 L742.0,223.0 L744.0,224.2 L746.0,225.3 L748.0,226.5 L750.0,227.6 L752.0,228.7 L754.0,229.8 L756.0,230.9 L758.0,232.0 L760.0,233.1 L762.0,234.1 L764.0,235.1 L766.0,236.1 L768.0,237.1 L770.0,238.0 L772.0,238.9 L774.0,239.8 L776.0,240.7 L778.0,241.6 L780.0,242.4 L782.0,243.2 L784.0,243.9 L786.0,244.7 L788.0,245.4 L790.0,246.1 L792.0,246.7 L794.0,247.3 L796.0,247.9 L798.0,248.5 L800.0,249.0 L802.0,249.6 L804.0,250.0 L806.0,250.5 L808.0,250.9 L810.0,251.3 L812.0,251.7 L814.0,252.1 L816.0,252.4 L818.0,252.7 L820.0,253.0 L822.0,253.3 L824.0,253.5 L826.0,253.7 L828.0,253.9 L830.0,254.1 L832.0,254.3 L834.0,254.4 L836.0,254.6 L838.0,254.7 L840.0,254.8 L842.0,254.9 L844.0,254.9 L846.0,255.0 L848.0,255.1 L850.0,255.1 L852.0,255.2 L854.0,255.2 L856.0,255.2 L858.0,255.2 L860.0,255.3 L862.0,255.3 L864.0,255.3 L866.0,255.3 L868.0,255.3 L870.0,255.3 L872.0,255.3 L874.0,255.3 L876.0,255.3 L878.0,255.4 L880.0,255.4 L882.0,255.4 L884.0,255.4 L886.0,255.4 L888.0,255.5 L890.0,255.5 L892.0,255.6 L894.0,255.6 L896.0,255.7 L898.0,255.7 L900.0,255.8 L902.0,255.9 L904.0,255.9 L906.0,256.0 L908.0,256.1 L910.0,256.2 L912.0,256.3 L914.0,256.4 L916.0,256.5 L918.0,256.7 L920.0,256.8 L922.0,256.9 L924.0,257.0 L926.0,257.2 L928.0,257.3 L930.0,257.5 L932.0,257.6 L934.0,257.8 L936.0,257.9 L938.0,258.1 L940.0,258.3 L942.0,258.4 L944.0,258.6 L946.0,258.7 L948.0,258.9 L950.0,259.1" fill="none" stroke="url(#navygrad)" stroke-width="0.9" opacity="0.65"/>
<path d="M-20.0,141.6 L-18.0,141.6 L-16.0,141.6 L-14.0,141.7 L-12.0,141.7 L-10.0,141.7 L-8.0,141.8 L-6.0,141.8 L-4.0,141.8 L-2.0,141.9 L0.0,141.9 L2.0,141.9 L4.0,142.0 L6.0,142.0 L8.0,142.1 L10.0,142.1 L12.0,142.2 L14.0,142.2 L16.0,142.2 L18.0,142.3 L20.0,142.3 L22.0,142.4 L24.0,142.4 L26.0,142.5 L28.0,142.5 L30.0,142.6 L32.0,142.7 L34.0,142.7 L36.0,142.8 L38.0,142.8 L40.0,142.9 L42.0,143.0 L44.0,143.0 L46.0,143.1 L48.0,143.1 L50.0,143.2 L52.0,143.3 L54.0,143.4 L56.0,143.4 L58.0,143.5 L60.0,143.6 L62.0,143.6 L64.0,143.7 L66.0,143.8 L68.0,143.9 L70.0,143.9 L72.0,144.0 L74.0,144.1 L76.0,144.2 L78.0,144.2 L80.0,144.3 L82.0,144.4 L84.0,144.5 L86.0,144.6 L88.0,144.6 L90.0,144.7 L92.0,144.8 L94.0,144.9 L96.0,145.0 L98.0,145.1 L100.0,145.2 L102.0,145.2 L104.0,145.3 L106.0,145.4 L108.0,145.5 L110.0,145.6 L112.0,145.7 L114.0,145.8 L116.0,145.9 L118.0,146.0 L120.0,146.0 L122.0,146.1 L124.0,146.2 L126.0,146.3 L128.0,146.4 L130.0,146.5 L132.0,146.6 L134.0,146.7 L136.0,146.8 L138.0,146.9 L140.0,147.0 L142.0,147.1 L144.0,147.2 L146.0,147.3 L148.0,147.4 L150.0,147.5 L152.0,147.5 L154.0,147.6 L156.0,147.7 L158.0,147.8 L160.0,147.9 L162.0,148.0 L164.0,148.1 L166.0,148.2 L168.0,148.3 L170.0,148.4 L172.0,148.5 L174.0,148.6 L176.0,148.7 L178.0,148.8 L180.0,148.9 L182.0,149.0 L184.0,149.1 L186.0,149.2 L188.0,149.3 L190.0,149.4 L192.0,149.5 L194.0,149.6 L196.0,149.7 L198.0,149.8 L200.0,149.9 L202.0,150.0 L204.0,150.1 L206.0,150.2 L208.0,150.3 L210.0,150.4 L212.0,150.5 L214.0,150.6 L216.0,150.7 L218.0,150.8 L220.0,150.9 L222.0,151.0 L224.0,151.1 L226.0,151.2 L228.0,151.3 L230.0,151.4 L232.0,151.5 L234.0,151.6 L236.0,151.7 L238.0,151.8 L240.0,151.9 L242.0,152.0 L244.0,152.1 L246.0,152.2 L248.0,152.3 L250.0,152.4 L252.0,152.5 L254.0,152.6 L256.0,152.7 L258.0,152.9 L260.0,153.0 L262.0,153.1 L264.0,153.2 L266.0,153.3 L268.0,153.4 L270.0,153.5 L272.0,153.6 L274.0,153.7 L276.0,153.8 L278.0,153.9 L280.0,154.0 L282.0,154.1 L284.0,154.2 L286.0,154.3 L288.0,154.4 L290.0,154.5 L292.0,154.6 L294.0,154.7 L296.0,154.8 L298.0,154.9 L300.0,155.0 L302.0,155.1 L304.0,155.2 L306.0,155.3 L308.0,155.4 L310.0,155.5 L312.0,155.6 L314.0,155.7 L316.0,155.8 L318.0,155.9 L320.0,156.0 L322.0,156.1 L324.0,156.2 L326.0,156.3 L328.0,156.4 L330.0,156.6 L332.0,156.7 L334.0,156.8 L336.0,156.9 L338.0,157.0 L340.0,157.1 L342.0,157.2 L344.0,157.3 L346.0,157.4 L348.0,157.5 L350.0,157.6 L352.0,157.7 L354.0,157.8 L356.0,157.9 L358.0,158.0 L360.0,158.1 L362.0,158.2 L364.0,158.3 L366.0,158.4 L368.0,158.6 L370.0,158.7 L372.0,158.8 L374.0,158.9 L376.0,159.0 L378.0,159.1 L380.0,159.2 L382.0,159.3 L384.0,159.4 L386.0,159.5 L388.0,159.6 L390.0,159.8 L392.0,159.9 L394.0,160.0 L396.0,160.1 L398.0,160.2 L400.0,160.3 L402.0,160.4 L404.0,160.6 L406.0,160.7 L408.0,160.8 L410.0,160.9 L412.0,161.0 L414.0,161.1 L416.0,161.3 L418.0,161.4 L420.0,161.5 L422.0,161.6 L424.0,161.8 L426.0,161.9 L428.0,162.0 L430.0,162.2 L432.0,162.3 L434.0,162.4 L436.0,162.6 L438.0,162.7 L440.0,162.8 L442.0,163.0 L444.0,163.1 L446.0,163.3 L448.0,163.4 L450.0,163.6 L452.0,163.7 L454.0,163.9 L456.0,164.0 L458.0,164.2 L460.0,164.4 L462.0,164.5 L464.0,164.7 L466.0,164.8 L468.0,165.0 L470.0,165.2 L472.0,165.4 L474.0,165.5 L476.0,165.7 L478.0,165.9 L480.0,166.1 L482.0,166.3 L484.0,166.4 L486.0,166.6 L488.0,166.8 L490.0,167.0 L492.0,167.2 L494.0,167.4 L496.0,167.6 L498.0,167.8 L500.0,168.0 L502.0,168.2 L504.0,168.4 L506.0,168.6 L508.0,168.8 L510.0,169.0 L512.0,169.2 L514.0,169.4 L516.0,169.7 L518.0,169.9 L520.0,170.1 L522.0,170.3 L524.0,170.5 L526.0,170.7 L528.0,170.9 L530.0,171.2 L532.0,171.4 L534.0,171.6 L536.0,171.8 L538.0,172.0 L540.0,172.3 L542.0,172.5 L544.0,172.7 L546.0,172.9 L548.0,173.1 L550.0,173.4 L552.0,173.6 L554.0,173.8 L556.0,174.0 L558.0,174.2 L560.0,174.5 L562.0,174.7 L564.0,174.9 L566.0,175.1 L568.0,175.4 L570.0,175.6 L572.0,175.8 L574.0,176.0 L576.0,176.3 L578.0,176.5 L580.0,176.7 L582.0,177.0 L584.0,177.2 L586.0,177.4 L588.0,177.7 L590.0,177.9 L592.0,178.2 L594.0,178.4 L596.0,178.7 L598.0,178.9 L600.0,179.2 L602.0,179.5 L604.0,179.7 L606.0,180.0 L608.0,180.3 L610.0,180.6 L612.0,180.9 L614.0,181.2 L616.0,181.5 L618.0,181.8 L620.0,182.2 L622.0,182.5 L624.0,182.9 L626.0,183.2 L628.0,183.6 L630.0,184.0 L632.0,184.4 L634.0,184.8 L636.0,185.2 L638.0,185.6 L640.0,186.1 L642.0,186.5 L644.0,187.0 L646.0,187.5 L648.0,188.0 L650.0,188.5 L652.0,189.1 L654.0,189.6 L656.0,190.2 L658.0,190.8 L660.0,191.4 L662.0,192.0 L664.0,192.7 L666.0,193.3 L668.0,194.0 L670.0,194.7 L672.0,195.4 L674.0,196.1 L676.0,196.9 L678.0,197.6 L680.0,198.4 L682.0,199.2 L684.0,200.0 L686.0,200.9 L688.0,201.7 L690.0,202.6 L692.0,203.5 L694.0,204.3 L696.0,205.3 L698.0,206.2 L700.0,207.1 L702.0,208.1 L704.0,209.0 L706.0,210.0 L708.0,211.0 L710.0,212.0 L712.0,213.0 L714.0,214.0 L716.0,215.0 L718.0,216.0 L720.0,217.0 L722.0,218.1 L724.0,219.1 L726.0,220.1 L728.0,221.2 L730.0,222.2 L732.0,223.2 L734.0,224.3 L736.0,225.3 L738.0,226.3 L740.0,227.4 L742.0,228.4 L744.0,229.4 L746.0,230.4 L748.0,231.4 L750.0,232.3 L752.0,233.3 L754.0,234.3 L756.0,235.2 L758.0,236.1 L760.0,237.0 L762.0,237.9 L764.0,238.8 L766.0,239.7 L768.0,240.5 L770.0,241.3 L772.0,242.1 L774.0,242.9 L776.0,243.7 L778.0,244.4 L780.0,245.1 L782.0,245.8 L784.0,246.5 L786.0,247.2 L788.0,247.8 L790.0,248.4 L792.0,249.0 L794.0,249.6 L796.0,250.1 L798.0,250.6 L800.0,251.1 L802.0,251.6 L804.0,252.1 L806.0,252.5 L808.0,252.9 L810.0,253.3 L812.0,253.7 L814.0,254.0 L816.0,254.3 L818.0,254.7 L820.0,254.9 L822.0,255.2 L824.0,255.5 L826.0,255.7 L828.0,255.9 L830.0,256.1 L832.0,256.3 L834.0,256.5 L836.0,256.6 L838.0,256.8 L840.0,256.9 L842.0,257.0 L844.0,257.1 L846.0,257.2 L848.0,257.3 L850.0,257.4 L852.0,257.5 L854.0,257.6 L856.0,257.6 L858.0,257.7 L860.0,257.7 L862.0,257.8 L864.0,257.8 L866.0,257.8 L868.0,257.9 L870.0,257.9 L872.0,258.0 L874.0,258.0 L876.0,258.0 L878.0,258.0 L880.0,258.1 L882.0,258.1 L884.0,258.1 L886.0,258.2 L888.0,258.2 L890.0,258.3 L892.0,258.3 L894.0,258.4 L896.0,258.4 L898.0,258.5 L900.0,258.5 L902.0,258.6 L904.0,258.7 L906.0,258.7 L908.0,258.8 L910.0,258.9 L912.0,259.0 L914.0,259.0 L916.0,259.1 L918.0,259.2 L920.0,259.3 L922.0,259.4 L924.0,259.5 L926.0,259.6 L928.0,259.8 L930.0,259.9 L932.0,260.0 L934.0,260.1 L936.0,260.2 L938.0,260.4 L940.0,260.5 L942.0,260.6 L944.0,260.7 L946.0,260.9 L948.0,261.0 L950.0,261.1" fill="none" stroke="url(#navygrad)" stroke-width="0.9" opacity="0.65"/>
<path d="M-20.0,152.7 L-18.0,152.7 L-16.0,152.8 L-14.0,152.8 L-12.0,152.8 L-10.0,152.9 L-8.0,152.9 L-6.0,152.9 L-4.0,152.9 L-2.0,153.0 L0.0,153.0 L2.0,153.0 L4.0,153.1 L6.0,153.1 L8.0,153.1 L10.0,153.2 L12.0,153.2 L14.0,153.3 L16.0,153.3 L18.0,153.3 L20.0,153.4 L22.0,153.4 L24.0,153.5 L26.0,153.5 L28.0,153.6 L30.0,153.6 L32.0,153.7 L34.0,153.7 L36.0,153.8 L38.0,153.8 L40.0,153.9 L42.0,153.9 L44.0,154.0 L46.0,154.0 L48.0,154.1 L50.0,154.2 L52.0,154.2 L54.0,154.3 L56.0,154.4 L58.0,154.4 L60.0,154.5 L62.0,154.5 L64.0,154.6 L66.0,154.7 L68.0,154.8 L70.0,154.8 L72.0,154.9 L74.0,155.0 L76.0,155.0 L78.0,155.1 L80.0,155.2 L82.0,155.3 L84.0,155.3 L86.0,155.4 L88.0,155.5 L90.0,155.6 L92.0,155.6 L94.0,155.7 L96.0,155.8 L98.0,155.9 L100.0,156.0 L102.0,156.0 L104.0,156.1 L106.0,156.2 L108.0,156.3 L110.0,156.4 L112.0,156.5 L114.0,156.5 L116.0,156.6 L118.0,156.7 L120.0,156.8 L122.0,156.9 L124.0,157.0 L126.0,157.1 L128.0,157.2 L130.0,157.2 L132.0,157.3 L134.0,157.4 L136.0,157.5 L138.0,157.6 L140.0,157.7 L142.0,157.8 L144.0,157.9 L146.0,158.0 L148.0,158.1 L150.0,158.2 L152.0,158.3 L154.0,158.3 L156.0,158.4 L158.0,158.5 L160.0,158.6 L162.0,158.7 L164.0,158.8 L166.0,158.9 L168.0,159.0 L170.0,159.1 L172.0,159.2 L174.0,159.3 L176.0,159.4 L178.0,159.5 L180.0,159.6 L182.0,159.7 L184.0,159.8 L186.0,159.9 L188.0,160.0 L190.0,160.1 L192.0,160.2 L194.0,160.3 L196.0,160.4 L198.0,160.5 L200.0,160.6 L202.0,160.7 L204.0,160.8 L206.0,160.9 L208.0,161.0 L210.0,161.1 L212.0,161.1 L214.0,161.2 L216.0,161.3 L218.0,161.4 L220.0,161.5 L222.0,161.6 L224.0,161.7 L226.0,161.8 L228.0,161.9 L230.0,162.0 L232.0,162.1 L234.0,162.2 L236.0,162.3 L238.0,162.4 L240.0,162.5 L242.0,162.6 L244.0,162.7 L246.0,162.8 L248.0,162.9 L250.0,163.0 L252.0,163.1 L254.0,163.2 L256.0,163.3 L258.0,163.4 L260.0,163.5 L262.0,163.6 L264.0,163.7 L266.0,163.8 L268.0,163.9 L270.0,164.0 L272.0,164.1 L274.0,164.3 L276.0,164.4 L278.0,164.5 L280.0,164.6 L282.0,164.7 L284.0,164.8 L286.0,164.9 L288.0,165.0 L290.0,165.1 L292.0,165.2 L294.0,165.3 L296.0,165.4 L298.0,165.5 L300.0,165.6 L302.0,165.7 L304.0,165.8 L306.0,165.9 L308.0,166.0 L310.0,166.1 L312.0,166.2 L314.0,166.3 L316.0,166.4 L318.0,166.5 L320.0,166.6 L322.0,166.7 L324.0,166.8 L326.0,166.9 L328.0,167.0 L330.0,167.1 L332.0,167.2 L334.0,167.3 L336.0,167.4 L338.0,167.5 L340.0,167.6 L342.0,167.7 L344.0,167.8 L346.0,167.9 L348.0,168.1 L350.0,168.2 L352.0,168.3 L354.0,168.4 L356.0,168.5 L358.0,168.6 L360.0,168.7 L362.0,168.8 L364.0,168.9 L366.0,169.0 L368.0,169.1 L370.0,169.2 L372.0,169.3 L374.0,169.4 L376.0,169.6 L378.0,169.7 L380.0,169.8 L382.0,169.9 L384.0,170.0 L386.0,170.1 L388.0,170.2 L390.0,170.3 L392.0,170.5 L394.0,170.6 L396.0,170.7 L398.0,170.8 L400.0,170.9 L402.0,171.0 L404.0,171.2 L406.0,171.3 L408.0,171.4 L410.0,171.5 L412.0,171.6 L414.0,171.8 L416.0,171.9 L418.0,172.0 L420.0,172.1 L422.0,172.3 L424.0,172.4 L426.0,172.5 L428.0,172.7 L430.0,172.8 L432.0,172.9 L434.0,173.1 L436.0,173.2 L438.0,173.3 L440.0,173.5 L442.0,173.6 L444.0,173.8 L446.0,173.9 L448.0,174.0 L450.0,174.2 L452.0,174.3 L454.0,174.5 L456.0,174.6 L458.0,174.8 L460.0,175.0 L462.0,175.1 L464.0,175.3 L466.0,175.4 L468.0,175.6 L470.0,175.8 L472.0,175.9 L474.0,176.1 L476.0,176.3 L478.0,176.4 L480.0,176.6 L482.0,176.8 L484.0,177.0 L486.0,177.1 L488.0,177.3 L490.0,177.5 L492.0,177.7 L494.0,177.9 L496.0,178.1 L498.0,178.3 L500.0,178.4 L502.0,178.6 L504.0,178.8 L506.0,179.0 L508.0,179.2 L510.0,179.4 L512.0,179.6 L514.0,179.8 L516.0,180.0 L518.0,180.2 L520.0,180.4 L522.0,180.6 L524.0,180.8 L526.0,181.0 L528.0,181.2 L530.0,181.4 L532.0,181.6 L534.0,181.8 L536.0,182.0 L538.0,182.2 L540.0,182.5 L542.0,182.7 L544.0,182.9 L546.0,183.1 L548.0,183.3 L550.0,183.5 L552.0,183.7 L554.0,183.9 L556.0,184.1 L558.0,184.4 L560.0,184.6 L562.0,184.8 L564.0,185.0 L566.0,185.2 L568.0,185.5 L570.0,185.7 L572.0,185.9 L574.0,186.1 L576.0,186.4 L578.0,186.6 L580.0,186.8 L582.0,187.1 L584.0,187.3 L586.0,187.5 L588.0,187.8 L590.0,188.0 L592.0,188.3 L594.0,188.5 L596.0,188.8 L598.0,189.1 L600.0,189.3 L602.0,189.6 L604.0,189.9 L606.0,190.2 L608.0,190.5 L610.0,190.8 L612.0,191.1 L614.0,191.4 L616.0,191.7 L618.0,192.1 L620.0,192.4 L622.0,192.7 L624.0,193.1 L626.0,193.5 L628.0,193.8 L630.0,194.2 L632.0,194.6 L634.0,195.0 L636.0,195.4 L638.0,195.9 L640.0,196.3 L642.0,196.8 L644.0,197.2 L646.0,197.7 L648.0,198.2 L650.0,198.7 L652.0,199.2 L654.0,199.7 L656.0,200.3 L658.0,200.8 L660.0,201.4 L662.0,202.0 L664.0,202.6 L666.0,203.2 L668.0,203.8 L670.0,204.4 L672.0,205.1 L674.0,205.7 L676.0,206.4 L678.0,207.1 L680.0,207.8 L682.0,208.5 L684.0,209.3 L686.0,210.0 L688.0,210.8 L690.0,211.5 L692.0,212.3 L694.0,213.1 L696.0,213.9 L698.0,214.7 L700.0,215.5 L702.0,216.4 L704.0,217.2 L706.0,218.0 L708.0,218.9 L710.0,219.8 L712.0,220.6 L714.0,221.5 L716.0,222.4 L718.0,223.2 L720.0,224.1 L722.0,225.0 L724.0,225.9 L726.0,226.8 L728.0,227.7 L730.0,228.6 L732.0,229.4 L734.0,230.3 L736.0,231.2 L738.0,232.1 L740.0,232.9 L742.0,233.8 L744.0,234.7 L746.0,235.5 L748.0,236.4 L750.0,237.2 L752.0,238.0 L754.0,238.8 L756.0,239.6 L758.0,240.4 L760.0,241.2 L762.0,242.0 L764.0,242.7 L766.0,243.5 L768.0,244.2 L770.0,244.9 L772.0,245.6 L774.0,246.3 L776.0,246.9 L778.0,247.6 L780.0,248.2 L782.0,248.8 L784.0,249.4 L786.0,250.0 L788.0,250.6 L790.0,251.1 L792.0,251.6 L794.0,252.1 L796.0,252.6 L798.0,253.1 L800.0,253.5 L802.0,254.0 L804.0,254.4 L806.0,254.8 L808.0,255.2 L810.0,255.5 L812.0,255.9 L814.0,256.2 L816.0,256.5 L818.0,256.8 L820.0,257.1 L822.0,257.4 L824.0,257.6 L826.0,257.9 L828.0,258.1 L830.0,258.3 L832.0,258.5 L834.0,258.7 L836.0,258.8 L838.0,259.0 L840.0,259.1 L842.0,259.3 L844.0,259.4 L846.0,259.5 L848.0,259.6 L850.0,259.7 L852.0,259.8 L854.0,259.9 L856.0,260.0 L858.0,260.1 L860.0,260.2 L862.0,260.2 L864.0,260.3 L866.0,260.3 L868.0,260.4 L870.0,260.4 L872.0,260.5 L874.0,260.5 L876.0,260.6 L878.0,260.6 L880.0,260.7 L882.0,260.7 L884.0,260.8 L886.0,260.8 L888.0,260.9 L890.0,260.9 L892.0,261.0 L894.0,261.0 L896.0,261.0 L898.0,261.1 L900.0,261.2 L902.0,261.2 L904.0,261.3 L906.0,261.3 L908.0,261.4 L910.0,261.5 L912.0,261.5 L914.0,261.6 L916.0,261.7 L918.0,261.7 L920.0,261.8 L922.0,261.9 L924.0,262.0 L926.0,262.1 L928.0,262.1 L930.0,262.2 L932.0,262.3 L934.0,262.4 L936.0,262.5 L938.0,262.6 L940.0,262.7 L942.0,262.8 L944.0,262.9 L946.0,263.0 L948.0,263.1 L950.0,263.2" fill="none" stroke="url(#navygrad)" stroke-width="0.9" opacity="0.65"/>
<path d="M-20.0,163.9 L-18.0,163.9 L-16.0,163.9 L-14.0,163.9 L-12.0,163.9 L-10.0,164.0 L-8.0,164.0 L-6.0,164.0 L-4.0,164.0 L-2.0,164.1 L0.0,164.1 L2.0,164.1 L4.0,164.2 L6.0,164.2 L8.0,164.2 L10.0,164.2 L12.0,164.3 L14.0,164.3 L16.0,164.4 L18.0,164.4 L20.0,164.4 L22.0,164.5 L24.0,164.5 L26.0,164.5 L28.0,164.6 L30.0,164.6 L32.0,164.7 L34.0,164.7 L36.0,164.8 L38.0,164.8 L40.0,164.9 L42.0,164.9 L44.0,165.0 L46.0,165.0 L48.0,165.1 L50.0,165.1 L52.0,165.2 L54.0,165.2 L56.0,165.3 L58.0,165.4 L60.0,165.4 L62.0,165.5 L64.0,165.5 L66.0,165.6 L68.0,165.7 L70.0,165.7 L72.0,165.8 L74.0,165.9 L76.0,165.9 L78.0,166.0 L80.0,166.1 L82.0,166.1 L84.0,166.2 L86.0,166.3 L88.0,166.3 L90.0,166.4 L92.0,166.5 L94.0,166.6 L96.0,166.6 L98.0,166.7 L100.0,166.8 L102.0,166.9 L104.0,166.9 L106.0,167.0 L108.0,167.1 L110.0,167.2 L112.0,167.3 L114.0,167.3 L116.0,167.4 L118.0,167.5 L120.0,167.6 L122.0,167.7 L124.0,167.7 L126.0,167.8 L128.0,167.9 L130.0,168.0 L132.0,168.1 L134.0,168.2 L136.0,168.3 L138.0,168.3 L140.0,168.4 L142.0,168.5 L144.0,168.6 L146.0,168.7 L148.0,168.8 L150.0,168.9 L152.0,169.0 L154.0,169.1 L156.0,169.1 L158.0,169.2 L160.0,169.3 L162.0,169.4 L164.0,169.5 L166.0,169.6 L168.0,169.7 L170.0,169.8 L172.0,169.9 L174.0,170.0 L176.0,170.1 L178.0,170.2 L180.0,170.3 L182.0,170.3 L184.0,170.4 L186.0,170.5 L188.0,170.6 L190.0,170.7 L192.0,170.8 L194.0,170.9 L196.0,171.0 L198.0,171.1 L200.0,171.2 L202.0,171.3 L204.0,171.4 L206.0,171.5 L208.0,171.6 L210.0,171.7 L212.0,171.8 L214.0,171.9 L216.0,172.0 L218.0,172.1 L220.0,172.2 L222.0,172.3 L224.0,172.4 L226.0,172.5 L228.0,172.6 L230.0,172.7 L232.0,172.8 L234.0,172.9 L236.0,173.0 L238.0,173.1 L240.0,173.2 L242.0,173.2 L244.0,173.3 L246.0,173.4 L248.0,173.5 L250.0,173.6 L252.0,173.7 L254.0,173.8 L256.0,173.9 L258.0,174.0 L260.0,174.1 L262.0,174.2 L264.0,174.3 L266.0,174.4 L268.0,174.5 L270.0,174.6 L272.0,174.7 L274.0,174.8 L276.0,174.9 L278.0,175.0 L280.0,175.1 L282.0,175.2 L284.0,175.3 L286.0,175.4 L288.0,175.5 L290.0,175.6 L292.0,175.7 L294.0,175.8 L296.0,175.9 L298.0,176.0 L300.0,176.1 L302.0,176.2 L304.0,176.3 L306.0,176.4 L308.0,176.6 L310.0,176.7 L312.0,176.8 L314.0,176.9 L316.0,177.0 L318.0,177.1 L320.0,177.2 L322.0,177.3 L324.0,177.4 L326.0,177.5 L328.0,177.6 L330.0,177.7 L332.0,177.8 L334.0,177.9 L336.0,178.0 L338.0,178.1 L340.0,178.2 L342.0,178.3 L344.0,178.4 L346.0,178.5 L348.0,178.6 L350.0,178.7 L352.0,178.8 L354.0,178.9 L356.0,179.0 L358.0,179.2 L360.0,179.3 L362.0,179.4 L364.0,179.5 L366.0,179.6 L368.0,179.7 L370.0,179.8 L372.0,179.9 L374.0,180.0 L376.0,180.1 L378.0,180.2 L380.0,180.4 L382.0,180.5 L384.0,180.6 L386.0,180.7 L388.0,180.8 L390.0,180.9 L392.0,181.0 L394.0,181.2 L396.0,181.3 L398.0,181.4 L400.0,181.5 L402.0,181.6 L404.0,181.7 L406.0,181.9 L408.0,182.0 L410.0,182.1 L412.0,182.2 L414.0,182.4 L416.0,182.5 L418.0,182.6 L420.0,182.7 L422.0,182.9 L424.0,183.0 L426.0,183.1 L428.0,183.3 L430.0,183.4 L432.0,183.5 L434.0,183.7 L436.0,183.8 L438.0,183.9 L440.0,184.1 L442.0,184.2 L444.0,184.4 L446.0,184.5 L448.0,184.6 L450.0,184.8 L452.0,184.9 L454.0,185.1 L456.0,185.2 L458.0,185.4 L460.0,185.5 L462.0,185.7 L464.0,185.8 L466.0,186.0 L468.0,186.2 L470.0,186.3 L472.0,186.5 L474.0,186.6 L476.0,186.8 L478.0,187.0 L480.0,187.1 L482.0,187.3 L484.0,187.5 L486.0,187.6 L488.0,187.8 L490.0,188.0 L492.0,188.2 L494.0,188.3 L496.0,188.5 L498.0,188.7 L500.0,188.9 L502.0,189.0 L504.0,189.2 L506.0,189.4 L508.0,189.6 L510.0,189.8 L512.0,190.0 L514.0,190.1 L516.0,190.3 L518.0,190.5 L520.0,190.7 L522.0,190.9 L524.0,191.1 L526.0,191.3 L528.0,191.5 L530.0,191.7 L532.0,191.9 L534.0,192.1 L536.0,192.3 L538.0,192.5 L540.0,192.7 L542.0,192.9 L544.0,193.1 L546.0,193.3 L548.0,193.5 L550.0,193.7 L552.0,193.9 L554.0,194.1 L556.0,194.3 L558.0,194.5 L560.0,194.7 L562.0,194.9 L564.0,195.2 L566.0,195.4 L568.0,195.6 L570.0,195.8 L572.0,196.0 L574.0,196.3 L576.0,196.5 L578.0,196.7 L580.0,197.0 L582.0,197.2 L584.0,197.4 L586.0,197.7 L588.0,197.9 L590.0,198.2 L592.0,198.4 L594.0,198.7 L596.0,198.9 L598.0,199.2 L600.0,199.5 L602.0,199.8 L604.0,200.0 L606.0,200.3 L608.0,200.6 L610.0,200.9 L612.0,201.2 L614.0,201.6 L616.0,201.9 L618.0,202.2 L620.0,202.5 L622.0,202.9 L624.0,203.2 L626.0,203.6 L628.0,204.0 L630.0,204.3 L632.0,204.7 L634.0,205.1 L636.0,205.5 L638.0,205.9 L640.0,206.3 L642.0,206.8 L644.0,207.2 L646.0,207.7 L648.0,208.1 L650.0,208.6 L652.0,209.1 L654.0,209.6 L656.0,210.1 L658.0,210.6 L660.0,211.1 L662.0,211.6 L664.0,212.2 L666.0,212.7 L668.0,213.3 L670.0,213.9 L672.0,214.5 L674.0,215.1 L676.0,215.7 L678.0,216.3 L680.0,216.9 L682.0,217.6 L684.0,218.2 L686.0,218.9 L688.0,219.5 L690.0,220.2 L692.0,220.9 L694.0,221.6 L696.0,222.3 L698.0,223.0 L700.0,223.7 L702.0,224.4 L704.0,225.1 L706.0,225.9 L708.0,226.6 L710.0,227.3 L712.0,228.1 L714.0,228.8 L716.0,229.6 L718.0,230.3 L720.0,231.1 L722.0,231.8 L724.0,232.6 L726.0,233.3 L728.0,234.1 L730.0,234.9 L732.0,235.6 L734.0,236.4 L736.0,237.1 L738.0,237.8 L740.0,238.6 L742.0,239.3 L744.0,240.0 L746.0,240.8 L748.0,241.5 L750.0,242.2 L752.0,242.9 L754.0,243.6 L756.0,244.2 L758.0,244.9 L760.0,245.6 L762.0,246.2 L764.0,246.9 L766.0,247.5 L768.0,248.1 L770.0,248.7 L772.0,249.3 L774.0,249.9 L776.0,250.5 L778.0,251.0 L780.0,251.6 L782.0,252.1 L784.0,252.6 L786.0,253.1 L788.0,253.6 L790.0,254.1 L792.0,254.5 L794.0,255.0 L796.0,255.4 L798.0,255.8 L800.0,256.2 L802.0,256.6 L804.0,257.0 L806.0,257.4 L808.0,257.7 L810.0,258.0 L812.0,258.3 L814.0,258.7 L816.0,258.9 L818.0,259.2 L820.0,259.5 L822.0,259.7 L824.0,260.0 L826.0,260.2 L828.0,260.4 L830.0,260.6 L832.0,260.8 L834.0,261.0 L836.0,261.2 L838.0,261.3 L840.0,261.5 L842.0,261.6 L844.0,261.8 L846.0,261.9 L848.0,262.0 L850.0,262.1 L852.0,262.2 L854.0,262.3 L856.0,262.4 L858.0,262.5 L860.0,262.6 L862.0,262.7 L864.0,262.7 L866.0,262.8 L868.0,262.9 L870.0,262.9 L872.0,263.0 L874.0,263.1 L876.0,263.1 L878.0,263.2 L880.0,263.2 L882.0,263.3 L884.0,263.3 L886.0,263.4 L888.0,263.4 L890.0,263.5 L892.0,263.5 L894.0,263.5 L896.0,263.6 L898.0,263.6 L900.0,263.7 L902.0,263.7 L904.0,263.8 L906.0,263.8 L908.0,263.9 L910.0,263.9 L912.0,264.0 L914.0,264.1 L916.0,264.1 L918.0,264.2 L920.0,264.2 L922.0,264.3 L924.0,264.4 L926.0,264.4 L928.0,264.5 L930.0,264.6 L932.0,264.6 L934.0,264.7 L936.0,264.8 L938.0,264.8 L940.0,264.9 L942.0,265.0 L944.0,265.1 L946.0,265.2 L948.0,265.2 L950.0,265.3" fill="none" stroke="url(#navygrad)" stroke-width="0.9" opacity="0.65"/>
<path d="M-20.0,175.0 L-18.0,175.0 L-16.0,175.0 L-14.0,175.0 L-12.0,175.0 L-10.0,175.1 L-8.0,175.1 L-6.0,175.1 L-4.0,175.1 L-2.0,175.2 L0.0,175.2 L2.0,175.2 L4.0,175.2 L6.0,175.3 L8.0,175.3 L10.0,175.3 L12.0,175.3 L14.0,175.4 L16.0,175.4 L18.0,175.4 L20.0,175.5 L22.0,175.5 L24.0,175.5 L26.0,175.6 L28.0,175.6 L30.0,175.7 L32.0,175.7 L34.0,175.7 L36.0,175.8 L38.0,175.8 L40.0,175.9 L42.0,175.9 L44.0,175.9 L46.0,176.0 L48.0,176.0 L50.0,176.1 L52.0,176.1 L54.0,176.2 L56.0,176.2 L58.0,176.3 L60.0,176.3 L62.0,176.4 L64.0,176.5 L66.0,176.5 L68.0,176.6 L70.0,176.6 L72.0,176.7 L74.0,176.8 L76.0,176.8 L78.0,176.9 L80.0,176.9 L82.0,177.0 L84.0,177.1 L86.0,177.1 L88.0,177.2 L90.0,177.3 L92.0,177.3 L94.0,177.4 L96.0,177.5 L98.0,177.5 L100.0,177.6 L102.0,177.7 L104.0,177.8 L106.0,177.8 L108.0,177.9 L110.0,178.0 L112.0,178.1 L114.0,178.1 L116.0,178.2 L118.0,178.3 L120.0,178.4 L122.0,178.4 L124.0,178.5 L126.0,178.6 L128.0,178.7 L130.0,178.8 L132.0,178.8 L134.0,178.9 L136.0,179.0 L138.0,179.1 L140.0,179.2 L142.0,179.3 L144.0,179.3 L146.0,179.4 L148.0,179.5 L150.0,179.6 L152.0,179.7 L154.0,179.8 L156.0,179.9 L158.0,179.9 L160.0,180.0 L162.0,180.1 L164.0,180.2 L166.0,180.3 L168.0,180.4 L170.0,180.5 L172.0,180.6 L174.0,180.7 L176.0,180.8 L178.0,180.8 L180.0,180.9 L182.0,181.0 L184.0,181.1 L186.0,181.2 L188.0,181.3 L190.0,181.4 L192.0,181.5 L194.0,181.6 L196.0,181.7 L198.0,181.8 L200.0,181.9 L202.0,182.0 L204.0,182.0 L206.0,182.1 L208.0,182.2 L210.0,182.3 L212.0,182.4 L214.0,182.5 L216.0,182.6 L218.0,182.7 L220.0,182.8 L222.0,182.9 L224.0,183.0 L226.0,183.1 L228.0,183.2 L230.0,183.3 L232.0,183.4 L234.0,183.5 L236.0,183.6 L238.0,183.7 L240.0,183.8 L242.0,183.9 L244.0,184.0 L246.0,184.1 L248.0,184.2 L250.0,184.3 L252.0,184.3 L254.0,184.4 L256.0,184.5 L258.0,184.6 L260.0,184.7 L262.0,184.8 L264.0,184.9 L266.0,185.0 L268.0,185.1 L270.0,185.2 L272.0,185.3 L274.0,185.4 L276.0,185.5 L278.0,185.6 L280.0,185.7 L282.0,185.8 L284.0,185.9 L286.0,186.0 L288.0,186.1 L290.0,186.2 L292.0,186.3 L294.0,186.4 L296.0,186.5 L298.0,186.6 L300.0,186.7 L302.0,186.8 L304.0,186.9 L306.0,187.0 L308.0,187.1 L310.0,187.2 L312.0,187.3 L314.0,187.4 L316.0,187.5 L318.0,187.6 L320.0,187.7 L322.0,187.8 L324.0,187.9 L326.0,188.0 L328.0,188.2 L330.0,188.3 L332.0,188.4 L334.0,188.5 L336.0,188.6 L338.0,188.7 L340.0,188.8 L342.0,188.9 L344.0,189.0 L346.0,189.1 L348.0,189.2 L350.0,189.3 L352.0,189.4 L354.0,189.5 L356.0,189.6 L358.0,189.7 L360.0,189.8 L362.0,189.9 L364.0,190.1 L366.0,190.2 L368.0,190.3 L370.0,190.4 L372.0,190.5 L374.0,190.6 L376.0,190.7 L378.0,190.8 L380.0,190.9 L382.0,191.1 L384.0,191.2 L386.0,191.3 L388.0,191.4 L390.0,191.5 L392.0,191.6 L394.0,191.7 L396.0,191.9 L398.0,192.0 L400.0,192.1 L402.0,192.2 L404.0,192.3 L406.0,192.5 L408.0,192.6 L410.0,192.7 L412.0,192.8 L414.0,192.9 L416.0,193.1 L418.0,193.2 L420.0,193.3 L422.0,193.5 L424.0,193.6 L426.0,193.7 L428.0,193.8 L430.0,194.0 L432.0,194.1 L434.0,194.2 L436.0,194.4 L438.0,194.5 L440.0,194.6 L442.0,194.8 L444.0,194.9 L446.0,195.1 L448.0,195.2 L450.0,195.3 L452.0,195.5 L454.0,195.6 L456.0,195.8 L458.0,195.9 L460.0,196.1 L462.0,196.2 L464.0,196.4 L466.0,196.5 L468.0,196.7 L470.0,196.8 L472.0,197.0 L474.0,197.1 L476.0,197.3 L478.0,197.5 L480.0,197.6 L482.0,197.8 L484.0,197.9 L486.0,198.1 L488.0,198.3 L490.0,198.4 L492.0,198.6 L494.0,198.8 L496.0,198.9 L498.0,199.1 L500.0,199.3 L502.0,199.4 L504.0,199.6 L506.0,199.8 L508.0,200.0 L510.0,200.1 L512.0,200.3 L514.0,200.5 L516.0,200.7 L518.0,200.9 L520.0,201.0 L522.0,201.2 L524.0,201.4 L526.0,201.6 L528.0,201.8 L530.0,202.0 L532.0,202.1 L534.0,202.3 L536.0,202.5 L538.0,202.7 L540.0,202.9 L542.0,203.1 L544.0,203.3 L546.0,203.5 L548.0,203.7 L550.0,203.9 L552.0,204.1 L554.0,204.3 L556.0,204.5 L558.0,204.7 L560.0,204.9 L562.0,205.1 L564.0,205.3 L566.0,205.5 L568.0,205.7 L570.0,206.0 L572.0,206.2 L574.0,206.4 L576.0,206.6 L578.0,206.9 L580.0,207.1 L582.0,207.3 L584.0,207.6 L586.0,207.8 L588.0,208.0 L590.0,208.3 L592.0,208.5 L594.0,208.8 L596.0,209.1 L598.0,209.3 L600.0,209.6 L602.0,209.9 L604.0,210.1 L606.0,210.4 L608.0,210.7 L610.0,211.0 L612.0,211.3 L614.0,211.6 L616.0,211.9 L618.0,212.3 L620.0,212.6 L622.0,212.9 L624.0,213.2 L626.0,213.6 L628.0,213.9 L630.0,214.3 L632.0,214.7 L634.0,215.0 L636.0,215.4 L638.0,215.8 L640.0,216.2 L642.0,216.6 L644.0,217.0 L646.0,217.4 L648.0,217.9 L650.0,218.3 L652.0,218.7 L654.0,219.2 L656.0,219.6 L658.0,220.1 L660.0,220.6 L662.0,221.1 L664.0,221.6 L666.0,222.1 L668.0,222.6 L670.0,223.1 L672.0,223.6 L674.0,224.1 L676.0,224.7 L678.0,225.2 L680.0,225.8 L682.0,226.3 L684.0,226.9 L686.0,227.5 L688.0,228.1 L690.0,228.6 L692.0,229.2 L694.0,229.8 L696.0,230.4 L698.0,231.0 L700.0,231.7 L702.0,232.3 L704.0,232.9 L706.0,233.5 L708.0,234.1 L710.0,234.8 L712.0,235.4 L714.0,236.0 L716.0,236.7 L718.0,237.3 L720.0,237.9 L722.0,238.6 L724.0,239.2 L726.0,239.9 L728.0,240.5 L730.0,241.1 L732.0,241.8 L734.0,242.4 L736.0,243.0 L738.0,243.6 L740.0,244.2 L742.0,244.9 L744.0,245.5 L746.0,246.1 L748.0,246.7 L750.0,247.3 L752.0,247.9 L754.0,248.4 L756.0,249.0 L758.0,249.6 L760.0,250.1 L762.0,250.7 L764.0,251.2 L766.0,251.7 L768.0,252.3 L770.0,252.8 L772.0,253.3 L774.0,253.8 L776.0,254.3 L778.0,254.7 L780.0,255.2 L782.0,255.6 L784.0,256.1 L786.0,256.5 L788.0,256.9 L790.0,257.3 L792.0,257.7 L794.0,258.1 L796.0,258.5 L798.0,258.9 L800.0,259.2 L802.0,259.5 L804.0,259.9 L806.0,260.2 L808.0,260.5 L810.0,260.8 L812.0,261.1 L814.0,261.3 L816.0,261.6 L818.0,261.8 L820.0,262.1 L822.0,262.3 L824.0,262.5 L826.0,262.7 L828.0,262.9 L830.0,263.1 L832.0,263.3 L834.0,263.5 L836.0,263.6 L838.0,263.8 L840.0,263.9 L842.0,264.1 L844.0,264.2 L846.0,264.3 L848.0,264.5 L850.0,264.6 L852.0,264.7 L854.0,264.8 L856.0,264.9 L858.0,265.0 L860.0,265.1 L862.0,265.1 L864.0,265.2 L866.0,265.3 L868.0,265.4 L870.0,265.4 L872.0,265.5 L874.0,265.5 L876.0,265.6 L878.0,265.7 L880.0,265.7 L882.0,265.8 L884.0,265.8 L886.0,265.9 L888.0,265.9 L890.0,265.9 L892.0,266.0 L894.0,266.0 L896.0,266.1 L898.0,266.1 L900.0,266.2 L902.0,266.2 L904.0,266.2 L906.0,266.3 L908.0,266.3 L910.0,266.4 L912.0,266.4 L914.0,266.5 L916.0,266.5 L918.0,266.6 L920.0,266.6 L922.0,266.7 L924.0,266.7 L926.0,266.8 L928.0,266.8 L930.0,266.9 L932.0,266.9 L934.0,267.0 L936.0,267.0 L938.0,267.1 L940.0,267.1 L942.0,267.2 L944.0,267.3 L946.0,267.3 L948.0,267.4 L950.0,267.4" fill="none" stroke="url(#navygrad)" stroke-width="0.9" opacity="0.65"/>
<path d="M-20.0,186.1 L-18.0,186.1 L-16.0,186.1 L-14.0,186.1 L-12.0,186.2 L-10.0,186.2 L-8.0,186.2 L-6.0,186.2 L-4.0,186.2 L-2.0,186.2 L0.0,186.3 L2.0,186.3 L4.0,186.3 L6.0,186.3 L8.0,186.3 L10.0,186.4 L12.0,186.4 L14.0,186.4 L16.0,186.5 L18.0,186.5 L20.0,186.5 L22.0,186.5 L24.0,186.6 L26.0,186.6 L28.0,186.6 L30.0,186.7 L32.0,186.7 L34.0,186.7 L36.0,186.8 L38.0,186.8 L40.0,186.9 L42.0,186.9 L44.0,186.9 L46.0,187.0 L48.0,187.0 L50.0,187.1 L52.0,187.1 L54.0,187.2 L56.0,187.2 L58.0,187.2 L60.0,187.3 L62.0,187.3 L64.0,187.4 L66.0,187.4 L68.0,187.5 L70.0,187.5 L72.0,187.6 L74.0,187.7 L76.0,187.7 L78.0,187.8 L80.0,187.8 L82.0,187.9 L84.0,187.9 L86.0,188.0 L88.0,188.1 L90.0,188.1 L92.0,188.2 L94.0,188.3 L96.0,188.3 L98.0,188.4 L100.0,188.5 L102.0,188.5 L104.0,188.6 L106.0,188.7 L108.0,188.7 L110.0,188.8 L112.0,188.9 L114.0,188.9 L116.0,189.0 L118.0,189.1 L120.0,189.2 L122.0,189.2 L124.0,189.3 L126.0,189.4 L128.0,189.5 L130.0,189.5 L132.0,189.6 L134.0,189.7 L136.0,189.8 L138.0,189.8 L140.0,189.9 L142.0,190.0 L144.0,190.1 L146.0,190.2 L148.0,190.3 L150.0,190.3 L152.0,190.4 L154.0,190.5 L156.0,190.6 L158.0,190.7 L160.0,190.8 L162.0,190.8 L164.0,190.9 L166.0,191.0 L168.0,191.1 L170.0,191.2 L172.0,191.3 L174.0,191.4 L176.0,191.4 L178.0,191.5 L180.0,191.6 L182.0,191.7 L184.0,191.8 L186.0,191.9 L188.0,192.0 L190.0,192.1 L192.0,192.2 L194.0,192.2 L196.0,192.3 L198.0,192.4 L200.0,192.5 L202.0,192.6 L204.0,192.7 L206.0,192.8 L208.0,192.9 L210.0,193.0 L212.0,193.1 L214.0,193.2 L216.0,193.3 L218.0,193.3 L220.0,193.4 L222.0,193.5 L224.0,193.6 L226.0,193.7 L228.0,193.8 L230.0,193.9 L232.0,194.0 L234.0,194.1 L236.0,194.2 L238.0,194.3 L240.0,194.4 L242.0,194.5 L244.0,194.6 L246.0,194.7 L248.0,194.8 L250.0,194.9 L252.0,195.0 L254.0,195.1 L256.0,195.1 L258.0,195.2 L260.0,195.3 L262.0,195.4 L264.0,195.5 L266.0,195.6 L268.0,195.7 L270.0,195.8 L272.0,195.9 L274.0,196.0 L276.0,196.1 L278.0,196.2 L280.0,196.3 L282.0,196.4 L284.0,196.5 L286.0,196.6 L288.0,196.7 L290.0,196.8 L292.0,196.9 L294.0,197.0 L296.0,197.1 L298.0,197.2 L300.0,197.3 L302.0,197.4 L304.0,197.5 L306.0,197.6 L308.0,197.7 L310.0,197.8 L312.0,197.9 L314.0,198.0 L316.0,198.1 L318.0,198.2 L320.0,198.3 L322.0,198.4 L324.0,198.5 L326.0,198.6 L328.0,198.7 L330.0,198.8 L332.0,198.9 L334.0,199.0 L336.0,199.1 L338.0,199.2 L340.0,199.4 L342.0,199.5 L344.0,199.6 L346.0,199.7 L348.0,199.8 L350.0,199.9 L352.0,200.0 L354.0,200.1 L356.0,200.2 L358.0,200.3 L360.0,200.4 L362.0,200.5 L364.0,200.6 L366.0,200.7 L368.0,200.9 L370.0,201.0 L372.0,201.1 L374.0,201.2 L376.0,201.3 L378.0,201.4 L380.0,201.5 L382.0,201.6 L384.0,201.7 L386.0,201.9 L388.0,202.0 L390.0,202.1 L392.0,202.2 L394.0,202.3 L396.0,202.4 L398.0,202.6 L400.0,202.7 L402.0,202.8 L404.0,202.9 L406.0,203.0 L408.0,203.2 L410.0,203.3 L412.0,203.4 L414.0,203.5 L416.0,203.7 L418.0,203.8 L420.0,203.9 L422.0,204.0 L424.0,204.2 L426.0,204.3 L428.0,204.4 L430.0,204.5 L432.0,204.7 L434.0,204.8 L436.0,204.9 L438.0,205.1 L440.0,205.2 L442.0,205.3 L444.0,205.5 L446.0,205.6 L448.0,205.8 L450.0,205.9 L452.0,206.0 L454.0,206.2 L456.0,206.3 L458.0,206.5 L460.0,206.6 L462.0,206.7 L464.0,206.9 L466.0,207.0 L468.0,207.2 L470.0,207.3 L472.0,207.5 L474.0,207.6 L476.0,207.8 L478.0,207.9 L480.0,208.1 L482.0,208.2 L484.0,208.4 L486.0,208.6 L488.0,208.7 L490.0,208.9 L492.0,209.0 L494.0,209.2 L496.0,209.3 L498.0,209.5 L500.0,209.7 L502.0,209.8 L504.0,210.0 L506.0,210.2 L508.0,210.3 L510.0,210.5 L512.0,210.7 L514.0,210.8 L516.0,211.0 L518.0,211.2 L520.0,211.4 L522.0,211.5 L524.0,211.7 L526.0,211.9 L528.0,212.1 L530.0,212.2 L532.0,212.4 L534.0,212.6 L536.0,212.8 L538.0,213.0 L540.0,213.1 L542.0,213.3 L544.0,213.5 L546.0,213.7 L548.0,213.9 L550.0,214.1 L552.0,214.3 L554.0,214.5 L556.0,214.7 L558.0,214.9 L560.0,215.1 L562.0,215.3 L564.0,215.5 L566.0,215.7 L568.0,215.9 L570.0,216.1 L572.0,216.3 L574.0,216.5 L576.0,216.8 L578.0,217.0 L580.0,217.2 L582.0,217.4 L584.0,217.7 L586.0,217.9 L588.0,218.1 L590.0,218.4 L592.0,218.6 L594.0,218.9 L596.0,219.1 L598.0,219.4 L600.0,219.6 L602.0,219.9 L604.0,220.2 L606.0,220.4 L608.0,220.7 L610.0,221.0 L612.0,221.3 L614.0,221.6 L616.0,221.9 L618.0,222.2 L620.0,222.5 L622.0,222.8 L624.0,223.1 L626.0,223.4 L628.0,223.8 L630.0,224.1 L632.0,224.4 L634.0,224.8 L636.0,225.1 L638.0,225.5 L640.0,225.9 L642.0,226.2 L644.0,226.6 L646.0,227.0 L648.0,227.4 L650.0,227.8 L652.0,228.2 L654.0,228.6 L656.0,229.0 L658.0,229.4 L660.0,229.8 L662.0,230.3 L664.0,230.7 L666.0,231.1 L668.0,231.6 L670.0,232.0 L672.0,232.5 L674.0,233.0 L676.0,233.4 L678.0,233.9 L680.0,234.4 L682.0,234.9 L684.0,235.4 L686.0,235.9 L688.0,236.4 L690.0,236.9 L692.0,237.4 L694.0,237.9 L696.0,238.4 L698.0,238.9 L700.0,239.4 L702.0,239.9 L704.0,240.5 L706.0,241.0 L708.0,241.5 L710.0,242.1 L712.0,242.6 L714.0,243.1 L716.0,243.6 L718.0,244.2 L720.0,244.7 L722.0,245.2 L724.0,245.8 L726.0,246.3 L728.0,246.8 L730.0,247.4 L732.0,247.9 L734.0,248.4 L736.0,248.9 L738.0,249.4 L740.0,250.0 L742.0,250.5 L744.0,251.0 L746.0,251.5 L748.0,252.0 L750.0,252.5 L752.0,252.9 L754.0,253.4 L756.0,253.9 L758.0,254.4 L760.0,254.8 L762.0,255.3 L764.0,255.7 L766.0,256.2 L768.0,256.6 L770.0,257.0 L772.0,257.4 L774.0,257.8 L776.0,258.3 L778.0,258.6 L780.0,259.0 L782.0,259.4 L784.0,259.8 L786.0,260.1 L788.0,260.5 L790.0,260.8 L792.0,261.2 L794.0,261.5 L796.0,261.8 L798.0,262.1 L800.0,262.4 L802.0,262.7 L804.0,263.0 L806.0,263.2 L808.0,263.5 L810.0,263.7 L812.0,264.0 L814.0,264.2 L816.0,264.5 L818.0,264.7 L820.0,264.9 L822.0,265.1 L824.0,265.3 L826.0,265.5 L828.0,265.6 L830.0,265.8 L832.0,266.0 L834.0,266.1 L836.0,266.3 L838.0,266.4 L840.0,266.5 L842.0,266.7 L844.0,266.8 L846.0,266.9 L848.0,267.0 L850.0,267.1 L852.0,267.2 L854.0,267.3 L856.0,267.4 L858.0,267.5 L860.0,267.6 L862.0,267.7 L864.0,267.7 L866.0,267.8 L868.0,267.9 L870.0,267.9 L872.0,268.0 L874.0,268.0 L876.0,268.1 L878.0,268.1 L880.0,268.2 L882.0,268.2 L884.0,268.3 L886.0,268.3 L888.0,268.4 L890.0,268.4 L892.0,268.5 L894.0,268.5 L896.0,268.5 L898.0,268.6 L900.0,268.6 L902.0,268.6 L904.0,268.7 L906.0,268.7 L908.0,268.7 L910.0,268.8 L912.0,268.8 L914.0,268.9 L916.0,268.9 L918.0,268.9 L920.0,269.0 L922.0,269.0 L924.0,269.0 L926.0,269.1 L928.0,269.1 L930.0,269.1 L932.0,269.2 L934.0,269.2 L936.0,269.3 L938.0,269.3 L940.0,269.3 L942.0,269.4 L944.0,269.4 L946.0,269.5 L948.0,269.5 L950.0,269.6" fill="none" stroke="url(#navygrad)" stroke-width="0.9" opacity="0.65"/>
<path d="M-20.0,197.2 L-18.0,197.2 L-16.0,197.2 L-14.0,197.2 L-12.0,197.2 L-10.0,197.3 L-8.0,197.3 L-6.0,197.3 L-4.0,197.3 L-2.0,197.3 L0.0,197.3 L2.0,197.4 L4.0,197.4 L6.0,197.4 L8.0,197.4 L10.0,197.4 L12.0,197.5 L14.0,197.5 L16.0,197.5 L18.0,197.5 L20.0,197.6 L22.0,197.6 L24.0,197.6 L26.0,197.6 L28.0,197.7 L30.0,197.7 L32.0,197.7 L34.0,197.8 L36.0,197.8 L38.0,197.8 L40.0,197.8 L42.0,197.9 L44.0,197.9 L46.0,198.0 L48.0,198.0 L50.0,198.0 L52.0,198.1 L54.0,198.1 L56.0,198.2 L58.0,198.2 L60.0,198.2 L62.0,198.3 L64.0,198.3 L66.0,198.4 L68.0,198.4 L70.0,198.5 L72.0,198.5 L74.0,198.6 L76.0,198.6 L78.0,198.7 L80.0,198.7 L82.0,198.8 L84.0,198.8 L86.0,198.9 L88.0,198.9 L90.0,199.0 L92.0,199.1 L94.0,199.1 L96.0,199.2 L98.0,199.2 L100.0,199.3 L102.0,199.4 L104.0,199.4 L106.0,199.5 L108.0,199.6 L110.0,199.6 L112.0,199.7 L114.0,199.8 L116.0,199.8 L118.0,199.9 L120.0,200.0 L122.0,200.0 L124.0,200.1 L126.0,200.2 L128.0,200.2 L130.0,200.3 L132.0,200.4 L134.0,200.5 L136.0,200.5 L138.0,200.6 L140.0,200.7 L142.0,200.8 L144.0,200.8 L146.0,200.9 L148.0,201.0 L150.0,201.1 L152.0,201.2 L154.0,201.2 L156.0,201.3 L158.0,201.4 L160.0,201.5 L162.0,201.6 L164.0,201.6 L166.0,201.7 L168.0,201.8 L170.0,201.9 L172.0,202.0 L174.0,202.1 L176.0,202.1 L178.0,202.2 L180.0,202.3 L182.0,202.4 L184.0,202.5 L186.0,202.6 L188.0,202.7 L190.0,202.7 L192.0,202.8 L194.0,202.9 L196.0,203.0 L198.0,203.1 L200.0,203.2 L202.0,203.3 L204.0,203.4 L206.0,203.4 L208.0,203.5 L210.0,203.6 L212.0,203.7 L214.0,203.8 L216.0,203.9 L218.0,204.0 L220.0,204.1 L222.0,204.2 L224.0,204.3 L226.0,204.4 L228.0,204.4 L230.0,204.5 L232.0,204.6 L234.0,204.7 L236.0,204.8 L238.0,204.9 L240.0,205.0 L242.0,205.1 L244.0,205.2 L246.0,205.3 L248.0,205.4 L250.0,205.5 L252.0,205.6 L254.0,205.7 L256.0,205.8 L258.0,205.9 L260.0,206.0 L262.0,206.0 L264.0,206.1 L266.0,206.2 L268.0,206.3 L270.0,206.4 L272.0,206.5 L274.0,206.6 L276.0,206.7 L278.0,206.8 L280.0,206.9 L282.0,207.0 L284.0,207.1 L286.0,207.2 L288.0,207.3 L290.0,207.4 L292.0,207.5 L294.0,207.6 L296.0,207.7 L298.0,207.8 L300.0,207.9 L302.0,208.0 L304.0,208.1 L306.0,208.2 L308.0,208.3 L310.0,208.4 L312.0,208.5 L314.0,208.6 L316.0,208.7 L318.0,208.8 L320.0,208.9 L322.0,209.0 L324.0,209.1 L326.0,209.2 L328.0,209.3 L330.0,209.4 L332.0,209.5 L334.0,209.6 L336.0,209.7 L338.0,209.8 L340.0,209.9 L342.0,210.0 L344.0,210.1 L346.0,210.2 L348.0,210.4 L350.0,210.5 L352.0,210.6 L354.0,210.7 L356.0,210.8 L358.0,210.9 L360.0,211.0 L362.0,211.1 L364.0,211.2 L366.0,211.3 L368.0,211.4 L370.0,211.5 L372.0,211.7 L374.0,211.8 L376.0,211.9 L378.0,212.0 L380.0,212.1 L382.0,212.2 L384.0,212.3 L386.0,212.4 L388.0,212.6 L390.0,212.7 L392.0,212.8 L394.0,212.9 L396.0,213.0 L398.0,213.1 L400.0,213.3 L402.0,213.4 L404.0,213.5 L406.0,213.6 L408.0,213.7 L410.0,213.9 L412.0,214.0 L414.0,214.1 L416.0,214.2 L418.0,214.3 L420.0,214.5 L422.0,214.6 L424.0,214.7 L426.0,214.8 L428.0,215.0 L430.0,215.1 L432.0,215.2 L434.0,215.4 L436.0,215.5 L438.0,215.6 L440.0,215.7 L442.0,215.9 L444.0,216.0 L446.0,216.1 L448.0,216.3 L450.0,216.4 L452.0,216.6 L454.0,216.7 L456.0,216.8 L458.0,217.0 L460.0,217.1 L462.0,217.2 L464.0,217.4 L466.0,217.5 L468.0,217.7 L470.0,217.8 L472.0,218.0 L474.0,218.1 L476.0,218.2 L478.0,218.4 L480.0,218.5 L482.0,218.7 L484.0,218.8 L486.0,219.0 L488.0,219.1 L490.0,219.3 L492.0,219.4 L494.0,219.6 L496.0,219.7 L498.0,219.9 L500.0,220.1 L502.0,220.2 L504.0,220.4 L506.0,220.5 L508.0,220.7 L510.0,220.8 L512.0,221.0 L514.0,221.2 L516.0,221.3 L518.0,221.5 L520.0,221.7 L522.0,221.8 L524.0,222.0 L526.0,222.2 L528.0,222.3 L530.0,222.5 L532.0,222.7 L534.0,222.9 L536.0,223.0 L538.0,223.2 L540.0,223.4 L542.0,223.6 L544.0,223.7 L546.0,223.9 L548.0,224.1 L550.0,224.3 L552.0,224.5 L554.0,224.7 L556.0,224.8 L558.0,225.0 L560.0,225.2 L562.0,225.4 L564.0,225.6 L566.0,225.8 L568.0,226.0 L570.0,226.2 L572.0,226.4 L574.0,226.6 L576.0,226.9 L578.0,227.1 L580.0,227.3 L582.0,227.5 L584.0,227.7 L586.0,227.9 L588.0,228.2 L590.0,228.4 L592.0,228.6 L594.0,228.9 L596.0,229.1 L598.0,229.4 L600.0,229.6 L602.0,229.9 L604.0,230.1 L606.0,230.4 L608.0,230.6 L610.0,230.9 L612.0,231.2 L614.0,231.4 L616.0,231.7 L618.0,232.0 L620.0,232.3 L622.0,232.6 L624.0,232.8 L626.0,233.1 L628.0,233.4 L630.0,233.7 L632.0,234.1 L634.0,234.4 L636.0,234.7 L638.0,235.0 L640.0,235.3 L642.0,235.7 L644.0,236.0 L646.0,236.3 L648.0,236.7 L650.0,237.0 L652.0,237.4 L654.0,237.8 L656.0,238.1 L658.0,238.5 L660.0,238.9 L662.0,239.2 L664.0,239.6 L666.0,240.0 L668.0,240.4 L670.0,240.8 L672.0,241.2 L674.0,241.6 L676.0,242.0 L678.0,242.4 L680.0,242.8 L682.0,243.2 L684.0,243.6 L686.0,244.0 L688.0,244.5 L690.0,244.9 L692.0,245.3 L694.0,245.7 L696.0,246.2 L698.0,246.6 L700.0,247.0 L702.0,247.5 L704.0,247.9 L706.0,248.3 L708.0,248.8 L710.0,249.2 L712.0,249.7 L714.0,250.1 L716.0,250.5 L718.0,251.0 L720.0,251.4 L722.0,251.8 L724.0,252.3 L726.0,252.7 L728.0,253.1 L730.0,253.6 L732.0,254.0 L734.0,254.4 L736.0,254.9 L738.0,255.3 L740.0,255.7 L742.0,256.1 L744.0,256.5 L746.0,256.9 L748.0,257.3 L750.0,257.7 L752.0,258.1 L754.0,258.5 L756.0,258.9 L758.0,259.3 L760.0,259.6 L762.0,260.0 L764.0,260.4 L766.0,260.7 L768.0,261.1 L770.0,261.4 L772.0,261.8 L774.0,262.1 L776.0,262.4 L778.0,262.7 L780.0,263.1 L782.0,263.4 L784.0,263.7 L786.0,264.0 L788.0,264.2 L790.0,264.5 L792.0,264.8 L794.0,265.1 L796.0,265.3 L798.0,265.6 L800.0,265.8 L802.0,266.1 L804.0,266.3 L806.0,266.5 L808.0,266.7 L810.0,266.9 L812.0,267.1 L814.0,267.3 L816.0,267.5 L818.0,267.7 L820.0,267.9 L822.0,268.0 L824.0,268.2 L826.0,268.4 L828.0,268.5 L830.0,268.7 L832.0,268.8 L834.0,268.9 L836.0,269.0 L838.0,269.2 L840.0,269.3 L842.0,269.4 L844.0,269.5 L846.0,269.6 L848.0,269.7 L850.0,269.8 L852.0,269.9 L854.0,269.9 L856.0,270.0 L858.0,270.1 L860.0,270.2 L862.0,270.2 L864.0,270.3 L866.0,270.4 L868.0,270.4 L870.0,270.5 L872.0,270.5 L874.0,270.6 L876.0,270.6 L878.0,270.7 L880.0,270.7 L882.0,270.7 L884.0,270.8 L886.0,270.8 L888.0,270.8 L890.0,270.9 L892.0,270.9 L894.0,270.9 L896.0,271.0 L898.0,271.0 L900.0,271.0 L902.0,271.1 L904.0,271.1 L906.0,271.1 L908.0,271.1 L910.0,271.2 L912.0,271.2 L914.0,271.2 L916.0,271.2 L918.0,271.3 L920.0,271.3 L922.0,271.3 L924.0,271.3 L926.0,271.4 L928.0,271.4 L930.0,271.4 L932.0,271.4 L934.0,271.5 L936.0,271.5 L938.0,271.5 L940.0,271.5 L942.0,271.6 L944.0,271.6 L946.0,271.6 L948.0,271.7 L950.0,271.7" fill="none" stroke="url(#navygrad)" stroke-width="0.9" opacity="0.65"/>
<path d="M-20.0,208.3 L-18.0,208.3 L-16.0,208.3 L-14.0,208.3 L-12.0,208.3 L-10.0,208.3 L-8.0,208.4 L-6.0,208.4 L-4.0,208.4 L-2.0,208.4 L0.0,208.4 L2.0,208.4 L4.0,208.4 L6.0,208.5 L8.0,208.5 L10.0,208.5 L12.0,208.5 L14.0,208.5 L16.0,208.5 L18.0,208.6 L20.0,208.6 L22.0,208.6 L24.0,208.6 L26.0,208.7 L28.0,208.7 L30.0,208.7 L32.0,208.7 L34.0,208.8 L36.0,208.8 L38.0,208.8 L40.0,208.8 L42.0,208.9 L44.0,208.9 L46.0,208.9 L48.0,209.0 L50.0,209.0 L52.0,209.0 L54.0,209.1 L56.0,209.1 L58.0,209.2 L60.0,209.2 L62.0,209.2 L64.0,209.3 L66.0,209.3 L68.0,209.4 L70.0,209.4 L72.0,209.5 L74.0,209.5 L76.0,209.5 L78.0,209.6 L80.0,209.6 L82.0,209.7 L84.0,209.7 L86.0,209.8 L88.0,209.8 L90.0,209.9 L92.0,209.9 L94.0,210.0 L96.0,210.1 L98.0,210.1 L100.0,210.2 L102.0,210.2 L104.0,210.3 L106.0,210.3 L108.0,210.4 L110.0,210.5 L112.0,210.5 L114.0,210.6 L116.0,210.6 L118.0,210.7 L120.0,210.8 L122.0,210.8 L124.0,210.9 L126.0,211.0 L128.0,211.0 L130.0,211.1 L132.0,211.2 L134.0,211.3 L136.0,211.3 L138.0,211.4 L140.0,211.5 L142.0,211.5 L144.0,211.6 L146.0,211.7 L148.0,211.8 L150.0,211.8 L152.0,211.9 L154.0,212.0 L156.0,212.1 L158.0,212.1 L160.0,212.2 L162.0,212.3 L164.0,212.4 L166.0,212.4 L168.0,212.5 L170.0,212.6 L172.0,212.7 L174.0,212.8 L176.0,212.8 L178.0,212.9 L180.0,213.0 L182.0,213.1 L184.0,213.2 L186.0,213.3 L188.0,213.3 L190.0,213.4 L192.0,213.5 L194.0,213.6 L196.0,213.7 L198.0,213.8 L200.0,213.9 L202.0,213.9 L204.0,214.0 L206.0,214.1 L208.0,214.2 L210.0,214.3 L212.0,214.4 L214.0,214.5 L216.0,214.6 L218.0,214.6 L220.0,214.7 L222.0,214.8 L224.0,214.9 L226.0,215.0 L228.0,215.1 L230.0,215.2 L232.0,215.3 L234.0,215.4 L236.0,215.5 L238.0,215.5 L240.0,215.6 L242.0,215.7 L244.0,215.8 L246.0,215.9 L248.0,216.0 L250.0,216.1 L252.0,216.2 L254.0,216.3 L256.0,216.4 L258.0,216.5 L260.0,216.6 L262.0,216.7 L264.0,216.8 L266.0,216.8 L268.0,216.9 L270.0,217.0 L272.0,217.1 L274.0,217.2 L276.0,217.3 L278.0,217.4 L280.0,217.5 L282.0,217.6 L284.0,217.7 L286.0,217.8 L288.0,217.9 L290.0,218.0 L292.0,218.1 L294.0,218.2 L296.0,218.3 L298.0,218.4 L300.0,218.5 L302.0,218.6 L304.0,218.7 L306.0,218.8 L308.0,218.9 L310.0,219.0 L312.0,219.1 L314.0,219.2 L316.0,219.3 L318.0,219.4 L320.0,219.5 L322.0,219.6 L324.0,219.7 L326.0,219.8 L328.0,219.9 L330.0,220.0 L332.0,220.1 L334.0,220.2 L336.0,220.3 L338.0,220.4 L340.0,220.5 L342.0,220.6 L344.0,220.7 L346.0,220.8 L348.0,220.9 L350.0,221.0 L352.0,221.1 L354.0,221.3 L356.0,221.4 L358.0,221.5 L360.0,221.6 L362.0,221.7 L364.0,221.8 L366.0,221.9 L368.0,222.0 L370.0,222.1 L372.0,222.2 L374.0,222.3 L376.0,222.5 L378.0,222.6 L380.0,222.7 L382.0,222.8 L384.0,222.9 L386.0,223.0 L388.0,223.1 L390.0,223.2 L392.0,223.4 L394.0,223.5 L396.0,223.6 L398.0,223.7 L400.0,223.8 L402.0,223.9 L404.0,224.1 L406.0,224.2 L408.0,224.3 L410.0,224.4 L412.0,224.5 L414.0,224.7 L416.0,224.8 L418.0,224.9 L420.0,225.0 L422.0,225.1 L424.0,225.3 L426.0,225.4 L428.0,225.5 L430.0,225.6 L432.0,225.8 L434.0,225.9 L436.0,226.0 L438.0,226.1 L440.0,226.3 L442.0,226.4 L444.0,226.5 L446.0,226.7 L448.0,226.8 L450.0,226.9 L452.0,227.1 L454.0,227.2 L456.0,227.3 L458.0,227.5 L460.0,227.6 L462.0,227.7 L464.0,227.9 L466.0,228.0 L468.0,228.1 L470.0,228.3 L472.0,228.4 L474.0,228.5 L476.0,228.7 L478.0,228.8 L480.0,229.0 L482.0,229.1 L484.0,229.3 L486.0,229.4 L488.0,229.5 L490.0,229.7 L492.0,229.8 L494.0,230.0 L496.0,230.1 L498.0,230.3 L500.0,230.4 L502.0,230.6 L504.0,230.7 L506.0,230.9 L508.0,231.0 L510.0,231.2 L512.0,231.3 L514.0,231.5 L516.0,231.6 L518.0,231.8 L520.0,232.0 L522.0,232.1 L524.0,232.3 L526.0,232.4 L528.0,232.6 L530.0,232.8 L532.0,232.9 L534.0,233.1 L536.0,233.3 L538.0,233.4 L540.0,233.6 L542.0,233.8 L544.0,233.9 L546.0,234.1 L548.0,234.3 L550.0,234.5 L552.0,234.6 L554.0,234.8 L556.0,235.0 L558.0,235.2 L560.0,235.4 L562.0,235.6 L564.0,235.7 L566.0,235.9 L568.0,236.1 L570.0,236.3 L572.0,236.5 L574.0,236.7 L576.0,236.9 L578.0,237.1 L580.0,237.3 L582.0,237.5 L584.0,237.7 L586.0,237.9 L588.0,238.1 L590.0,238.4 L592.0,238.6 L594.0,238.8 L596.0,239.0 L598.0,239.2 L600.0,239.5 L602.0,239.7 L604.0,239.9 L606.0,240.2 L608.0,240.4 L610.0,240.6 L612.0,240.9 L614.0,241.1 L616.0,241.4 L618.0,241.6 L620.0,241.9 L622.0,242.2 L624.0,242.4 L626.0,242.7 L628.0,243.0 L630.0,243.2 L632.0,243.5 L634.0,243.8 L636.0,244.1 L638.0,244.3 L640.0,244.6 L642.0,244.9 L644.0,245.2 L646.0,245.5 L648.0,245.8 L650.0,246.1 L652.0,246.4 L654.0,246.7 L656.0,247.1 L658.0,247.4 L660.0,247.7 L662.0,248.0 L664.0,248.3 L666.0,248.7 L668.0,249.0 L670.0,249.3 L672.0,249.6 L674.0,250.0 L676.0,250.3 L678.0,250.7 L680.0,251.0 L682.0,251.3 L684.0,251.7 L686.0,252.0 L688.0,252.4 L690.0,252.7 L692.0,253.1 L694.0,253.4 L696.0,253.8 L698.0,254.1 L700.0,254.5 L702.0,254.9 L704.0,255.2 L706.0,255.6 L708.0,255.9 L710.0,256.3 L712.0,256.6 L714.0,257.0 L716.0,257.3 L718.0,257.7 L720.0,258.0 L722.0,258.4 L724.0,258.7 L726.0,259.1 L728.0,259.4 L730.0,259.8 L732.0,260.1 L734.0,260.5 L736.0,260.8 L738.0,261.1 L740.0,261.5 L742.0,261.8 L744.0,262.1 L746.0,262.4 L748.0,262.7 L750.0,263.1 L752.0,263.4 L754.0,263.7 L756.0,264.0 L758.0,264.3 L760.0,264.6 L762.0,264.9 L764.0,265.2 L766.0,265.4 L768.0,265.7 L770.0,266.0 L772.0,266.2 L774.0,266.5 L776.0,266.8 L778.0,267.0 L780.0,267.3 L782.0,267.5 L784.0,267.7 L786.0,268.0 L788.0,268.2 L790.0,268.4 L792.0,268.6 L794.0,268.8 L796.0,269.0 L798.0,269.2 L800.0,269.4 L802.0,269.6 L804.0,269.8 L806.0,270.0 L808.0,270.1 L810.0,270.3 L812.0,270.5 L814.0,270.6 L816.0,270.8 L818.0,270.9 L820.0,271.0 L822.0,271.2 L824.0,271.3 L826.0,271.4 L828.0,271.5 L830.0,271.7 L832.0,271.8 L834.0,271.9 L836.0,272.0 L838.0,272.1 L840.0,272.2 L842.0,272.2 L844.0,272.3 L846.0,272.4 L848.0,272.5 L850.0,272.6 L852.0,272.6 L854.0,272.7 L856.0,272.7 L858.0,272.8 L860.0,272.9 L862.0,272.9 L864.0,273.0 L866.0,273.0 L868.0,273.0 L870.0,273.1 L872.0,273.1 L874.0,273.2 L876.0,273.2 L878.0,273.2 L880.0,273.3 L882.0,273.3 L884.0,273.3 L886.0,273.3 L888.0,273.4 L890.0,273.4 L892.0,273.4 L894.0,273.4 L896.0,273.4 L898.0,273.5 L900.0,273.5 L902.0,273.5 L904.0,273.5 L906.0,273.5 L908.0,273.5 L910.0,273.6 L912.0,273.6 L914.0,273.6 L916.0,273.6 L918.0,273.6 L920.0,273.6 L922.0,273.6 L924.0,273.6 L926.0,273.7 L928.0,273.7 L930.0,273.7 L932.0,273.7 L934.0,273.7 L936.0,273.7 L938.0,273.7 L940.0,273.8 L942.0,273.8 L944.0,273.8 L946.0,273.8 L948.0,273.8 L950.0,273.8" fill="none" stroke="url(#navygrad)" stroke-width="0.9" opacity="0.65"/>
<path d="M-20.0,219.4 L-18.0,219.4 L-16.0,219.4 L-14.0,219.4 L-12.0,219.4 L-10.0,219.4 L-8.0,219.4 L-6.0,219.4 L-4.0,219.5 L-2.0,219.5 L0.0,219.5 L2.0,219.5 L4.0,219.5 L6.0,219.5 L8.0,219.5 L10.0,219.5 L12.0,219.6 L14.0,219.6 L16.0,219.6 L18.0,219.6 L20.0,219.6 L22.0,219.6 L24.0,219.7 L26.0,219.7 L28.0,219.7 L30.0,219.7 L32.0,219.7 L34.0,219.8 L36.0,219.8 L38.0,219.8 L40.0,219.8 L42.0,219.9 L44.0,219.9 L46.0,219.9 L48.0,220.0 L50.0,220.0 L52.0,220.0 L54.0,220.1 L56.0,220.1 L58.0,220.1 L60.0,220.2 L62.0,220.2 L64.0,220.2 L66.0,220.3 L68.0,220.3 L70.0,220.3 L72.0,220.4 L74.0,220.4 L76.0,220.5 L78.0,220.5 L80.0,220.6 L82.0,220.6 L84.0,220.6 L86.0,220.7 L88.0,220.7 L90.0,220.8 L92.0,220.8 L94.0,220.9 L96.0,220.9 L98.0,221.0 L100.0,221.0 L102.0,221.1 L104.0,221.1 L106.0,221.2 L108.0,221.3 L110.0,221.3 L112.0,221.4 L114.0,221.4 L116.0,221.5 L118.0,221.5 L120.0,221.6 L122.0,221.7 L124.0,221.7 L126.0,221.8 L128.0,221.9 L130.0,221.9 L132.0,222.0 L134.0,222.0 L136.0,222.1 L138.0,222.2 L140.0,222.2 L142.0,222.3 L144.0,222.4 L146.0,222.5 L148.0,222.5 L150.0,222.6 L152.0,222.7 L154.0,222.7 L156.0,222.8 L158.0,222.9 L160.0,223.0 L162.0,223.0 L164.0,223.1 L166.0,223.2 L168.0,223.3 L170.0,223.3 L172.0,223.4 L174.0,223.5 L176.0,223.6 L178.0,223.6 L180.0,223.7 L182.0,223.8 L184.0,223.9 L186.0,224.0 L188.0,224.0 L190.0,224.1 L192.0,224.2 L194.0,224.3 L196.0,224.4 L198.0,224.5 L200.0,224.5 L202.0,224.6 L204.0,224.7 L206.0,224.8 L208.0,224.9 L210.0,225.0 L212.0,225.0 L214.0,225.1 L216.0,225.2 L218.0,225.3 L220.0,225.4 L222.0,225.5 L224.0,225.6 L226.0,225.6 L228.0,225.7 L230.0,225.8 L232.0,225.9 L234.0,226.0 L236.0,226.1 L238.0,226.2 L240.0,226.3 L242.0,226.4 L244.0,226.5 L246.0,226.5 L248.0,226.6 L250.0,226.7 L252.0,226.8 L254.0,226.9 L256.0,227.0 L258.0,227.1 L260.0,227.2 L262.0,227.3 L264.0,227.4 L266.0,227.5 L268.0,227.6 L270.0,227.7 L272.0,227.7 L274.0,227.8 L276.0,227.9 L278.0,228.0 L280.0,228.1 L282.0,228.2 L284.0,228.3 L286.0,228.4 L288.0,228.5 L290.0,228.6 L292.0,228.7 L294.0,228.8 L296.0,228.9 L298.0,229.0 L300.0,229.1 L302.0,229.2 L304.0,229.3 L306.0,229.4 L308.0,229.5 L310.0,229.6 L312.0,229.7 L314.0,229.8 L316.0,229.9 L318.0,230.0 L320.0,230.1 L322.0,230.2 L324.0,230.3 L326.0,230.4 L328.0,230.5 L330.0,230.6 L332.0,230.7 L334.0,230.8 L336.0,230.9 L338.0,231.0 L340.0,231.1 L342.0,231.2 L344.0,231.3 L346.0,231.4 L348.0,231.5 L350.0,231.6 L352.0,231.7 L354.0,231.8 L356.0,231.9 L358.0,232.0 L360.0,232.2 L362.0,232.3 L364.0,232.4 L366.0,232.5 L368.0,232.6 L370.0,232.7 L372.0,232.8 L374.0,232.9 L376.0,233.0 L378.0,233.1 L380.0,233.2 L382.0,233.4 L384.0,233.5 L386.0,233.6 L388.0,233.7 L390.0,233.8 L392.0,233.9 L394.0,234.0 L396.0,234.1 L398.0,234.3 L400.0,234.4 L402.0,234.5 L404.0,234.6 L406.0,234.7 L408.0,234.8 L410.0,235.0 L412.0,235.1 L414.0,235.2 L416.0,235.3 L418.0,235.4 L420.0,235.6 L422.0,235.7 L424.0,235.8 L426.0,235.9 L428.0,236.0 L430.0,236.2 L432.0,236.3 L434.0,236.4 L436.0,236.5 L438.0,236.7 L440.0,236.8 L442.0,236.9 L444.0,237.0 L446.0,237.2 L448.0,237.3 L450.0,237.4 L452.0,237.5 L454.0,237.7 L456.0,237.8 L458.0,237.9 L460.0,238.1 L462.0,238.2 L464.0,238.3 L466.0,238.4 L468.0,238.6 L470.0,238.7 L472.0,238.8 L474.0,239.0 L476.0,239.1 L478.0,239.2 L480.0,239.4 L482.0,239.5 L484.0,239.7 L486.0,239.8 L488.0,239.9 L490.0,240.1 L492.0,240.2 L494.0,240.3 L496.0,240.5 L498.0,240.6 L500.0,240.8 L502.0,240.9 L504.0,241.1 L506.0,241.2 L508.0,241.3 L510.0,241.5 L512.0,241.6 L514.0,241.8 L516.0,241.9 L518.0,242.1 L520.0,242.2 L522.0,242.4 L524.0,242.5 L526.0,242.7 L528.0,242.8 L530.0,243.0 L532.0,243.2 L534.0,243.3 L536.0,243.5 L538.0,243.6 L540.0,243.8 L542.0,243.9 L544.0,244.1 L546.0,244.3 L548.0,244.4 L550.0,244.6 L552.0,244.8 L554.0,244.9 L556.0,245.1 L558.0,245.3 L560.0,245.4 L562.0,245.6 L564.0,245.8 L566.0,246.0 L568.0,246.1 L570.0,246.3 L572.0,246.5 L574.0,246.7 L576.0,246.9 L578.0,247.1 L580.0,247.2 L582.0,247.4 L584.0,247.6 L586.0,247.8 L588.0,248.0 L590.0,248.2 L592.0,248.4 L594.0,248.6 L596.0,248.8 L598.0,249.0 L600.0,249.2 L602.0,249.4 L604.0,249.6 L606.0,249.8 L608.0,250.1 L610.0,250.3 L612.0,250.5 L614.0,250.7 L616.0,250.9 L618.0,251.2 L620.0,251.4 L622.0,251.6 L624.0,251.8 L626.0,252.1 L628.0,252.3 L630.0,252.5 L632.0,252.8 L634.0,253.0 L636.0,253.3 L638.0,253.5 L640.0,253.8 L642.0,254.0 L644.0,254.3 L646.0,254.5 L648.0,254.8 L650.0,255.0 L652.0,255.3 L654.0,255.5 L656.0,255.8 L658.0,256.1 L660.0,256.3 L662.0,256.6 L664.0,256.9 L666.0,257.1 L668.0,257.4 L670.0,257.7 L672.0,257.9 L674.0,258.2 L676.0,258.5 L678.0,258.8 L680.0,259.0 L682.0,259.3 L684.0,259.6 L686.0,259.9 L688.0,260.2 L690.0,260.4 L692.0,260.7 L694.0,261.0 L696.0,261.3 L698.0,261.6 L700.0,261.8 L702.0,262.1 L704.0,262.4 L706.0,262.7 L708.0,263.0 L710.0,263.2 L712.0,263.5 L714.0,263.8 L716.0,264.1 L718.0,264.3 L720.0,264.6 L722.0,264.9 L724.0,265.2 L726.0,265.4 L728.0,265.7 L730.0,266.0 L732.0,266.2 L734.0,266.5 L736.0,266.7 L738.0,267.0 L740.0,267.2 L742.0,267.5 L744.0,267.7 L746.0,268.0 L748.0,268.2 L750.0,268.5 L752.0,268.7 L754.0,268.9 L756.0,269.2 L758.0,269.4 L760.0,269.6 L762.0,269.8 L764.0,270.0 L766.0,270.3 L768.0,270.5 L770.0,270.7 L772.0,270.9 L774.0,271.1 L776.0,271.2 L778.0,271.4 L780.0,271.6 L782.0,271.8 L784.0,272.0 L786.0,272.1 L788.0,272.3 L790.0,272.5 L792.0,272.6 L794.0,272.8 L796.0,272.9 L798.0,273.1 L800.0,273.2 L802.0,273.4 L804.0,273.5 L806.0,273.6 L808.0,273.7 L810.0,273.9 L812.0,274.0 L814.0,274.1 L816.0,274.2 L818.0,274.3 L820.0,274.4 L822.0,274.5 L824.0,274.6 L826.0,274.7 L828.0,274.7 L830.0,274.8 L832.0,274.9 L834.0,275.0 L836.0,275.0 L838.0,275.1 L840.0,275.2 L842.0,275.2 L844.0,275.3 L846.0,275.3 L848.0,275.4 L850.0,275.4 L852.0,275.5 L854.0,275.5 L856.0,275.6 L858.0,275.6 L860.0,275.6 L862.0,275.7 L864.0,275.7 L866.0,275.7 L868.0,275.8 L870.0,275.8 L872.0,275.8 L874.0,275.8 L876.0,275.8 L878.0,275.9 L880.0,275.9 L882.0,275.9 L884.0,275.9 L886.0,275.9 L888.0,275.9 L890.0,275.9 L892.0,275.9 L894.0,275.9 L896.0,275.9 L898.0,275.9 L900.0,276.0 L902.0,276.0 L904.0,276.0 L906.0,276.0 L908.0,276.0 L910.0,276.0 L912.0,276.0 L914.0,276.0 L916.0,276.0 L918.0,276.0 L920.0,276.0 L922.0,276.0 L924.0,276.0 L926.0,276.0 L928.0,276.0 L930.0,276.0 L932.0,276.0 L934.0,276.0 L936.0,276.0 L938.0,276.0 L940.0,276.0 L942.0,276.0 L944.0,276.0 L946.0,276.0 L948.0,276.0 L950.0,276.0" fill="none" stroke="url(#navygrad)" stroke-width="0.9" opacity="0.65"/>
<path d="M-20.0,230.5 L-18.0,230.5 L-16.0,230.5 L-14.0,230.5 L-12.0,230.5 L-10.0,230.5 L-8.0,230.5 L-6.0,230.5 L-4.0,230.5 L-2.0,230.5 L0.0,230.5 L2.0,230.6 L4.0,230.6 L6.0,230.6 L8.0,230.6 L10.0,230.6 L12.0,230.6 L14.0,230.6 L16.0,230.6 L18.0,230.6 L20.0,230.7 L22.0,230.7 L24.0,230.7 L26.0,230.7 L28.0,230.7 L30.0,230.7 L32.0,230.8 L34.0,230.8 L36.0,230.8 L38.0,230.8 L40.0,230.8 L42.0,230.9 L44.0,230.9 L46.0,230.9 L48.0,230.9 L50.0,231.0 L52.0,231.0 L54.0,231.0 L56.0,231.1 L58.0,231.1 L60.0,231.1 L62.0,231.1 L64.0,231.2 L66.0,231.2 L68.0,231.2 L70.0,231.3 L72.0,231.3 L74.0,231.4 L76.0,231.4 L78.0,231.4 L80.0,231.5 L82.0,231.5 L84.0,231.6 L86.0,231.6 L88.0,231.6 L90.0,231.7 L92.0,231.7 L94.0,231.8 L96.0,231.8 L98.0,231.9 L100.0,231.9 L102.0,232.0 L104.0,232.0 L106.0,232.1 L108.0,232.1 L110.0,232.2 L112.0,232.2 L114.0,232.3 L116.0,232.3 L118.0,232.4 L120.0,232.4 L122.0,232.5 L124.0,232.6 L126.0,232.6 L128.0,232.7 L130.0,232.7 L132.0,232.8 L134.0,232.9 L136.0,232.9 L138.0,233.0 L140.0,233.0 L142.0,233.1 L144.0,233.2 L146.0,233.2 L148.0,233.3 L150.0,233.4 L152.0,233.4 L154.0,233.5 L156.0,233.6 L158.0,233.6 L160.0,233.7 L162.0,233.8 L164.0,233.9 L166.0,233.9 L168.0,234.0 L170.0,234.1 L172.0,234.1 L174.0,234.2 L176.0,234.3 L178.0,234.4 L180.0,234.4 L182.0,234.5 L184.0,234.6 L186.0,234.7 L188.0,234.8 L190.0,234.8 L192.0,234.9 L194.0,235.0 L196.0,235.1 L198.0,235.1 L200.0,235.2 L202.0,235.3 L204.0,235.4 L206.0,235.5 L208.0,235.6 L210.0,235.6 L212.0,235.7 L214.0,235.8 L216.0,235.9 L218.0,236.0 L220.0,236.1 L222.0,236.1 L224.0,236.2 L226.0,236.3 L228.0,236.4 L230.0,236.5 L232.0,236.6 L234.0,236.7 L236.0,236.7 L238.0,236.8 L240.0,236.9 L242.0,237.0 L244.0,237.1 L246.0,237.2 L248.0,237.3 L250.0,237.4 L252.0,237.4 L254.0,237.5 L256.0,237.6 L258.0,237.7 L260.0,237.8 L262.0,237.9 L264.0,238.0 L266.0,238.1 L268.0,238.2 L270.0,238.3 L272.0,238.4 L274.0,238.5 L276.0,238.5 L278.0,238.6 L280.0,238.7 L282.0,238.8 L284.0,238.9 L286.0,239.0 L288.0,239.1 L290.0,239.2 L292.0,239.3 L294.0,239.4 L296.0,239.5 L298.0,239.6 L300.0,239.7 L302.0,239.8 L304.0,239.9 L306.0,240.0 L308.0,240.1 L310.0,240.2 L312.0,240.3 L314.0,240.4 L316.0,240.5 L318.0,240.6 L320.0,240.7 L322.0,240.8 L324.0,240.9 L326.0,241.0 L328.0,241.1 L330.0,241.2 L332.0,241.3 L334.0,241.4 L336.0,241.5 L338.0,241.6 L340.0,241.7 L342.0,241.8 L344.0,241.9 L346.0,242.0 L348.0,242.1 L350.0,242.2 L352.0,242.3 L354.0,242.4 L356.0,242.5 L358.0,242.6 L360.0,242.7 L362.0,242.8 L364.0,242.9 L366.0,243.0 L368.0,243.2 L370.0,243.3 L372.0,243.4 L374.0,243.5 L376.0,243.6 L378.0,243.7 L380.0,243.8 L382.0,243.9 L384.0,244.0 L386.0,244.1 L388.0,244.2 L390.0,244.4 L392.0,244.5 L394.0,244.6 L396.0,244.7 L398.0,244.8 L400.0,244.9 L402.0,245.0 L404.0,245.1 L406.0,245.3 L408.0,245.4 L410.0,245.5 L412.0,245.6 L414.0,245.7 L416.0,245.8 L418.0,246.0 L420.0,246.1 L422.0,246.2 L424.0,246.3 L426.0,246.4 L428.0,246.5 L430.0,246.7 L432.0,246.8 L434.0,246.9 L436.0,247.0 L438.0,247.1 L440.0,247.3 L442.0,247.4 L444.0,247.5 L446.0,247.6 L448.0,247.8 L450.0,247.9 L452.0,248.0 L454.0,248.1 L456.0,248.2 L458.0,248.4 L460.0,248.5 L462.0,248.6 L464.0,248.7 L466.0,248.9 L468.0,249.0 L470.0,249.1 L472.0,249.3 L474.0,249.4 L476.0,249.5 L478.0,249.6 L480.0,249.8 L482.0,249.9 L484.0,250.0 L486.0,250.2 L488.0,250.3 L490.0,250.4 L492.0,250.6 L494.0,250.7 L496.0,250.8 L498.0,251.0 L500.0,251.1 L502.0,251.2 L504.0,251.4 L506.0,251.5 L508.0,251.6 L510.0,251.8 L512.0,251.9 L514.0,252.1 L516.0,252.2 L518.0,252.3 L520.0,252.5 L522.0,252.6 L524.0,252.8 L526.0,252.9 L528.0,253.0 L530.0,253.2 L532.0,253.3 L534.0,253.5 L536.0,253.6 L538.0,253.8 L540.0,253.9 L542.0,254.1 L544.0,254.2 L546.0,254.4 L548.0,254.5 L550.0,254.7 L552.0,254.8 L554.0,255.0 L556.0,255.1 L558.0,255.3 L560.0,255.5 L562.0,255.6 L564.0,255.8 L566.0,255.9 L568.0,256.1 L570.0,256.3 L572.0,256.4 L574.0,256.6 L576.0,256.8 L578.0,256.9 L580.0,257.1 L582.0,257.3 L584.0,257.4 L586.0,257.6 L588.0,257.8 L590.0,258.0 L592.0,258.1 L594.0,258.3 L596.0,258.5 L598.0,258.7 L600.0,258.8 L602.0,259.0 L604.0,259.2 L606.0,259.4 L608.0,259.6 L610.0,259.8 L612.0,260.0 L614.0,260.1 L616.0,260.3 L618.0,260.5 L620.0,260.7 L622.0,260.9 L624.0,261.1 L626.0,261.3 L628.0,261.5 L630.0,261.7 L632.0,261.9 L634.0,262.1 L636.0,262.3 L638.0,262.5 L640.0,262.7 L642.0,262.9 L644.0,263.1 L646.0,263.3 L648.0,263.5 L650.0,263.7 L652.0,264.0 L654.0,264.2 L656.0,264.4 L658.0,264.6 L660.0,264.8 L662.0,265.0 L664.0,265.2 L666.0,265.4 L668.0,265.7 L670.0,265.9 L672.0,266.1 L674.0,266.3 L676.0,266.5 L678.0,266.7 L680.0,266.9 L682.0,267.2 L684.0,267.4 L686.0,267.6 L688.0,267.8 L690.0,268.0 L692.0,268.2 L694.0,268.4 L696.0,268.7 L698.0,268.9 L700.0,269.1 L702.0,269.3 L704.0,269.5 L706.0,269.7 L708.0,269.9 L710.0,270.1 L712.0,270.3 L714.0,270.5 L716.0,270.7 L718.0,271.0 L720.0,271.2 L722.0,271.4 L724.0,271.5 L726.0,271.7 L728.0,271.9 L730.0,272.1 L732.0,272.3 L734.0,272.5 L736.0,272.7 L738.0,272.9 L740.0,273.1 L742.0,273.2 L744.0,273.4 L746.0,273.6 L748.0,273.8 L750.0,273.9 L752.0,274.1 L754.0,274.3 L756.0,274.4 L758.0,274.6 L760.0,274.7 L762.0,274.9 L764.0,275.0 L766.0,275.2 L768.0,275.3 L770.0,275.5 L772.0,275.6 L774.0,275.7 L776.0,275.9 L778.0,276.0 L780.0,276.1 L782.0,276.2 L784.0,276.3 L786.0,276.5 L788.0,276.6 L790.0,276.7 L792.0,276.8 L794.0,276.9 L796.0,277.0 L798.0,277.1 L800.0,277.2 L802.0,277.2 L804.0,277.3 L806.0,277.4 L808.0,277.5 L810.0,277.6 L812.0,277.6 L814.0,277.7 L816.0,277.8 L818.0,277.8 L820.0,277.9 L822.0,277.9 L824.0,278.0 L826.0,278.1 L828.0,278.1 L830.0,278.1 L832.0,278.2 L834.0,278.2 L836.0,278.3 L838.0,278.3 L840.0,278.3 L842.0,278.4 L844.0,278.4 L846.0,278.4 L848.0,278.4 L850.0,278.5 L852.0,278.5 L854.0,278.5 L856.0,278.5 L858.0,278.5 L860.0,278.5 L862.0,278.5 L864.0,278.5 L866.0,278.6 L868.0,278.6 L870.0,278.6 L872.0,278.6 L874.0,278.6 L876.0,278.6 L878.0,278.6 L880.0,278.6 L882.0,278.6 L884.0,278.5 L886.0,278.5 L888.0,278.5 L890.0,278.5 L892.0,278.5 L894.0,278.5 L896.0,278.5 L898.0,278.5 L900.0,278.5 L902.0,278.5 L904.0,278.5 L906.0,278.4 L908.0,278.4 L910.0,278.4 L912.0,278.4 L914.0,278.4 L916.0,278.4 L918.0,278.4 L920.0,278.4 L922.0,278.3 L924.0,278.3 L926.0,278.3 L928.0,278.3 L930.0,278.3 L932.0,278.3 L934.0,278.3 L936.0,278.3 L938.0,278.2 L940.0,278.2 L942.0,278.2 L944.0,278.2 L946.0,278.2 L948.0,278.2 L950.0,278.2" fill="none" stroke="url(#navygrad)" stroke-width="0.9" opacity="0.65"/>
<path d="M-20.0,241.6 L-18.0,241.6 L-16.0,241.6 L-14.0,241.6 L-12.0,241.6 L-10.0,241.6 L-8.0,241.6 L-6.0,241.6 L-4.0,241.6 L-2.0,241.6 L0.0,241.6 L2.0,241.6 L4.0,241.6 L6.0,241.6 L8.0,241.6 L10.0,241.6 L12.0,241.7 L14.0,241.7 L16.0,241.7 L18.0,241.7 L20.0,241.7 L22.0,241.7 L24.0,241.7 L26.0,241.7 L28.0,241.7 L30.0,241.8 L32.0,241.8 L34.0,241.8 L36.0,241.8 L38.0,241.8 L40.0,241.8 L42.0,241.9 L44.0,241.9 L46.0,241.9 L48.0,241.9 L50.0,242.0 L52.0,242.0 L54.0,242.0 L56.0,242.0 L58.0,242.1 L60.0,242.1 L62.0,242.1 L64.0,242.1 L66.0,242.2 L68.0,242.2 L70.0,242.2 L72.0,242.3 L74.0,242.3 L76.0,242.3 L78.0,242.4 L80.0,242.4 L82.0,242.4 L84.0,242.5 L86.0,242.5 L88.0,242.5 L90.0,242.6 L92.0,242.6 L94.0,242.7 L96.0,242.7 L98.0,242.8 L100.0,242.8 L102.0,242.8 L104.0,242.9 L106.0,242.9 L108.0,243.0 L110.0,243.0 L112.0,243.1 L114.0,243.1 L116.0,243.2 L118.0,243.2 L120.0,243.3 L122.0,243.3 L124.0,243.4 L126.0,243.4 L128.0,243.5 L130.0,243.6 L132.0,243.6 L134.0,243.7 L136.0,243.7 L138.0,243.8 L140.0,243.8 L142.0,243.9 L144.0,244.0 L146.0,244.0 L148.0,244.1 L150.0,244.2 L152.0,244.2 L154.0,244.3 L156.0,244.3 L158.0,244.4 L160.0,244.5 L162.0,244.5 L164.0,244.6 L166.0,244.7 L168.0,244.7 L170.0,244.8 L172.0,244.9 L174.0,245.0 L176.0,245.0 L178.0,245.1 L180.0,245.2 L182.0,245.2 L184.0,245.3 L186.0,245.4 L188.0,245.5 L190.0,245.5 L192.0,245.6 L194.0,245.7 L196.0,245.8 L198.0,245.8 L200.0,245.9 L202.0,246.0 L204.0,246.1 L206.0,246.2 L208.0,246.2 L210.0,246.3 L212.0,246.4 L214.0,246.5 L216.0,246.6 L218.0,246.6 L220.0,246.7 L222.0,246.8 L224.0,246.9 L226.0,247.0 L228.0,247.1 L230.0,247.1 L232.0,247.2 L234.0,247.3 L236.0,247.4 L238.0,247.5 L240.0,247.6 L242.0,247.7 L244.0,247.7 L246.0,247.8 L248.0,247.9 L250.0,248.0 L252.0,248.1 L254.0,248.2 L256.0,248.3 L258.0,248.4 L260.0,248.4 L262.0,248.5 L264.0,248.6 L266.0,248.7 L268.0,248.8 L270.0,248.9 L272.0,249.0 L274.0,249.1 L276.0,249.2 L278.0,249.3 L280.0,249.4 L282.0,249.4 L284.0,249.5 L286.0,249.6 L288.0,249.7 L290.0,249.8 L292.0,249.9 L294.0,250.0 L296.0,250.1 L298.0,250.2 L300.0,250.3 L302.0,250.4 L304.0,250.5 L306.0,250.6 L308.0,250.7 L310.0,250.8 L312.0,250.9 L314.0,251.0 L316.0,251.1 L318.0,251.2 L320.0,251.3 L322.0,251.4 L324.0,251.5 L326.0,251.6 L328.0,251.7 L330.0,251.8 L332.0,251.9 L334.0,252.0 L336.0,252.1 L338.0,252.2 L340.0,252.3 L342.0,252.4 L344.0,252.5 L346.0,252.6 L348.0,252.7 L350.0,252.8 L352.0,252.9 L354.0,253.0 L356.0,253.1 L358.0,253.2 L360.0,253.3 L362.0,253.4 L364.0,253.5 L366.0,253.6 L368.0,253.7 L370.0,253.8 L372.0,253.9 L374.0,254.0 L376.0,254.1 L378.0,254.3 L380.0,254.4 L382.0,254.5 L384.0,254.6 L386.0,254.7 L388.0,254.8 L390.0,254.9 L392.0,255.0 L394.0,255.1 L396.0,255.2 L398.0,255.3 L400.0,255.5 L402.0,255.6 L404.0,255.7 L406.0,255.8 L408.0,255.9 L410.0,256.0 L412.0,256.1 L414.0,256.2 L416.0,256.3 L418.0,256.5 L420.0,256.6 L422.0,256.7 L424.0,256.8 L426.0,256.9 L428.0,257.0 L430.0,257.1 L432.0,257.3 L434.0,257.4 L436.0,257.5 L438.0,257.6 L440.0,257.7 L442.0,257.8 L444.0,258.0 L446.0,258.1 L448.0,258.2 L450.0,258.3 L452.0,258.4 L454.0,258.6 L456.0,258.7 L458.0,258.8 L460.0,258.9 L462.0,259.0 L464.0,259.2 L466.0,259.3 L468.0,259.4 L470.0,259.5 L472.0,259.6 L474.0,259.8 L476.0,259.9 L478.0,260.0 L480.0,260.1 L482.0,260.3 L484.0,260.4 L486.0,260.5 L488.0,260.6 L490.0,260.8 L492.0,260.9 L494.0,261.0 L496.0,261.1 L498.0,261.3 L500.0,261.4 L502.0,261.5 L504.0,261.6 L506.0,261.8 L508.0,261.9 L510.0,262.0 L512.0,262.2 L514.0,262.3 L516.0,262.4 L518.0,262.5 L520.0,262.7 L522.0,262.8 L524.0,262.9 L526.0,263.1 L528.0,263.2 L530.0,263.3 L532.0,263.5 L534.0,263.6 L536.0,263.7 L538.0,263.9 L540.0,264.0 L542.0,264.1 L544.0,264.3 L546.0,264.4 L548.0,264.6 L550.0,264.7 L552.0,264.8 L554.0,265.0 L556.0,265.1 L558.0,265.3 L560.0,265.4 L562.0,265.5 L564.0,265.7 L566.0,265.8 L568.0,266.0 L570.0,266.1 L572.0,266.3 L574.0,266.4 L576.0,266.5 L578.0,266.7 L580.0,266.8 L582.0,267.0 L584.0,267.1 L586.0,267.3 L588.0,267.4 L590.0,267.6 L592.0,267.7 L594.0,267.9 L596.0,268.0 L598.0,268.2 L600.0,268.3 L602.0,268.5 L604.0,268.7 L606.0,268.8 L608.0,269.0 L610.0,269.1 L612.0,269.3 L614.0,269.4 L616.0,269.6 L618.0,269.7 L620.0,269.9 L622.0,270.1 L624.0,270.2 L626.0,270.4 L628.0,270.5 L630.0,270.7 L632.0,270.9 L634.0,271.0 L636.0,271.2 L638.0,271.3 L640.0,271.5 L642.0,271.7 L644.0,271.8 L646.0,272.0 L648.0,272.1 L650.0,272.3 L652.0,272.5 L654.0,272.6 L656.0,272.8 L658.0,273.0 L660.0,273.1 L662.0,273.3 L664.0,273.4 L666.0,273.6 L668.0,273.8 L670.0,273.9 L672.0,274.1 L674.0,274.2 L676.0,274.4 L678.0,274.6 L680.0,274.7 L682.0,274.9 L684.0,275.0 L686.0,275.2 L688.0,275.3 L690.0,275.5 L692.0,275.6 L694.0,275.8 L696.0,275.9 L698.0,276.1 L700.0,276.2 L702.0,276.4 L704.0,276.5 L706.0,276.7 L708.0,276.8 L710.0,277.0 L712.0,277.1 L714.0,277.2 L716.0,277.4 L718.0,277.5 L720.0,277.6 L722.0,277.8 L724.0,277.9 L726.0,278.0 L728.0,278.2 L730.0,278.3 L732.0,278.4 L734.0,278.5 L736.0,278.7 L738.0,278.8 L740.0,278.9 L742.0,279.0 L744.0,279.1 L746.0,279.2 L748.0,279.3 L750.0,279.4 L752.0,279.5 L754.0,279.6 L756.0,279.7 L758.0,279.8 L760.0,279.9 L762.0,280.0 L764.0,280.1 L766.0,280.2 L768.0,280.3 L770.0,280.3 L772.0,280.4 L774.0,280.5 L776.0,280.6 L778.0,280.6 L780.0,280.7 L782.0,280.8 L784.0,280.8 L786.0,280.9 L788.0,280.9 L790.0,281.0 L792.0,281.1 L794.0,281.1 L796.0,281.2 L798.0,281.2 L800.0,281.2 L802.0,281.3 L804.0,281.3 L806.0,281.4 L808.0,281.4 L810.0,281.4 L812.0,281.4 L814.0,281.5 L816.0,281.5 L818.0,281.5 L820.0,281.5 L822.0,281.5 L824.0,281.6 L826.0,281.6 L828.0,281.6 L830.0,281.6 L832.0,281.6 L834.0,281.6 L836.0,281.6 L838.0,281.6 L840.0,281.6 L842.0,281.6 L844.0,281.6 L846.0,281.6 L848.0,281.6 L850.0,281.6 L852.0,281.6 L854.0,281.6 L856.0,281.6 L858.0,281.5 L860.0,281.5 L862.0,281.5 L864.0,281.5 L866.0,281.5 L868.0,281.5 L870.0,281.4 L872.0,281.4 L874.0,281.4 L876.0,281.4 L878.0,281.4 L880.0,281.3 L882.0,281.3 L884.0,281.3 L886.0,281.3 L888.0,281.2 L890.0,281.2 L892.0,281.2 L894.0,281.2 L896.0,281.1 L898.0,281.1 L900.0,281.1 L902.0,281.0 L904.0,281.0 L906.0,281.0 L908.0,281.0 L910.0,280.9 L912.0,280.9 L914.0,280.9 L916.0,280.8 L918.0,280.8 L920.0,280.8 L922.0,280.8 L924.0,280.7 L926.0,280.7 L928.0,280.7 L930.0,280.7 L932.0,280.6 L934.0,280.6 L936.0,280.6 L938.0,280.6 L940.0,280.5 L942.0,280.5 L944.0,280.5 L946.0,280.5 L948.0,280.4 L950.0,280.4" fill="none" stroke="url(#navygrad)" stroke-width="0.9" opacity="0.65"/>
</g>
<defs><linearGradient id="rfade" gradientUnits="userSpaceOnUse" x1="0" y1="0" x2="950" y2="0"><stop offset="0" stop-color="#fff"/><stop offset="0.4" stop-color="#fff"/><stop offset="0.7" stop-color="#aaa"/><stop offset="1" stop-color="#888"/></linearGradient><mask id="rmask" maskUnits="userSpaceOnUse" x="0" y="0" width="1018" height="559"><rect width="1018" height="559" fill="url(#rfade)"/><rect x="87" y="113" width="864" height="353" fill="#000" opacity="0.45"/></mask></defs>
<g mask="url(#rmask)">
<path d="M90.0,600.0 C140.0,515.0 543.0,268.0 893.0,303.0" fill="none" stroke="#a81319" stroke-width="1.0" opacity="1.00"/>
<path d="M78.5,600.0 C130.5,513.8 542.4,268.7 892.4,302.8" fill="none" stroke="#a81319" stroke-width="1.0" opacity="1.00"/>
<path d="M67.0,600.0 C120.9,512.8 541.9,269.4 891.9,302.7" fill="none" stroke="#a81319" stroke-width="1.0" opacity="1.00"/>
<path d="M55.5,600.0 C111.4,511.9 541.3,270.0 891.3,302.5" fill="none" stroke="#a81319" stroke-width="1.0" opacity="1.00"/>
<path d="M44.0,600.0 C101.8,511.2 540.8,270.7 890.8,302.3" fill="none" stroke="#a81319" stroke-width="1.0" opacity="1.00"/>
<path d="M32.5,600.0 C92.3,510.6 540.2,271.4 890.2,302.1" fill="none" stroke="#a81319" stroke-width="1.0" opacity="1.00"/>
<path d="M21.0,600.0 C82.7,510.2 539.6,272.1 889.6,302.0" fill="none" stroke="#a81319" stroke-width="1.0" opacity="1.00"/>
<path d="M9.5,600.0 C73.2,510.0 539.1,272.8 889.1,301.8" fill="none" stroke="#a81319" stroke-width="1.0" opacity="1.00"/>
<path d="M-2.0,600.0 C63.6,509.9 538.5,273.5 888.5,301.6" fill="none" stroke="#a81319" stroke-width="1.0" opacity="1.00"/>
<path d="M-13.5,600.0 C54.1,510.0 538.0,274.1 888.0,301.5" fill="none" stroke="#a81319" stroke-width="1.0" opacity="1.00"/>
<path d="M-25.0,600.0 C44.5,510.3 537.4,274.8 887.4,301.3" fill="none" stroke="#a81319" stroke-width="1.0" opacity="1.00"/>
<path d="M-36.5,600.0 C35.0,510.7 536.8,275.5 886.8,301.1" fill="none" stroke="#a81319" stroke-width="1.0" opacity="1.00"/>
<path d="M-30.0,591.0 C43.4,502.6 536.3,276.2 886.3,301.0" fill="none" stroke="#a81319" stroke-width="1.0" opacity="1.00"/>
<path d="M-30.0,581.8 C45.4,494.6 535.7,276.9 885.7,300.8" fill="none" stroke="#a81319" stroke-width="1.0" opacity="1.00"/>
<path d="M-30.0,572.5 C47.3,486.6 535.1,277.6 885.1,300.6" fill="none" stroke="#a81319" stroke-width="1.0" opacity="1.00"/>
<path d="M-30.0,563.0 C49.3,478.7 534.6,278.2 884.6,300.4" fill="none" stroke="#a81319" stroke-width="1.0" opacity="1.00"/>
<path d="M-30.0,553.4 C51.2,470.7 534.0,278.9 884.0,300.3" fill="none" stroke="#a81319" stroke-width="1.0" opacity="1.00"/>
<path d="M-30.0,543.5 C53.2,462.8 533.5,279.6 883.5,300.1" fill="none" stroke="#a81319" stroke-width="1.0" opacity="1.00"/>
<path d="M-30.0,533.5 C55.1,454.8 532.9,280.3 882.9,299.9" fill="none" stroke="#a81319" stroke-width="1.0" opacity="1.00"/>
<path d="M-30.0,523.4 C57.1,446.9 532.3,281.0 882.3,299.8" fill="none" stroke="#a81319" stroke-width="1.0" opacity="1.00"/>
<path d="M-30.0,513.0 C59.0,438.9 531.8,281.7 881.8,299.6" fill="none" stroke="#a81319" stroke-width="1.0" opacity="1.00"/>
<path d="M-30.0,502.5 C61.0,431.0 531.2,282.3 881.2,299.4" fill="none" stroke="#a81319" stroke-width="1.0" opacity="1.00"/>
<path d="M-30.0,491.7 C62.9,423.0 530.7,283.0 880.7,299.2" fill="none" stroke="#a81319" stroke-width="1.0" opacity="1.00"/>
<path d="M-30.0,480.8 C64.9,415.1 530.1,283.7 880.1,299.1" fill="none" stroke="#a81319" stroke-width="1.0" opacity="1.00"/>
<path d="M-30.0,469.7 C66.8,407.1 529.5,284.4 879.5,298.9" fill="none" stroke="#a81319" stroke-width="1.0" opacity="1.00"/>
<path d="M-30.0,458.4 C68.8,399.1 529.0,285.1 879.0,298.7" fill="none" stroke="#a81319" stroke-width="1.0" opacity="1.00"/>
<path d="M-30.0,446.9 C70.7,389.1 528.4,285.8 878.4,298.6" fill="none" stroke="#a81319" stroke-width="1.0" opacity="1.00"/>
<path d="M-30.0,435.1 C72.7,378.9 527.9,286.4 877.9,298.4" fill="none" stroke="#a81319" stroke-width="1.0" opacity="1.00"/>
<path d="M-30.0,423.2 C74.6,368.7 527.3,287.1 877.3,298.2" fill="none" stroke="#a81319" stroke-width="1.0" opacity="1.00"/>
<path d="M-30.0,411.1 C76.6,358.3 526.7,287.8 876.7,298.0" fill="none" stroke="#a81319" stroke-width="1.0" opacity="1.00"/>
<path d="M-30.0,398.7 C78.5,347.8 526.2,288.5 876.2,297.9" fill="none" stroke="#a81319" stroke-width="1.0" opacity="1.00"/>
<path d="M-30.0,386.2 C80.5,337.3 525.6,289.2 875.6,297.7" fill="none" stroke="#a81319" stroke-width="1.0" opacity="1.00"/>
<path d="M-30.0,373.4 C82.4,326.6 525.0,289.9 875.0,297.5" fill="none" stroke="#a81319" stroke-width="1.0" opacity="1.00"/>
<path d="M-30.0,360.3 C84.4,315.7 524.5,290.5 874.5,297.4" fill="none" stroke="#a81319" stroke-width="1.0" opacity="1.00"/>
<path d="M-30.0,347.1 C86.3,304.8 523.9,291.2 873.9,297.2" fill="none" stroke="#7e1420" stroke-width="1.0" opacity="0.85"/>
<path d="M-30.0,333.6 C88.3,293.7 523.4,291.9 873.4,297.0" fill="none" stroke="#7e1420" stroke-width="1.0" opacity="0.85"/>
<path d="M-30.0,319.9 C90.2,282.4 522.8,292.6 872.8,296.9" fill="none" stroke="#7e1420" stroke-width="1.0" opacity="0.85"/>
<path d="M-30.0,305.9 C92.2,271.1 522.2,293.3 872.2,296.7" fill="none" stroke="#7e1420" stroke-width="1.0" opacity="0.85"/>
<path d="M-30.0,291.7 C94.1,259.5 521.7,294.0 871.7,296.5" fill="none" stroke="#5a1020" stroke-width="1.0" opacity="0.75"/>
<path d="M-30.0,277.2 C96.1,247.9 521.1,294.6 871.1,296.3" fill="none" stroke="#5a1020" stroke-width="1.0" opacity="0.75"/>
<path d="M-30.0,262.5 C98.0,236.1 520.6,295.3 870.6,296.2" fill="none" stroke="#5a1020" stroke-width="1.0" opacity="0.75"/>
<path d="M-30.0,247.5 C100.0,224.1 520.0,296.0 870.0,296.0" fill="none" stroke="#5a1020" stroke-width="1.0" opacity="0.75"/>
</g>
</g>
<rect x="87" y="113.3" width="864" height="352.3" fill="url(#bg)" opacity="0.0"/>
<defs>
<linearGradient id="ribA" gradientUnits="userSpaceOnUse" x1="958" y1="212" x2="994" y2="290">
<stop offset="0" stop-color="#2a9ae0"/><stop offset="0.2" stop-color="#1a6ac0"/><stop offset="0.33" stop-color="#1c2070"/><stop offset="0.47" stop-color="#e3141e"/><stop offset="0.62" stop-color="#4a0c44"/><stop offset="0.78" stop-color="#12107a"/><stop offset="1" stop-color="#12107a"/></linearGradient>
<linearGradient id="ribC" gradientUnits="userSpaceOnUse" x1="1000" y1="215" x2="1012" y2="242">
<stop offset="0" stop-color="#3a0a50"/><stop offset="0.5" stop-color="#e0141e"/><stop offset="1" stop-color="#c01020"/></linearGradient>
</defs>
<path d="M950,221 C958,215 965,207 973,207 C981,207 987,216 994,224 L996,232 L972,266 L950,300 Z" fill="url(#ribA)"/>
<path d="M1003,213 C1008,221 1011,229 1013,234 C1010,241 1004,243 996,240 Z" fill="url(#ribC)"/>
<path d="M950,292 L984,240 C990,228 996,214 1003,210 C1007,213 1008,220 1005,228 L975,268 C965,282 957,292 950,302 Z" fill="#16147e"/>
<path d="M1011,225 C1013,222 1016,219 1018,219 L1018,226 C1016,228 1013,228 1011,225 Z" fill="#2a9ae0"/>
<line x1="87" y1="430.4" x2="951" y2="430.4" stroke="#d9d9d9" stroke-width="1.2"/>
<line x1="87" y1="395.1" x2="951" y2="395.1" stroke="#d9d9d9" stroke-width="1.2"/>
<line x1="87" y1="359.9" x2="951" y2="359.9" stroke="#d9d9d9" stroke-width="1.2"/>
<line x1="87" y1="324.7" x2="951" y2="324.7" stroke="#d9d9d9" stroke-width="1.2"/>
<line x1="87" y1="289.5" x2="951" y2="289.5" stroke="#d9d9d9" stroke-width="1.2"/>
<line x1="87" y1="254.2" x2="951" y2="254.2" stroke="#d9d9d9" stroke-width="1.2"/>
<line x1="87" y1="219.0" x2="951" y2="219.0" stroke="#d9d9d9" stroke-width="1.2"/>
<line x1="87" y1="183.8" x2="951" y2="183.8" stroke="#d9d9d9" stroke-width="1.2"/>
<line x1="87" y1="148.5" x2="951" y2="148.5" stroke="#d9d9d9" stroke-width="1.2"/>
<line x1="87" y1="113.3" x2="951" y2="113.3" stroke="#d9d9d9" stroke-width="1.2"/>
<g opacity="0.76">
<polygon points="87.0,113.3 231.0,113.3 375.0,113.3 519.0,113.3 663.0,113.3 807.0,113.3 951.0,113.3 951.0,278.5 807.0,278.2 663.0,274.7 519.0,273.2 375.0,272.9 231.0,275.4 87.0,278.5" fill="#5596d5"/>
<polygon points="87.0,278.5 231.0,275.4 375.0,272.9 519.0,273.2 663.0,274.7 807.0,278.2 951.0,278.5 951.0,361.3 807.0,363.1 663.0,361.0 519.0,360.3 375.0,360.3 231.0,360.6 87.0,361.3" fill="#f4ba02"/>
<polygon points="87.0,361.3 231.0,360.6 375.0,360.3 519.0,360.3 663.0,361.0 807.0,363.1 951.0,361.3 951.0,415.9 807.0,417.7 663.0,416.3 519.0,415.6 375.0,416.3 231.0,416.6 87.0,417.0" fill="#a5a5a5"/>
<polygon points="87.0,417.0 231.0,416.6 375.0,416.3 519.0,415.6 663.0,416.3 807.0,417.7 951.0,415.9 951.0,449.7 807.0,451.5 663.0,451.5 519.0,451.2 375.0,451.2 231.0,450.8 87.0,450.8" fill="#eb7a28"/>
<polygon points="87.0,450.8 231.0,450.8 375.0,451.2 519.0,451.2 663.0,451.5 807.0,451.5 951.0,449.7 951.0,465.6 87.0,465.6" fill="#4472c4"/>
</g>
<line x1="87" y1="465.6" x2="951" y2="465.6" stroke="#e6e6e6" stroke-width="1.4"/>
<path d="M520,300 C620,284 760,281 820,290 C850,295 875,301 895,306 C860,303 800,300 740,302 C660,305 590,304 520,300 Z" fill="#f39a00" opacity="0.28"/>
<path d="M876,278.5 C884,292 890,302 900,309 C915,317 935,314 951,301 L951,278.5 Z" fill="#5a3a40" opacity="0.1"/>
<path d="M846,226 C858,244 868,262 877,279" fill="none" stroke="#3a64a8" stroke-width="2" opacity="0.35"/>
<path d="M736.9,494.4 L751.7,503.2 L736.9,512 Z" fill="url(#tri)"/>
<path d="M755.0,494.4 L769.8,503.2 L755.0,512 Z" fill="url(#tri)"/>
<path d="M773.1,494.4 L787.9,503.2 L773.1,512 Z" fill="url(#tri)"/>
<path d="M791.1,494.4 L805.9,503.2 L791.1,512 Z" fill="url(#tri)"/>
<path d="M809.2,494.4 L824.0,503.2 L809.2,512 Z" fill="url(#tri)"/>
<path d="M827.3,494.4 L842.1,503.2 L827.3,512 Z" fill="url(#tri)"/>
<path d="M845.9,495.3 L859.6,503.2 L845.9,511.1 Z" fill="none" stroke="url(#tri)" stroke-width="1"/>
<path d="M864.0,495.3 L877.7,503.2 L864.0,511.1 Z" fill="none" stroke="url(#tri)" stroke-width="1"/>
<path d="M882.0,495.3 L895.7,503.2 L882.0,511.1 Z" fill="none" stroke="url(#tri)" stroke-width="1"/>
<path d="M900.1,495.3 L913.8,503.2 L900.1,511.1 Z" fill="none" stroke="url(#tri)" stroke-width="1"/>
<path d="M918.2,495.3 L931.9,503.2 L918.2,511.1 Z" fill="none" stroke="url(#tri)" stroke-width="1"/>
<path d="M936.3,495.3 L950.0,503.2 L936.3,511.1 Z" fill="none" stroke="url(#tri)" stroke-width="1"/>
<path d="M954.4,495.3 L968.1,503.2 L954.4,511.1 Z" fill="none" stroke="url(#tri)" stroke-width="1"/>
</svg>
<div class="t title">五个等分组收入比重图</div>
<div class="yl" style="top:458.8px">0<span class="pc">%</span></div>
<div class="yl" style="top:423.6px">10<span class="pc">%</span></div>
<div class="yl" style="top:388.3px">20<span class="pc">%</span></div>
<div class="yl" style="top:353.1px">30<span class="pc">%</span></div>
<div class="yl" style="top:317.9px">40<span class="pc">%</span></div>
<div class="yl" style="top:282.7px">50<span class="pc">%</span></div>
<div class="yl" style="top:247.4px">60<span class="pc">%</span></div>
<div class="yl" style="top:212.2px">70<span class="pc">%</span></div>
<div class="yl" style="top:177.0px">80<span class="pc">%</span></div>
<div class="yl" style="top:141.7px">90<span class="pc">%</span></div>
<div class="yl" style="top:106.5px">100<span class="pc">%</span></div>
<div class="xl" style="left:87.0px;top:474.5px">2013</div>
<div class="xl" style="left:231.0px;top:474.5px">2014</div>
<div class="xl" style="left:375.0px;top:474.5px">2015</div>
<div class="xl" style="left:519.0px;top:474.5px">2016</div>
<div class="xl" style="left:663.0px;top:474.5px">2017</div>
<div class="xl" style="left:807.0px;top:474.5px">2018</div>
<div class="xl" style="left:951.0px;top:474.5px">2019</div>
<div class="sq" style="left:97.0px;background:#3a5ea8"></div>
<div class="lg" style="left:107.5px">20<span class="pc">%</span>低收入</div>
<div class="sq" style="left:194.0px;background:#c0632b"></div>
<div class="lg" style="left:204.0px">20中间偏下</div>
<div class="sq" style="left:297.8px;background:#868686"></div>
<div class="lg" style="left:308.3px">20<span class="pc">%</span>中间收入</div>
<div class="sq" style="left:410.5px;background:#c9950a"></div>
<div class="lg" style="left:421.0px">中间偏上</div>
<div class="sq" style="left:497.5px;background:#4b7db8"></div>
<div class="lg" style="left:508.0px">20<span class="pc">%</span>高收入</div>
</body></html>
